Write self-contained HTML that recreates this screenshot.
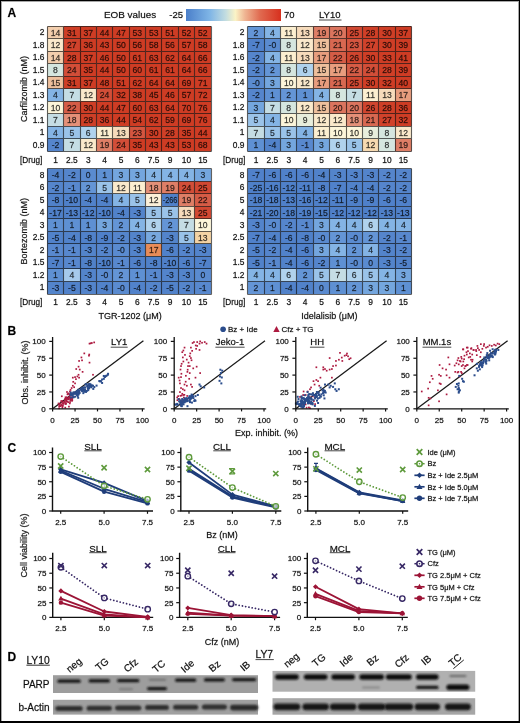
<!DOCTYPE html><html><head><meta charset="utf-8"><style>html,body{margin:0;padding:0;background:#fff;}body{width:520px;height:723px;position:relative;overflow:hidden;}</style></head><body><svg width="520" height="723" viewBox="0 0 520 723" style="position:absolute;left:0;top:0;font-family:'Liberation Sans', sans-serif;will-change:transform">
<style>text{stroke:#000;stroke-opacity:0.45;stroke-width:0.42}</style>
<rect x="0" y="0" width="520" height="723" fill="#fff"/>
<text x="7.50" y="17.00" font-size="12" text-anchor="start" fill="#000" font-weight="bold" >A</text>
<text x="104.00" y="18.20" font-size="9.9" text-anchor="start" fill="#111" font-weight="normal" >EOB values</text>
<text x="183.00" y="18.00" font-size="9.5" text-anchor="end" fill="#111" font-weight="normal" >-25</text>
<defs><linearGradient id="cb" x1="0" x2="1" y1="0" y2="0"><stop offset="0" stop-color="#4a7fca"/><stop offset="0.25" stop-color="#7fb5e6"/><stop offset="0.42" stop-color="#c3dde0"/><stop offset="0.52" stop-color="#fbf3c6"/><stop offset="0.62" stop-color="#efb593"/><stop offset="0.78" stop-color="#e06a50"/><stop offset="1" stop-color="#d7301e"/></linearGradient></defs>
<rect x="186" y="9" width="95" height="12" fill="url(#cb)"/>
<text x="284.00" y="18.00" font-size="9.5" text-anchor="start" fill="#111" font-weight="normal" >70</text>
<text x="319.00" y="18.00" font-size="9.5" text-anchor="start" fill="#111" font-weight="normal" >LY10</text>
<line x1="319" y1="20" x2="341.5" y2="20" stroke="#1a1a1a" stroke-width="0.8"/>
<rect x="47.30" y="26.20" width="16.37" height="12.52" fill="#f3cead"/>
<rect x="63.67" y="26.20" width="16.37" height="12.52" fill="#cf3e26"/>
<rect x="80.04" y="26.20" width="16.37" height="12.52" fill="#ce3c24"/>
<rect x="96.41" y="26.20" width="16.37" height="12.52" fill="#ce3c24"/>
<rect x="112.78" y="26.20" width="16.37" height="12.52" fill="#ce3c24"/>
<rect x="129.15" y="26.20" width="16.37" height="12.52" fill="#ce3c24"/>
<rect x="145.52" y="26.20" width="16.37" height="12.52" fill="#ce3c24"/>
<rect x="161.89" y="26.20" width="16.37" height="12.52" fill="#ce3c24"/>
<rect x="178.26" y="26.20" width="16.37" height="12.52" fill="#ce3c24"/>
<rect x="194.63" y="26.20" width="16.37" height="12.52" fill="#ce3c24"/>
<rect x="47.30" y="38.72" width="16.37" height="12.52" fill="#fae9cb"/>
<rect x="63.67" y="38.72" width="16.37" height="12.52" fill="#d0422b"/>
<rect x="80.04" y="38.72" width="16.37" height="12.52" fill="#ce3c24"/>
<rect x="96.41" y="38.72" width="16.37" height="12.52" fill="#ce3c24"/>
<rect x="112.78" y="38.72" width="16.37" height="12.52" fill="#ce3c24"/>
<rect x="129.15" y="38.72" width="16.37" height="12.52" fill="#ce3c24"/>
<rect x="145.52" y="38.72" width="16.37" height="12.52" fill="#ce3c24"/>
<rect x="161.89" y="38.72" width="16.37" height="12.52" fill="#ce3c24"/>
<rect x="178.26" y="38.72" width="16.37" height="12.52" fill="#ce3c24"/>
<rect x="194.63" y="38.72" width="16.37" height="12.52" fill="#ce3c24"/>
<rect x="47.30" y="51.24" width="16.37" height="12.52" fill="#f3cead"/>
<rect x="63.67" y="51.24" width="16.37" height="12.52" fill="#cf3f27"/>
<rect x="80.04" y="51.24" width="16.37" height="12.52" fill="#ce3c24"/>
<rect x="96.41" y="51.24" width="16.37" height="12.52" fill="#ce3c24"/>
<rect x="112.78" y="51.24" width="16.37" height="12.52" fill="#ce3c24"/>
<rect x="129.15" y="51.24" width="16.37" height="12.52" fill="#ce3c24"/>
<rect x="145.52" y="51.24" width="16.37" height="12.52" fill="#ce3c24"/>
<rect x="161.89" y="51.24" width="16.37" height="12.52" fill="#ce3c24"/>
<rect x="178.26" y="51.24" width="16.37" height="12.52" fill="#ce3c24"/>
<rect x="194.63" y="51.24" width="16.37" height="12.52" fill="#ce3c24"/>
<rect x="47.30" y="63.76" width="16.37" height="12.52" fill="#d5e6df"/>
<rect x="63.67" y="63.76" width="16.37" height="12.52" fill="#d24e38"/>
<rect x="80.04" y="63.76" width="16.37" height="12.52" fill="#ce3c24"/>
<rect x="96.41" y="63.76" width="16.37" height="12.52" fill="#ce3c24"/>
<rect x="112.78" y="63.76" width="16.37" height="12.52" fill="#ce3c24"/>
<rect x="129.15" y="63.76" width="16.37" height="12.52" fill="#ce3c24"/>
<rect x="145.52" y="63.76" width="16.37" height="12.52" fill="#ce3c24"/>
<rect x="161.89" y="63.76" width="16.37" height="12.52" fill="#ce3c24"/>
<rect x="178.26" y="63.76" width="16.37" height="12.52" fill="#ce3c24"/>
<rect x="194.63" y="63.76" width="16.37" height="12.52" fill="#ce3c24"/>
<rect x="47.30" y="76.28" width="16.37" height="12.52" fill="#eebf9c"/>
<rect x="63.67" y="76.28" width="16.37" height="12.52" fill="#cf3e26"/>
<rect x="80.04" y="76.28" width="16.37" height="12.52" fill="#ce3c24"/>
<rect x="96.41" y="76.28" width="16.37" height="12.52" fill="#ce3c24"/>
<rect x="112.78" y="76.28" width="16.37" height="12.52" fill="#ce3c24"/>
<rect x="129.15" y="76.28" width="16.37" height="12.52" fill="#ce3c24"/>
<rect x="145.52" y="76.28" width="16.37" height="12.52" fill="#ce3c24"/>
<rect x="161.89" y="76.28" width="16.37" height="12.52" fill="#ce3c24"/>
<rect x="178.26" y="76.28" width="16.37" height="12.52" fill="#ce3c24"/>
<rect x="194.63" y="76.28" width="16.37" height="12.52" fill="#ce3c24"/>
<rect x="47.30" y="88.80" width="16.37" height="12.52" fill="#84b4e5"/>
<rect x="63.67" y="88.80" width="16.37" height="12.52" fill="#c5dde4"/>
<rect x="80.04" y="88.80" width="16.37" height="12.52" fill="#fae9cb"/>
<rect x="96.41" y="88.80" width="16.37" height="12.52" fill="#d24e38"/>
<rect x="112.78" y="88.80" width="16.37" height="12.52" fill="#ce3d25"/>
<rect x="129.15" y="88.80" width="16.37" height="12.52" fill="#ce3c24"/>
<rect x="145.52" y="88.80" width="16.37" height="12.52" fill="#ce3c24"/>
<rect x="161.89" y="88.80" width="16.37" height="12.52" fill="#ce3c24"/>
<rect x="178.26" y="88.80" width="16.37" height="12.52" fill="#ce3c24"/>
<rect x="194.63" y="88.80" width="16.37" height="12.52" fill="#ce3c24"/>
<rect x="47.30" y="101.32" width="16.37" height="12.52" fill="#fcf5d9"/>
<rect x="63.67" y="101.32" width="16.37" height="12.52" fill="#d55c46"/>
<rect x="80.04" y="101.32" width="16.37" height="12.52" fill="#cf3e26"/>
<rect x="96.41" y="101.32" width="16.37" height="12.52" fill="#ce3c24"/>
<rect x="112.78" y="101.32" width="16.37" height="12.52" fill="#ce3c24"/>
<rect x="129.15" y="101.32" width="16.37" height="12.52" fill="#ce3c24"/>
<rect x="145.52" y="101.32" width="16.37" height="12.52" fill="#ce3c24"/>
<rect x="161.89" y="101.32" width="16.37" height="12.52" fill="#ce3c24"/>
<rect x="178.26" y="101.32" width="16.37" height="12.52" fill="#ce3c24"/>
<rect x="194.63" y="101.32" width="16.37" height="12.52" fill="#ce3c24"/>
<rect x="47.30" y="113.84" width="16.37" height="12.52" fill="#c5dde4"/>
<rect x="63.67" y="113.84" width="16.37" height="12.52" fill="#e49078"/>
<rect x="80.04" y="113.84" width="16.37" height="12.52" fill="#cf3f27"/>
<rect x="96.41" y="113.84" width="16.37" height="12.52" fill="#ce3c24"/>
<rect x="112.78" y="113.84" width="16.37" height="12.52" fill="#ce3c24"/>
<rect x="129.15" y="113.84" width="16.37" height="12.52" fill="#ce3c24"/>
<rect x="145.52" y="113.84" width="16.37" height="12.52" fill="#ce3c24"/>
<rect x="161.89" y="113.84" width="16.37" height="12.52" fill="#ce3c24"/>
<rect x="178.26" y="113.84" width="16.37" height="12.52" fill="#ce3c24"/>
<rect x="194.63" y="113.84" width="16.37" height="12.52" fill="#ce3c24"/>
<rect x="47.30" y="126.36" width="16.37" height="12.52" fill="#84b4e5"/>
<rect x="63.67" y="126.36" width="16.37" height="12.52" fill="#9ac3e9"/>
<rect x="80.04" y="126.36" width="16.37" height="12.52" fill="#b0d2ed"/>
<rect x="96.41" y="126.36" width="16.37" height="12.52" fill="#fcefd0"/>
<rect x="112.78" y="126.36" width="16.37" height="12.52" fill="#f6dbbb"/>
<rect x="129.15" y="126.36" width="16.37" height="12.52" fill="#d4553f"/>
<rect x="145.52" y="126.36" width="16.37" height="12.52" fill="#cf3e26"/>
<rect x="161.89" y="126.36" width="16.37" height="12.52" fill="#cf3f27"/>
<rect x="178.26" y="126.36" width="16.37" height="12.52" fill="#ce3c24"/>
<rect x="194.63" y="126.36" width="16.37" height="12.52" fill="#ce3c24"/>
<rect x="47.30" y="138.88" width="16.37" height="12.52" fill="#5585cc"/>
<rect x="63.67" y="138.88" width="16.37" height="12.52" fill="#c5dde4"/>
<rect x="80.04" y="138.88" width="16.37" height="12.52" fill="#fae9cb"/>
<rect x="96.41" y="138.88" width="16.37" height="12.52" fill="#de7e66"/>
<rect x="112.78" y="138.88" width="16.37" height="12.52" fill="#d24e38"/>
<rect x="129.15" y="138.88" width="16.37" height="12.52" fill="#ce3c24"/>
<rect x="145.52" y="138.88" width="16.37" height="12.52" fill="#ce3c24"/>
<rect x="161.89" y="138.88" width="16.37" height="12.52" fill="#ce3c24"/>
<rect x="178.26" y="138.88" width="16.37" height="12.52" fill="#ce3c24"/>
<rect x="194.63" y="138.88" width="16.37" height="12.52" fill="#ce3c24"/>
<path d="M47.50,26.50V151.50M63.50,26.50V151.50M80.50,26.50V151.50M96.50,26.50V151.50M112.50,26.50V151.50M129.50,26.50V151.50M145.50,26.50V151.50M161.50,26.50V151.50M178.50,26.50V151.50M194.50,26.50V151.50M211.50,26.50V151.50M47.50,26.50H211.50M47.50,38.50H211.50M47.50,51.50H211.50M47.50,63.50H211.50M47.50,76.50H211.50M47.50,88.50H211.50M47.50,101.50H211.50M47.50,113.50H211.50M47.50,126.50H211.50M47.50,138.50H211.50M47.50,151.50H211.50" fill="none" stroke="#000" stroke-opacity="0.62" stroke-width="1.1"/>
<text x="55.48" y="35.56" font-size="8.6" text-anchor="middle" fill="#312923" style="stroke:#312923;stroke-opacity:0.55;stroke-width:0.32">14</text>
<text x="71.86" y="35.56" font-size="8.6" text-anchor="middle" fill="#290c08" style="stroke:#290c08;stroke-opacity:0.55;stroke-width:0.32">31</text>
<text x="88.22" y="35.56" font-size="8.6" text-anchor="middle" fill="#290c07" style="stroke:#290c07;stroke-opacity:0.55;stroke-width:0.32">37</text>
<text x="104.59" y="35.56" font-size="8.6" text-anchor="middle" fill="#290c07" style="stroke:#290c07;stroke-opacity:0.55;stroke-width:0.32">44</text>
<text x="120.97" y="35.56" font-size="8.6" text-anchor="middle" fill="#290c07" style="stroke:#290c07;stroke-opacity:0.55;stroke-width:0.32">47</text>
<text x="137.34" y="35.56" font-size="8.6" text-anchor="middle" fill="#290c07" style="stroke:#290c07;stroke-opacity:0.55;stroke-width:0.32">53</text>
<text x="153.70" y="35.56" font-size="8.6" text-anchor="middle" fill="#290c07" style="stroke:#290c07;stroke-opacity:0.55;stroke-width:0.32">53</text>
<text x="170.07" y="35.56" font-size="8.6" text-anchor="middle" fill="#290c07" style="stroke:#290c07;stroke-opacity:0.55;stroke-width:0.32">51</text>
<text x="186.44" y="35.56" font-size="8.6" text-anchor="middle" fill="#290c07" style="stroke:#290c07;stroke-opacity:0.55;stroke-width:0.32">52</text>
<text x="202.81" y="35.56" font-size="8.6" text-anchor="middle" fill="#290c07" style="stroke:#290c07;stroke-opacity:0.55;stroke-width:0.32">52</text>
<text x="55.48" y="48.08" font-size="8.6" text-anchor="middle" fill="#322f29" style="stroke:#322f29;stroke-opacity:0.55;stroke-width:0.32">12</text>
<text x="71.86" y="48.08" font-size="8.6" text-anchor="middle" fill="#2a0d09" style="stroke:#2a0d09;stroke-opacity:0.55;stroke-width:0.32">27</text>
<text x="88.22" y="48.08" font-size="8.6" text-anchor="middle" fill="#290c07" style="stroke:#290c07;stroke-opacity:0.55;stroke-width:0.32">36</text>
<text x="104.59" y="48.08" font-size="8.6" text-anchor="middle" fill="#290c07" style="stroke:#290c07;stroke-opacity:0.55;stroke-width:0.32">43</text>
<text x="120.97" y="48.08" font-size="8.6" text-anchor="middle" fill="#290c07" style="stroke:#290c07;stroke-opacity:0.55;stroke-width:0.32">50</text>
<text x="137.34" y="48.08" font-size="8.6" text-anchor="middle" fill="#290c07" style="stroke:#290c07;stroke-opacity:0.55;stroke-width:0.32">56</text>
<text x="153.70" y="48.08" font-size="8.6" text-anchor="middle" fill="#290c07" style="stroke:#290c07;stroke-opacity:0.55;stroke-width:0.32">58</text>
<text x="170.07" y="48.08" font-size="8.6" text-anchor="middle" fill="#290c07" style="stroke:#290c07;stroke-opacity:0.55;stroke-width:0.32">56</text>
<text x="186.44" y="48.08" font-size="8.6" text-anchor="middle" fill="#290c07" style="stroke:#290c07;stroke-opacity:0.55;stroke-width:0.32">57</text>
<text x="202.81" y="48.08" font-size="8.6" text-anchor="middle" fill="#290c07" style="stroke:#290c07;stroke-opacity:0.55;stroke-width:0.32">58</text>
<text x="55.48" y="60.60" font-size="8.6" text-anchor="middle" fill="#312923" style="stroke:#312923;stroke-opacity:0.55;stroke-width:0.32">14</text>
<text x="71.86" y="60.60" font-size="8.6" text-anchor="middle" fill="#290d08" style="stroke:#290d08;stroke-opacity:0.55;stroke-width:0.32">28</text>
<text x="88.22" y="60.60" font-size="8.6" text-anchor="middle" fill="#290c07" style="stroke:#290c07;stroke-opacity:0.55;stroke-width:0.32">37</text>
<text x="104.59" y="60.60" font-size="8.6" text-anchor="middle" fill="#290c07" style="stroke:#290c07;stroke-opacity:0.55;stroke-width:0.32">46</text>
<text x="120.97" y="60.60" font-size="8.6" text-anchor="middle" fill="#290c07" style="stroke:#290c07;stroke-opacity:0.55;stroke-width:0.32">50</text>
<text x="137.34" y="60.60" font-size="8.6" text-anchor="middle" fill="#290c07" style="stroke:#290c07;stroke-opacity:0.55;stroke-width:0.32">61</text>
<text x="153.70" y="60.60" font-size="8.6" text-anchor="middle" fill="#290c07" style="stroke:#290c07;stroke-opacity:0.55;stroke-width:0.32">63</text>
<text x="170.07" y="60.60" font-size="8.6" text-anchor="middle" fill="#290c07" style="stroke:#290c07;stroke-opacity:0.55;stroke-width:0.32">62</text>
<text x="186.44" y="60.60" font-size="8.6" text-anchor="middle" fill="#290c07" style="stroke:#290c07;stroke-opacity:0.55;stroke-width:0.32">64</text>
<text x="202.81" y="60.60" font-size="8.6" text-anchor="middle" fill="#290c07" style="stroke:#290c07;stroke-opacity:0.55;stroke-width:0.32">66</text>
<text x="55.48" y="73.12" font-size="8.6" text-anchor="middle" fill="#2b2e2d" style="stroke:#2b2e2d;stroke-opacity:0.55;stroke-width:0.32">8</text>
<text x="71.86" y="73.12" font-size="8.6" text-anchor="middle" fill="#2a100b" style="stroke:#2a100b;stroke-opacity:0.55;stroke-width:0.32">24</text>
<text x="88.22" y="73.12" font-size="8.6" text-anchor="middle" fill="#290c07" style="stroke:#290c07;stroke-opacity:0.55;stroke-width:0.32">35</text>
<text x="104.59" y="73.12" font-size="8.6" text-anchor="middle" fill="#290c07" style="stroke:#290c07;stroke-opacity:0.55;stroke-width:0.32">44</text>
<text x="120.97" y="73.12" font-size="8.6" text-anchor="middle" fill="#290c07" style="stroke:#290c07;stroke-opacity:0.55;stroke-width:0.32">50</text>
<text x="137.34" y="73.12" font-size="8.6" text-anchor="middle" fill="#290c07" style="stroke:#290c07;stroke-opacity:0.55;stroke-width:0.32">60</text>
<text x="153.70" y="73.12" font-size="8.6" text-anchor="middle" fill="#290c07" style="stroke:#290c07;stroke-opacity:0.55;stroke-width:0.32">61</text>
<text x="170.07" y="73.12" font-size="8.6" text-anchor="middle" fill="#290c07" style="stroke:#290c07;stroke-opacity:0.55;stroke-width:0.32">61</text>
<text x="186.44" y="73.12" font-size="8.6" text-anchor="middle" fill="#290c07" style="stroke:#290c07;stroke-opacity:0.55;stroke-width:0.32">64</text>
<text x="202.81" y="73.12" font-size="8.6" text-anchor="middle" fill="#290c07" style="stroke:#290c07;stroke-opacity:0.55;stroke-width:0.32">66</text>
<text x="55.48" y="85.64" font-size="8.6" text-anchor="middle" fill="#30261f" style="stroke:#30261f;stroke-opacity:0.55;stroke-width:0.32">15</text>
<text x="71.86" y="85.64" font-size="8.6" text-anchor="middle" fill="#290c08" style="stroke:#290c08;stroke-opacity:0.55;stroke-width:0.32">31</text>
<text x="88.22" y="85.64" font-size="8.6" text-anchor="middle" fill="#290c07" style="stroke:#290c07;stroke-opacity:0.55;stroke-width:0.32">37</text>
<text x="104.59" y="85.64" font-size="8.6" text-anchor="middle" fill="#290c07" style="stroke:#290c07;stroke-opacity:0.55;stroke-width:0.32">48</text>
<text x="120.97" y="85.64" font-size="8.6" text-anchor="middle" fill="#290c07" style="stroke:#290c07;stroke-opacity:0.55;stroke-width:0.32">51</text>
<text x="137.34" y="85.64" font-size="8.6" text-anchor="middle" fill="#290c07" style="stroke:#290c07;stroke-opacity:0.55;stroke-width:0.32">62</text>
<text x="153.70" y="85.64" font-size="8.6" text-anchor="middle" fill="#290c07" style="stroke:#290c07;stroke-opacity:0.55;stroke-width:0.32">64</text>
<text x="170.07" y="85.64" font-size="8.6" text-anchor="middle" fill="#290c07" style="stroke:#290c07;stroke-opacity:0.55;stroke-width:0.32">64</text>
<text x="186.44" y="85.64" font-size="8.6" text-anchor="middle" fill="#290c07" style="stroke:#290c07;stroke-opacity:0.55;stroke-width:0.32">69</text>
<text x="202.81" y="85.64" font-size="8.6" text-anchor="middle" fill="#290c07" style="stroke:#290c07;stroke-opacity:0.55;stroke-width:0.32">71</text>
<text x="55.48" y="98.16" font-size="8.6" text-anchor="middle" fill="#1a242e" style="stroke:#1a242e;stroke-opacity:0.55;stroke-width:0.32">4</text>
<text x="71.86" y="98.16" font-size="8.6" text-anchor="middle" fill="#272c2e" style="stroke:#272c2e;stroke-opacity:0.55;stroke-width:0.32">7</text>
<text x="88.22" y="98.16" font-size="8.6" text-anchor="middle" fill="#322f29" style="stroke:#322f29;stroke-opacity:0.55;stroke-width:0.32">12</text>
<text x="104.59" y="98.16" font-size="8.6" text-anchor="middle" fill="#2a100b" style="stroke:#2a100b;stroke-opacity:0.55;stroke-width:0.32">24</text>
<text x="120.97" y="98.16" font-size="8.6" text-anchor="middle" fill="#290c07" style="stroke:#290c07;stroke-opacity:0.55;stroke-width:0.32">32</text>
<text x="137.34" y="98.16" font-size="8.6" text-anchor="middle" fill="#290c07" style="stroke:#290c07;stroke-opacity:0.55;stroke-width:0.32">38</text>
<text x="153.70" y="98.16" font-size="8.6" text-anchor="middle" fill="#290c07" style="stroke:#290c07;stroke-opacity:0.55;stroke-width:0.32">45</text>
<text x="170.07" y="98.16" font-size="8.6" text-anchor="middle" fill="#290c07" style="stroke:#290c07;stroke-opacity:0.55;stroke-width:0.32">46</text>
<text x="186.44" y="98.16" font-size="8.6" text-anchor="middle" fill="#290c07" style="stroke:#290c07;stroke-opacity:0.55;stroke-width:0.32">57</text>
<text x="202.81" y="98.16" font-size="8.6" text-anchor="middle" fill="#290c07" style="stroke:#290c07;stroke-opacity:0.55;stroke-width:0.32">72</text>
<text x="55.48" y="110.68" font-size="8.6" text-anchor="middle" fill="#32312b" style="stroke:#32312b;stroke-opacity:0.55;stroke-width:0.32">10</text>
<text x="71.86" y="110.68" font-size="8.6" text-anchor="middle" fill="#2b120e" style="stroke:#2b120e;stroke-opacity:0.55;stroke-width:0.32">22</text>
<text x="88.22" y="110.68" font-size="8.6" text-anchor="middle" fill="#290c08" style="stroke:#290c08;stroke-opacity:0.55;stroke-width:0.32">30</text>
<text x="104.59" y="110.68" font-size="8.6" text-anchor="middle" fill="#290c07" style="stroke:#290c07;stroke-opacity:0.55;stroke-width:0.32">44</text>
<text x="120.97" y="110.68" font-size="8.6" text-anchor="middle" fill="#290c07" style="stroke:#290c07;stroke-opacity:0.55;stroke-width:0.32">47</text>
<text x="137.34" y="110.68" font-size="8.6" text-anchor="middle" fill="#290c07" style="stroke:#290c07;stroke-opacity:0.55;stroke-width:0.32">60</text>
<text x="153.70" y="110.68" font-size="8.6" text-anchor="middle" fill="#290c07" style="stroke:#290c07;stroke-opacity:0.55;stroke-width:0.32">63</text>
<text x="170.07" y="110.68" font-size="8.6" text-anchor="middle" fill="#290c07" style="stroke:#290c07;stroke-opacity:0.55;stroke-width:0.32">64</text>
<text x="186.44" y="110.68" font-size="8.6" text-anchor="middle" fill="#290c07" style="stroke:#290c07;stroke-opacity:0.55;stroke-width:0.32">70</text>
<text x="202.81" y="110.68" font-size="8.6" text-anchor="middle" fill="#290c07" style="stroke:#290c07;stroke-opacity:0.55;stroke-width:0.32">76</text>
<text x="55.48" y="123.20" font-size="8.6" text-anchor="middle" fill="#272c2e" style="stroke:#272c2e;stroke-opacity:0.55;stroke-width:0.32">7</text>
<text x="71.86" y="123.20" font-size="8.6" text-anchor="middle" fill="#2e1d18" style="stroke:#2e1d18;stroke-opacity:0.55;stroke-width:0.32">18</text>
<text x="88.22" y="123.20" font-size="8.6" text-anchor="middle" fill="#290d08" style="stroke:#290d08;stroke-opacity:0.55;stroke-width:0.32">28</text>
<text x="104.59" y="123.20" font-size="8.6" text-anchor="middle" fill="#290c07" style="stroke:#290c07;stroke-opacity:0.55;stroke-width:0.32">36</text>
<text x="120.97" y="123.20" font-size="8.6" text-anchor="middle" fill="#290c07" style="stroke:#290c07;stroke-opacity:0.55;stroke-width:0.32">44</text>
<text x="137.34" y="123.20" font-size="8.6" text-anchor="middle" fill="#290c07" style="stroke:#290c07;stroke-opacity:0.55;stroke-width:0.32">54</text>
<text x="153.70" y="123.20" font-size="8.6" text-anchor="middle" fill="#290c07" style="stroke:#290c07;stroke-opacity:0.55;stroke-width:0.32">62</text>
<text x="170.07" y="123.20" font-size="8.6" text-anchor="middle" fill="#290c07" style="stroke:#290c07;stroke-opacity:0.55;stroke-width:0.32">59</text>
<text x="186.44" y="123.20" font-size="8.6" text-anchor="middle" fill="#290c07" style="stroke:#290c07;stroke-opacity:0.55;stroke-width:0.32">69</text>
<text x="202.81" y="123.20" font-size="8.6" text-anchor="middle" fill="#290c07" style="stroke:#290c07;stroke-opacity:0.55;stroke-width:0.32">76</text>
<text x="55.48" y="135.72" font-size="8.6" text-anchor="middle" fill="#1a242e" style="stroke:#1a242e;stroke-opacity:0.55;stroke-width:0.32">4</text>
<text x="71.86" y="135.72" font-size="8.6" text-anchor="middle" fill="#1f272f" style="stroke:#1f272f;stroke-opacity:0.55;stroke-width:0.32">5</text>
<text x="88.22" y="135.72" font-size="8.6" text-anchor="middle" fill="#232a2f" style="stroke:#232a2f;stroke-opacity:0.55;stroke-width:0.32">6</text>
<text x="104.59" y="135.72" font-size="8.6" text-anchor="middle" fill="#32302a" style="stroke:#32302a;stroke-opacity:0.55;stroke-width:0.32">11</text>
<text x="120.97" y="135.72" font-size="8.6" text-anchor="middle" fill="#312c25" style="stroke:#312c25;stroke-opacity:0.55;stroke-width:0.32">13</text>
<text x="137.34" y="135.72" font-size="8.6" text-anchor="middle" fill="#2a110d" style="stroke:#2a110d;stroke-opacity:0.55;stroke-width:0.32">23</text>
<text x="153.70" y="135.72" font-size="8.6" text-anchor="middle" fill="#290c08" style="stroke:#290c08;stroke-opacity:0.55;stroke-width:0.32">30</text>
<text x="170.07" y="135.72" font-size="8.6" text-anchor="middle" fill="#290d08" style="stroke:#290d08;stroke-opacity:0.55;stroke-width:0.32">28</text>
<text x="186.44" y="135.72" font-size="8.6" text-anchor="middle" fill="#290c07" style="stroke:#290c07;stroke-opacity:0.55;stroke-width:0.32">35</text>
<text x="202.81" y="135.72" font-size="8.6" text-anchor="middle" fill="#290c07" style="stroke:#290c07;stroke-opacity:0.55;stroke-width:0.32">44</text>
<text x="55.48" y="148.24" font-size="8.6" text-anchor="middle" fill="#111b29" style="stroke:#111b29;stroke-opacity:0.55;stroke-width:0.32">-2</text>
<text x="71.86" y="148.24" font-size="8.6" text-anchor="middle" fill="#272c2e" style="stroke:#272c2e;stroke-opacity:0.55;stroke-width:0.32">7</text>
<text x="88.22" y="148.24" font-size="8.6" text-anchor="middle" fill="#322f29" style="stroke:#322f29;stroke-opacity:0.55;stroke-width:0.32">12</text>
<text x="104.59" y="148.24" font-size="8.6" text-anchor="middle" fill="#2c1914" style="stroke:#2c1914;stroke-opacity:0.55;stroke-width:0.32">19</text>
<text x="120.97" y="148.24" font-size="8.6" text-anchor="middle" fill="#2a100b" style="stroke:#2a100b;stroke-opacity:0.55;stroke-width:0.32">24</text>
<text x="137.34" y="148.24" font-size="8.6" text-anchor="middle" fill="#290c07" style="stroke:#290c07;stroke-opacity:0.55;stroke-width:0.32">35</text>
<text x="153.70" y="148.24" font-size="8.6" text-anchor="middle" fill="#290c07" style="stroke:#290c07;stroke-opacity:0.55;stroke-width:0.32">43</text>
<text x="170.07" y="148.24" font-size="8.6" text-anchor="middle" fill="#290c07" style="stroke:#290c07;stroke-opacity:0.55;stroke-width:0.32">43</text>
<text x="186.44" y="148.24" font-size="8.6" text-anchor="middle" fill="#290c07" style="stroke:#290c07;stroke-opacity:0.55;stroke-width:0.32">53</text>
<text x="202.81" y="148.24" font-size="8.6" text-anchor="middle" fill="#290c07" style="stroke:#290c07;stroke-opacity:0.55;stroke-width:0.32">68</text>
<rect x="247.80" y="26.20" width="16.37" height="12.52" fill="#6495d6"/>
<rect x="264.17" y="26.20" width="16.37" height="12.52" fill="#84b4e5"/>
<rect x="280.54" y="26.20" width="16.37" height="12.52" fill="#fcefd0"/>
<rect x="296.91" y="26.20" width="16.37" height="12.52" fill="#f6dbbb"/>
<rect x="313.28" y="26.20" width="16.37" height="12.52" fill="#de7e66"/>
<rect x="329.65" y="26.20" width="16.37" height="12.52" fill="#db745e"/>
<rect x="346.02" y="26.20" width="16.37" height="12.52" fill="#d14832"/>
<rect x="362.39" y="26.20" width="16.37" height="12.52" fill="#cf3f27"/>
<rect x="378.76" y="26.20" width="16.37" height="12.52" fill="#cf3e26"/>
<rect x="395.13" y="26.20" width="16.37" height="12.52" fill="#ce3c24"/>
<rect x="247.80" y="38.72" width="16.37" height="12.52" fill="#5081ca"/>
<rect x="264.17" y="38.72" width="16.37" height="12.52" fill="#5a8bd0"/>
<rect x="280.54" y="38.72" width="16.37" height="12.52" fill="#d5e6df"/>
<rect x="296.91" y="38.72" width="16.37" height="12.52" fill="#fae9cb"/>
<rect x="313.28" y="38.72" width="16.37" height="12.52" fill="#eebf9c"/>
<rect x="329.65" y="38.72" width="16.37" height="12.52" fill="#d86851"/>
<rect x="346.02" y="38.72" width="16.37" height="12.52" fill="#d4553f"/>
<rect x="362.39" y="38.72" width="16.37" height="12.52" fill="#d0422b"/>
<rect x="378.76" y="38.72" width="16.37" height="12.52" fill="#cf3e26"/>
<rect x="395.13" y="38.72" width="16.37" height="12.52" fill="#ce3c24"/>
<rect x="247.80" y="51.24" width="16.37" height="12.52" fill="#5585cc"/>
<rect x="264.17" y="51.24" width="16.37" height="12.52" fill="#84b4e5"/>
<rect x="280.54" y="51.24" width="16.37" height="12.52" fill="#fcefd0"/>
<rect x="296.91" y="51.24" width="16.37" height="12.52" fill="#f6dbbb"/>
<rect x="313.28" y="51.24" width="16.37" height="12.52" fill="#e89d7e"/>
<rect x="329.65" y="51.24" width="16.37" height="12.52" fill="#d55c46"/>
<rect x="346.02" y="51.24" width="16.37" height="12.52" fill="#d0452e"/>
<rect x="362.39" y="51.24" width="16.37" height="12.52" fill="#cf3e26"/>
<rect x="378.76" y="51.24" width="16.37" height="12.52" fill="#ce3d25"/>
<rect x="395.13" y="51.24" width="16.37" height="12.52" fill="#ce3c24"/>
<rect x="247.80" y="63.76" width="16.37" height="12.52" fill="#5585cc"/>
<rect x="264.17" y="63.76" width="16.37" height="12.52" fill="#6495d6"/>
<rect x="280.54" y="63.76" width="16.37" height="12.52" fill="#d5e6df"/>
<rect x="296.91" y="63.76" width="16.37" height="12.52" fill="#b0d2ed"/>
<rect x="313.28" y="63.76" width="16.37" height="12.52" fill="#eebf9c"/>
<rect x="329.65" y="63.76" width="16.37" height="12.52" fill="#e89d7e"/>
<rect x="346.02" y="63.76" width="16.37" height="12.52" fill="#d55c46"/>
<rect x="362.39" y="63.76" width="16.37" height="12.52" fill="#d24e38"/>
<rect x="378.76" y="63.76" width="16.37" height="12.52" fill="#cf3f27"/>
<rect x="395.13" y="63.76" width="16.37" height="12.52" fill="#ce3c24"/>
<rect x="247.80" y="76.28" width="16.37" height="12.52" fill="#5a8bd0"/>
<rect x="264.17" y="76.28" width="16.37" height="12.52" fill="#74a6de"/>
<rect x="280.54" y="76.28" width="16.37" height="12.52" fill="#fcf5d9"/>
<rect x="296.91" y="76.28" width="16.37" height="12.52" fill="#fae9cb"/>
<rect x="313.28" y="76.28" width="16.37" height="12.52" fill="#e89d7e"/>
<rect x="329.65" y="76.28" width="16.37" height="12.52" fill="#d86851"/>
<rect x="346.02" y="76.28" width="16.37" height="12.52" fill="#d14832"/>
<rect x="362.39" y="76.28" width="16.37" height="12.52" fill="#cf3e26"/>
<rect x="378.76" y="76.28" width="16.37" height="12.52" fill="#ce3d25"/>
<rect x="395.13" y="76.28" width="16.37" height="12.52" fill="#ce3c24"/>
<rect x="247.80" y="88.80" width="16.37" height="12.52" fill="#5585cc"/>
<rect x="264.17" y="88.80" width="16.37" height="12.52" fill="#5e90d3"/>
<rect x="280.54" y="88.80" width="16.37" height="12.52" fill="#6495d6"/>
<rect x="296.91" y="88.80" width="16.37" height="12.52" fill="#5e90d3"/>
<rect x="313.28" y="88.80" width="16.37" height="12.52" fill="#84b4e5"/>
<rect x="329.65" y="88.80" width="16.37" height="12.52" fill="#d5e6df"/>
<rect x="346.02" y="88.80" width="16.37" height="12.52" fill="#c5dde4"/>
<rect x="362.39" y="88.80" width="16.37" height="12.52" fill="#fcefd0"/>
<rect x="378.76" y="88.80" width="16.37" height="12.52" fill="#f6dbbb"/>
<rect x="395.13" y="88.80" width="16.37" height="12.52" fill="#e89d7e"/>
<rect x="247.80" y="101.32" width="16.37" height="12.52" fill="#74a6de"/>
<rect x="264.17" y="101.32" width="16.37" height="12.52" fill="#c5dde4"/>
<rect x="280.54" y="101.32" width="16.37" height="12.52" fill="#d5e6df"/>
<rect x="296.91" y="101.32" width="16.37" height="12.52" fill="#fae9cb"/>
<rect x="313.28" y="101.32" width="16.37" height="12.52" fill="#eebf9c"/>
<rect x="329.65" y="101.32" width="16.37" height="12.52" fill="#db745e"/>
<rect x="346.02" y="101.32" width="16.37" height="12.52" fill="#db745e"/>
<rect x="362.39" y="101.32" width="16.37" height="12.52" fill="#d0452e"/>
<rect x="378.76" y="101.32" width="16.37" height="12.52" fill="#cf3f27"/>
<rect x="395.13" y="101.32" width="16.37" height="12.52" fill="#ce3c24"/>
<rect x="247.80" y="113.84" width="16.37" height="12.52" fill="#9ac3e9"/>
<rect x="264.17" y="113.84" width="16.37" height="12.52" fill="#84b4e5"/>
<rect x="280.54" y="113.84" width="16.37" height="12.52" fill="#fcf5d9"/>
<rect x="296.91" y="113.84" width="16.37" height="12.52" fill="#e8eedc"/>
<rect x="313.28" y="113.84" width="16.37" height="12.52" fill="#fae9cb"/>
<rect x="329.65" y="113.84" width="16.37" height="12.52" fill="#fae9cb"/>
<rect x="346.02" y="113.84" width="16.37" height="12.52" fill="#e49078"/>
<rect x="362.39" y="113.84" width="16.37" height="12.52" fill="#d86851"/>
<rect x="378.76" y="113.84" width="16.37" height="12.52" fill="#d0422b"/>
<rect x="395.13" y="113.84" width="16.37" height="12.52" fill="#ce3d25"/>
<rect x="247.80" y="126.36" width="16.37" height="12.52" fill="#c5dde4"/>
<rect x="264.17" y="126.36" width="16.37" height="12.52" fill="#9ac3e9"/>
<rect x="280.54" y="126.36" width="16.37" height="12.52" fill="#9ac3e9"/>
<rect x="296.91" y="126.36" width="16.37" height="12.52" fill="#84b4e5"/>
<rect x="313.28" y="126.36" width="16.37" height="12.52" fill="#fcefd0"/>
<rect x="329.65" y="126.36" width="16.37" height="12.52" fill="#fcf5d9"/>
<rect x="346.02" y="126.36" width="16.37" height="12.52" fill="#fcf5d9"/>
<rect x="362.39" y="126.36" width="16.37" height="12.52" fill="#e8eedc"/>
<rect x="378.76" y="126.36" width="16.37" height="12.52" fill="#d5e6df"/>
<rect x="395.13" y="126.36" width="16.37" height="12.52" fill="#fae9cb"/>
<rect x="247.80" y="138.88" width="16.37" height="12.52" fill="#5e90d3"/>
<rect x="264.17" y="138.88" width="16.37" height="12.52" fill="#5182ca"/>
<rect x="280.54" y="138.88" width="16.37" height="12.52" fill="#74a6de"/>
<rect x="296.91" y="138.88" width="16.37" height="12.52" fill="#5888ce"/>
<rect x="313.28" y="138.88" width="16.37" height="12.52" fill="#74a6de"/>
<rect x="329.65" y="138.88" width="16.37" height="12.52" fill="#b0d2ed"/>
<rect x="346.02" y="138.88" width="16.37" height="12.52" fill="#9ac3e9"/>
<rect x="362.39" y="138.88" width="16.37" height="12.52" fill="#f6d9b0"/>
<rect x="378.76" y="138.88" width="16.37" height="12.52" fill="#d5e6df"/>
<rect x="395.13" y="138.88" width="16.37" height="12.52" fill="#de7e66"/>
<path d="M247.50,26.50V151.50M264.50,26.50V151.50M280.50,26.50V151.50M296.50,26.50V151.50M313.50,26.50V151.50M329.50,26.50V151.50M346.50,26.50V151.50M362.50,26.50V151.50M378.50,26.50V151.50M395.50,26.50V151.50M411.50,26.50V151.50M247.50,26.50H411.50M247.50,38.50H411.50M247.50,51.50H411.50M247.50,63.50H411.50M247.50,76.50H411.50M247.50,88.50H411.50M247.50,101.50H411.50M247.50,113.50H411.50M247.50,126.50H411.50M247.50,138.50H411.50M247.50,151.50H411.50" fill="none" stroke="#000" stroke-opacity="0.62" stroke-width="1.1"/>
<text x="255.99" y="35.56" font-size="8.6" text-anchor="middle" fill="#141e2b" style="stroke:#141e2b;stroke-opacity:0.55;stroke-width:0.32">2</text>
<text x="272.36" y="35.56" font-size="8.6" text-anchor="middle" fill="#1a242e" style="stroke:#1a242e;stroke-opacity:0.55;stroke-width:0.32">4</text>
<text x="288.73" y="35.56" font-size="8.6" text-anchor="middle" fill="#32302a" style="stroke:#32302a;stroke-opacity:0.55;stroke-width:0.32">11</text>
<text x="305.10" y="35.56" font-size="8.6" text-anchor="middle" fill="#312c25" style="stroke:#312c25;stroke-opacity:0.55;stroke-width:0.32">13</text>
<text x="321.47" y="35.56" font-size="8.6" text-anchor="middle" fill="#2c1914" style="stroke:#2c1914;stroke-opacity:0.55;stroke-width:0.32">19</text>
<text x="337.84" y="35.56" font-size="8.6" text-anchor="middle" fill="#2c1713" style="stroke:#2c1713;stroke-opacity:0.55;stroke-width:0.32">20</text>
<text x="354.20" y="35.56" font-size="8.6" text-anchor="middle" fill="#2a0e0a" style="stroke:#2a0e0a;stroke-opacity:0.55;stroke-width:0.32">25</text>
<text x="370.57" y="35.56" font-size="8.6" text-anchor="middle" fill="#290d08" style="stroke:#290d08;stroke-opacity:0.55;stroke-width:0.32">28</text>
<text x="386.94" y="35.56" font-size="8.6" text-anchor="middle" fill="#290c08" style="stroke:#290c08;stroke-opacity:0.55;stroke-width:0.32">30</text>
<text x="403.31" y="35.56" font-size="8.6" text-anchor="middle" fill="#290c07" style="stroke:#290c07;stroke-opacity:0.55;stroke-width:0.32">37</text>
<text x="255.99" y="48.08" font-size="8.6" text-anchor="middle" fill="#101a28" style="stroke:#101a28;stroke-opacity:0.55;stroke-width:0.32">-7</text>
<text x="272.36" y="48.08" font-size="8.6" text-anchor="middle" fill="#121c2a" style="stroke:#121c2a;stroke-opacity:0.55;stroke-width:0.32">-0</text>
<text x="288.73" y="48.08" font-size="8.6" text-anchor="middle" fill="#2b2e2d" style="stroke:#2b2e2d;stroke-opacity:0.55;stroke-width:0.32">8</text>
<text x="305.10" y="48.08" font-size="8.6" text-anchor="middle" fill="#322f29" style="stroke:#322f29;stroke-opacity:0.55;stroke-width:0.32">12</text>
<text x="321.47" y="48.08" font-size="8.6" text-anchor="middle" fill="#30261f" style="stroke:#30261f;stroke-opacity:0.55;stroke-width:0.32">15</text>
<text x="337.84" y="48.08" font-size="8.6" text-anchor="middle" fill="#2b1510" style="stroke:#2b1510;stroke-opacity:0.55;stroke-width:0.32">21</text>
<text x="354.20" y="48.08" font-size="8.6" text-anchor="middle" fill="#2a110d" style="stroke:#2a110d;stroke-opacity:0.55;stroke-width:0.32">23</text>
<text x="370.57" y="48.08" font-size="8.6" text-anchor="middle" fill="#2a0d09" style="stroke:#2a0d09;stroke-opacity:0.55;stroke-width:0.32">27</text>
<text x="386.94" y="48.08" font-size="8.6" text-anchor="middle" fill="#290c08" style="stroke:#290c08;stroke-opacity:0.55;stroke-width:0.32">30</text>
<text x="403.31" y="48.08" font-size="8.6" text-anchor="middle" fill="#290c07" style="stroke:#290c07;stroke-opacity:0.55;stroke-width:0.32">39</text>
<text x="255.99" y="60.60" font-size="8.6" text-anchor="middle" fill="#111b29" style="stroke:#111b29;stroke-opacity:0.55;stroke-width:0.32">-2</text>
<text x="272.36" y="60.60" font-size="8.6" text-anchor="middle" fill="#1a242e" style="stroke:#1a242e;stroke-opacity:0.55;stroke-width:0.32">4</text>
<text x="288.73" y="60.60" font-size="8.6" text-anchor="middle" fill="#32302a" style="stroke:#32302a;stroke-opacity:0.55;stroke-width:0.32">11</text>
<text x="305.10" y="60.60" font-size="8.6" text-anchor="middle" fill="#312c25" style="stroke:#312c25;stroke-opacity:0.55;stroke-width:0.32">13</text>
<text x="321.47" y="60.60" font-size="8.6" text-anchor="middle" fill="#2e1f19" style="stroke:#2e1f19;stroke-opacity:0.55;stroke-width:0.32">17</text>
<text x="337.84" y="60.60" font-size="8.6" text-anchor="middle" fill="#2b120e" style="stroke:#2b120e;stroke-opacity:0.55;stroke-width:0.32">22</text>
<text x="354.20" y="60.60" font-size="8.6" text-anchor="middle" fill="#2a0e09" style="stroke:#2a0e09;stroke-opacity:0.55;stroke-width:0.32">26</text>
<text x="370.57" y="60.60" font-size="8.6" text-anchor="middle" fill="#290c08" style="stroke:#290c08;stroke-opacity:0.55;stroke-width:0.32">30</text>
<text x="386.94" y="60.60" font-size="8.6" text-anchor="middle" fill="#290c07" style="stroke:#290c07;stroke-opacity:0.55;stroke-width:0.32">33</text>
<text x="403.31" y="60.60" font-size="8.6" text-anchor="middle" fill="#290c07" style="stroke:#290c07;stroke-opacity:0.55;stroke-width:0.32">41</text>
<text x="255.99" y="73.12" font-size="8.6" text-anchor="middle" fill="#111b29" style="stroke:#111b29;stroke-opacity:0.55;stroke-width:0.32">-2</text>
<text x="272.36" y="73.12" font-size="8.6" text-anchor="middle" fill="#141e2b" style="stroke:#141e2b;stroke-opacity:0.55;stroke-width:0.32">2</text>
<text x="288.73" y="73.12" font-size="8.6" text-anchor="middle" fill="#2b2e2d" style="stroke:#2b2e2d;stroke-opacity:0.55;stroke-width:0.32">8</text>
<text x="305.10" y="73.12" font-size="8.6" text-anchor="middle" fill="#232a2f" style="stroke:#232a2f;stroke-opacity:0.55;stroke-width:0.32">6</text>
<text x="321.47" y="73.12" font-size="8.6" text-anchor="middle" fill="#30261f" style="stroke:#30261f;stroke-opacity:0.55;stroke-width:0.32">15</text>
<text x="337.84" y="73.12" font-size="8.6" text-anchor="middle" fill="#2e1f19" style="stroke:#2e1f19;stroke-opacity:0.55;stroke-width:0.32">17</text>
<text x="354.20" y="73.12" font-size="8.6" text-anchor="middle" fill="#2b120e" style="stroke:#2b120e;stroke-opacity:0.55;stroke-width:0.32">22</text>
<text x="370.57" y="73.12" font-size="8.6" text-anchor="middle" fill="#2a100b" style="stroke:#2a100b;stroke-opacity:0.55;stroke-width:0.32">24</text>
<text x="386.94" y="73.12" font-size="8.6" text-anchor="middle" fill="#290d08" style="stroke:#290d08;stroke-opacity:0.55;stroke-width:0.32">28</text>
<text x="403.31" y="73.12" font-size="8.6" text-anchor="middle" fill="#290c07" style="stroke:#290c07;stroke-opacity:0.55;stroke-width:0.32">39</text>
<text x="255.99" y="85.64" font-size="8.6" text-anchor="middle" fill="#121c2a" style="stroke:#121c2a;stroke-opacity:0.55;stroke-width:0.32">-0</text>
<text x="272.36" y="85.64" font-size="8.6" text-anchor="middle" fill="#17212c" style="stroke:#17212c;stroke-opacity:0.55;stroke-width:0.32">3</text>
<text x="288.73" y="85.64" font-size="8.6" text-anchor="middle" fill="#32312b" style="stroke:#32312b;stroke-opacity:0.55;stroke-width:0.32">10</text>
<text x="305.10" y="85.64" font-size="8.6" text-anchor="middle" fill="#322f29" style="stroke:#322f29;stroke-opacity:0.55;stroke-width:0.32">12</text>
<text x="321.47" y="85.64" font-size="8.6" text-anchor="middle" fill="#2e1f19" style="stroke:#2e1f19;stroke-opacity:0.55;stroke-width:0.32">17</text>
<text x="337.84" y="85.64" font-size="8.6" text-anchor="middle" fill="#2b1510" style="stroke:#2b1510;stroke-opacity:0.55;stroke-width:0.32">21</text>
<text x="354.20" y="85.64" font-size="8.6" text-anchor="middle" fill="#2a0e0a" style="stroke:#2a0e0a;stroke-opacity:0.55;stroke-width:0.32">25</text>
<text x="370.57" y="85.64" font-size="8.6" text-anchor="middle" fill="#290c08" style="stroke:#290c08;stroke-opacity:0.55;stroke-width:0.32">30</text>
<text x="386.94" y="85.64" font-size="8.6" text-anchor="middle" fill="#290c07" style="stroke:#290c07;stroke-opacity:0.55;stroke-width:0.32">32</text>
<text x="403.31" y="85.64" font-size="8.6" text-anchor="middle" fill="#290c07" style="stroke:#290c07;stroke-opacity:0.55;stroke-width:0.32">40</text>
<text x="255.99" y="98.16" font-size="8.6" text-anchor="middle" fill="#111b29" style="stroke:#111b29;stroke-opacity:0.55;stroke-width:0.32">-2</text>
<text x="272.36" y="98.16" font-size="8.6" text-anchor="middle" fill="#131d2a" style="stroke:#131d2a;stroke-opacity:0.55;stroke-width:0.32">1</text>
<text x="288.73" y="98.16" font-size="8.6" text-anchor="middle" fill="#141e2b" style="stroke:#141e2b;stroke-opacity:0.55;stroke-width:0.32">2</text>
<text x="305.10" y="98.16" font-size="8.6" text-anchor="middle" fill="#131d2a" style="stroke:#131d2a;stroke-opacity:0.55;stroke-width:0.32">1</text>
<text x="321.47" y="98.16" font-size="8.6" text-anchor="middle" fill="#1a242e" style="stroke:#1a242e;stroke-opacity:0.55;stroke-width:0.32">4</text>
<text x="337.84" y="98.16" font-size="8.6" text-anchor="middle" fill="#2b2e2d" style="stroke:#2b2e2d;stroke-opacity:0.55;stroke-width:0.32">8</text>
<text x="354.20" y="98.16" font-size="8.6" text-anchor="middle" fill="#272c2e" style="stroke:#272c2e;stroke-opacity:0.55;stroke-width:0.32">7</text>
<text x="370.57" y="98.16" font-size="8.6" text-anchor="middle" fill="#32302a" style="stroke:#32302a;stroke-opacity:0.55;stroke-width:0.32">11</text>
<text x="386.94" y="98.16" font-size="8.6" text-anchor="middle" fill="#312c25" style="stroke:#312c25;stroke-opacity:0.55;stroke-width:0.32">13</text>
<text x="403.31" y="98.16" font-size="8.6" text-anchor="middle" fill="#2e1f19" style="stroke:#2e1f19;stroke-opacity:0.55;stroke-width:0.32">17</text>
<text x="255.99" y="110.68" font-size="8.6" text-anchor="middle" fill="#17212c" style="stroke:#17212c;stroke-opacity:0.55;stroke-width:0.32">3</text>
<text x="272.36" y="110.68" font-size="8.6" text-anchor="middle" fill="#272c2e" style="stroke:#272c2e;stroke-opacity:0.55;stroke-width:0.32">7</text>
<text x="288.73" y="110.68" font-size="8.6" text-anchor="middle" fill="#2b2e2d" style="stroke:#2b2e2d;stroke-opacity:0.55;stroke-width:0.32">8</text>
<text x="305.10" y="110.68" font-size="8.6" text-anchor="middle" fill="#322f29" style="stroke:#322f29;stroke-opacity:0.55;stroke-width:0.32">12</text>
<text x="321.47" y="110.68" font-size="8.6" text-anchor="middle" fill="#30261f" style="stroke:#30261f;stroke-opacity:0.55;stroke-width:0.32">15</text>
<text x="337.84" y="110.68" font-size="8.6" text-anchor="middle" fill="#2c1713" style="stroke:#2c1713;stroke-opacity:0.55;stroke-width:0.32">20</text>
<text x="354.20" y="110.68" font-size="8.6" text-anchor="middle" fill="#2c1713" style="stroke:#2c1713;stroke-opacity:0.55;stroke-width:0.32">20</text>
<text x="370.57" y="110.68" font-size="8.6" text-anchor="middle" fill="#2a0e09" style="stroke:#2a0e09;stroke-opacity:0.55;stroke-width:0.32">26</text>
<text x="386.94" y="110.68" font-size="8.6" text-anchor="middle" fill="#290d08" style="stroke:#290d08;stroke-opacity:0.55;stroke-width:0.32">28</text>
<text x="403.31" y="110.68" font-size="8.6" text-anchor="middle" fill="#290c07" style="stroke:#290c07;stroke-opacity:0.55;stroke-width:0.32">36</text>
<text x="255.99" y="123.20" font-size="8.6" text-anchor="middle" fill="#1f272f" style="stroke:#1f272f;stroke-opacity:0.55;stroke-width:0.32">5</text>
<text x="272.36" y="123.20" font-size="8.6" text-anchor="middle" fill="#1a242e" style="stroke:#1a242e;stroke-opacity:0.55;stroke-width:0.32">4</text>
<text x="288.73" y="123.20" font-size="8.6" text-anchor="middle" fill="#32312b" style="stroke:#32312b;stroke-opacity:0.55;stroke-width:0.32">10</text>
<text x="305.10" y="123.20" font-size="8.6" text-anchor="middle" fill="#2e302c" style="stroke:#2e302c;stroke-opacity:0.55;stroke-width:0.32">9</text>
<text x="321.47" y="123.20" font-size="8.6" text-anchor="middle" fill="#322f29" style="stroke:#322f29;stroke-opacity:0.55;stroke-width:0.32">12</text>
<text x="337.84" y="123.20" font-size="8.6" text-anchor="middle" fill="#322f29" style="stroke:#322f29;stroke-opacity:0.55;stroke-width:0.32">12</text>
<text x="354.20" y="123.20" font-size="8.6" text-anchor="middle" fill="#2e1d18" style="stroke:#2e1d18;stroke-opacity:0.55;stroke-width:0.32">18</text>
<text x="370.57" y="123.20" font-size="8.6" text-anchor="middle" fill="#2b1510" style="stroke:#2b1510;stroke-opacity:0.55;stroke-width:0.32">21</text>
<text x="386.94" y="123.20" font-size="8.6" text-anchor="middle" fill="#2a0d09" style="stroke:#2a0d09;stroke-opacity:0.55;stroke-width:0.32">27</text>
<text x="403.31" y="123.20" font-size="8.6" text-anchor="middle" fill="#290c07" style="stroke:#290c07;stroke-opacity:0.55;stroke-width:0.32">32</text>
<text x="255.99" y="135.72" font-size="8.6" text-anchor="middle" fill="#272c2e" style="stroke:#272c2e;stroke-opacity:0.55;stroke-width:0.32">7</text>
<text x="272.36" y="135.72" font-size="8.6" text-anchor="middle" fill="#1f272f" style="stroke:#1f272f;stroke-opacity:0.55;stroke-width:0.32">5</text>
<text x="288.73" y="135.72" font-size="8.6" text-anchor="middle" fill="#1f272f" style="stroke:#1f272f;stroke-opacity:0.55;stroke-width:0.32">5</text>
<text x="305.10" y="135.72" font-size="8.6" text-anchor="middle" fill="#1a242e" style="stroke:#1a242e;stroke-opacity:0.55;stroke-width:0.32">4</text>
<text x="321.47" y="135.72" font-size="8.6" text-anchor="middle" fill="#32302a" style="stroke:#32302a;stroke-opacity:0.55;stroke-width:0.32">11</text>
<text x="337.84" y="135.72" font-size="8.6" text-anchor="middle" fill="#32312b" style="stroke:#32312b;stroke-opacity:0.55;stroke-width:0.32">10</text>
<text x="354.20" y="135.72" font-size="8.6" text-anchor="middle" fill="#32312b" style="stroke:#32312b;stroke-opacity:0.55;stroke-width:0.32">10</text>
<text x="370.57" y="135.72" font-size="8.6" text-anchor="middle" fill="#2e302c" style="stroke:#2e302c;stroke-opacity:0.55;stroke-width:0.32">9</text>
<text x="386.94" y="135.72" font-size="8.6" text-anchor="middle" fill="#2b2e2d" style="stroke:#2b2e2d;stroke-opacity:0.55;stroke-width:0.32">8</text>
<text x="403.31" y="135.72" font-size="8.6" text-anchor="middle" fill="#322f29" style="stroke:#322f29;stroke-opacity:0.55;stroke-width:0.32">12</text>
<text x="255.99" y="148.24" font-size="8.6" text-anchor="middle" fill="#131d2a" style="stroke:#131d2a;stroke-opacity:0.55;stroke-width:0.32">1</text>
<text x="272.36" y="148.24" font-size="8.6" text-anchor="middle" fill="#101a28" style="stroke:#101a28;stroke-opacity:0.55;stroke-width:0.32">-4</text>
<text x="288.73" y="148.24" font-size="8.6" text-anchor="middle" fill="#17212c" style="stroke:#17212c;stroke-opacity:0.55;stroke-width:0.32">3</text>
<text x="305.10" y="148.24" font-size="8.6" text-anchor="middle" fill="#121b29" style="stroke:#121b29;stroke-opacity:0.55;stroke-width:0.32">-1</text>
<text x="321.47" y="148.24" font-size="8.6" text-anchor="middle" fill="#17212c" style="stroke:#17212c;stroke-opacity:0.55;stroke-width:0.32">3</text>
<text x="337.84" y="148.24" font-size="8.6" text-anchor="middle" fill="#232a2f" style="stroke:#232a2f;stroke-opacity:0.55;stroke-width:0.32">6</text>
<text x="354.20" y="148.24" font-size="8.6" text-anchor="middle" fill="#1f272f" style="stroke:#1f272f;stroke-opacity:0.55;stroke-width:0.32">5</text>
<text x="370.57" y="148.24" font-size="8.6" text-anchor="middle" fill="#312b23" style="stroke:#312b23;stroke-opacity:0.55;stroke-width:0.32">12</text>
<text x="386.94" y="148.24" font-size="8.6" text-anchor="middle" fill="#2b2e2d" style="stroke:#2b2e2d;stroke-opacity:0.55;stroke-width:0.32">8</text>
<text x="403.31" y="148.24" font-size="8.6" text-anchor="middle" fill="#2c1914" style="stroke:#2c1914;stroke-opacity:0.55;stroke-width:0.32">19</text>
<rect x="47.30" y="168.80" width="16.37" height="12.52" fill="#5182ca"/>
<rect x="63.67" y="168.80" width="16.37" height="12.52" fill="#5585cc"/>
<rect x="80.04" y="168.80" width="16.37" height="12.52" fill="#5a8bd0"/>
<rect x="96.41" y="168.80" width="16.37" height="12.52" fill="#5e90d3"/>
<rect x="112.78" y="168.80" width="16.37" height="12.52" fill="#74a6de"/>
<rect x="129.15" y="168.80" width="16.37" height="12.52" fill="#74a6de"/>
<rect x="145.52" y="168.80" width="16.37" height="12.52" fill="#84b4e5"/>
<rect x="161.89" y="168.80" width="16.37" height="12.52" fill="#84b4e5"/>
<rect x="178.26" y="168.80" width="16.37" height="12.52" fill="#84b4e5"/>
<rect x="194.63" y="168.80" width="16.37" height="12.52" fill="#74a6de"/>
<rect x="47.30" y="181.32" width="16.37" height="12.52" fill="#5585cc"/>
<rect x="63.67" y="181.32" width="16.37" height="12.52" fill="#5888ce"/>
<rect x="80.04" y="181.32" width="16.37" height="12.52" fill="#6495d6"/>
<rect x="96.41" y="181.32" width="16.37" height="12.52" fill="#9ac3e9"/>
<rect x="112.78" y="181.32" width="16.37" height="12.52" fill="#fae9cb"/>
<rect x="129.15" y="181.32" width="16.37" height="12.52" fill="#fcefd0"/>
<rect x="145.52" y="181.32" width="16.37" height="12.52" fill="#e49078"/>
<rect x="161.89" y="181.32" width="16.37" height="12.52" fill="#de7e66"/>
<rect x="178.26" y="181.32" width="16.37" height="12.52" fill="#d24e38"/>
<rect x="194.63" y="181.32" width="16.37" height="12.52" fill="#d14832"/>
<rect x="47.30" y="193.84" width="16.37" height="12.52" fill="#5081c9"/>
<rect x="63.67" y="193.84" width="16.37" height="12.52" fill="#4f80c9"/>
<rect x="80.04" y="193.84" width="16.37" height="12.52" fill="#5182ca"/>
<rect x="96.41" y="193.84" width="16.37" height="12.52" fill="#5182ca"/>
<rect x="112.78" y="193.84" width="16.37" height="12.52" fill="#84b4e5"/>
<rect x="129.15" y="193.84" width="16.37" height="12.52" fill="#9ac3e9"/>
<rect x="145.52" y="193.84" width="16.37" height="12.52" fill="#fcf0d8"/>
<rect x="161.89" y="193.84" width="16.37" height="12.52" fill="#4f80c9"/>
<rect x="178.26" y="193.84" width="16.37" height="12.52" fill="#de7e66"/>
<rect x="194.63" y="193.84" width="16.37" height="12.52" fill="#d55c46"/>
<rect x="47.30" y="206.36" width="16.37" height="12.52" fill="#4f80c9"/>
<rect x="63.67" y="206.36" width="16.37" height="12.52" fill="#4f80c9"/>
<rect x="80.04" y="206.36" width="16.37" height="12.52" fill="#4f80c9"/>
<rect x="96.41" y="206.36" width="16.37" height="12.52" fill="#4f80c9"/>
<rect x="112.78" y="206.36" width="16.37" height="12.52" fill="#5182ca"/>
<rect x="129.15" y="206.36" width="16.37" height="12.52" fill="#5384cb"/>
<rect x="145.52" y="206.36" width="16.37" height="12.52" fill="#9ac3e9"/>
<rect x="161.89" y="206.36" width="16.37" height="12.52" fill="#9ac3e9"/>
<rect x="178.26" y="206.36" width="16.37" height="12.52" fill="#f6dbbb"/>
<rect x="194.63" y="206.36" width="16.37" height="12.52" fill="#d14832"/>
<rect x="47.30" y="218.88" width="16.37" height="12.52" fill="#5e90d3"/>
<rect x="63.67" y="218.88" width="16.37" height="12.52" fill="#5e90d3"/>
<rect x="80.04" y="218.88" width="16.37" height="12.52" fill="#5e90d3"/>
<rect x="96.41" y="218.88" width="16.37" height="12.52" fill="#74a6de"/>
<rect x="112.78" y="218.88" width="16.37" height="12.52" fill="#6495d6"/>
<rect x="129.15" y="218.88" width="16.37" height="12.52" fill="#84b4e5"/>
<rect x="145.52" y="218.88" width="16.37" height="12.52" fill="#b0d2ed"/>
<rect x="161.89" y="218.88" width="16.37" height="12.52" fill="#6495d6"/>
<rect x="178.26" y="218.88" width="16.37" height="12.52" fill="#c5dde4"/>
<rect x="194.63" y="218.88" width="16.37" height="12.52" fill="#fcf5d9"/>
<rect x="47.30" y="231.40" width="16.37" height="12.52" fill="#5182ca"/>
<rect x="63.67" y="231.40" width="16.37" height="12.52" fill="#5182ca"/>
<rect x="80.04" y="231.40" width="16.37" height="12.52" fill="#5081c9"/>
<rect x="96.41" y="231.40" width="16.37" height="12.52" fill="#4f80c9"/>
<rect x="112.78" y="231.40" width="16.37" height="12.52" fill="#5585cc"/>
<rect x="129.15" y="231.40" width="16.37" height="12.52" fill="#5384cb"/>
<rect x="145.52" y="231.40" width="16.37" height="12.52" fill="#78a8de"/>
<rect x="161.89" y="231.40" width="16.37" height="12.52" fill="#5384cb"/>
<rect x="178.26" y="231.40" width="16.37" height="12.52" fill="#9ac3e9"/>
<rect x="194.63" y="231.40" width="16.37" height="12.52" fill="#f4d3a4"/>
<rect x="47.30" y="243.92" width="16.37" height="12.52" fill="#5888ce"/>
<rect x="63.67" y="243.92" width="16.37" height="12.52" fill="#5888ce"/>
<rect x="80.04" y="243.92" width="16.37" height="12.52" fill="#5384cb"/>
<rect x="96.41" y="243.92" width="16.37" height="12.52" fill="#5585cc"/>
<rect x="112.78" y="243.92" width="16.37" height="12.52" fill="#5a8bd0"/>
<rect x="129.15" y="243.92" width="16.37" height="12.52" fill="#5384cb"/>
<rect x="145.52" y="243.92" width="16.37" height="12.52" fill="#e98c58"/>
<rect x="161.89" y="243.92" width="16.37" height="12.52" fill="#5081ca"/>
<rect x="178.26" y="243.92" width="16.37" height="12.52" fill="#5585cc"/>
<rect x="194.63" y="243.92" width="16.37" height="12.52" fill="#5384cb"/>
<rect x="47.30" y="256.44" width="16.37" height="12.52" fill="#5081ca"/>
<rect x="63.67" y="256.44" width="16.37" height="12.52" fill="#5888ce"/>
<rect x="80.04" y="256.44" width="16.37" height="12.52" fill="#5081c9"/>
<rect x="96.41" y="256.44" width="16.37" height="12.52" fill="#4f80c9"/>
<rect x="112.78" y="256.44" width="16.37" height="12.52" fill="#5888ce"/>
<rect x="129.15" y="256.44" width="16.37" height="12.52" fill="#5081ca"/>
<rect x="145.52" y="256.44" width="16.37" height="12.52" fill="#5081c9"/>
<rect x="161.89" y="256.44" width="16.37" height="12.52" fill="#4f80c9"/>
<rect x="178.26" y="256.44" width="16.37" height="12.52" fill="#5081ca"/>
<rect x="194.63" y="256.44" width="16.37" height="12.52" fill="#5081ca"/>
<rect x="47.30" y="268.96" width="16.37" height="12.52" fill="#5e90d3"/>
<rect x="63.67" y="268.96" width="16.37" height="12.52" fill="#a6caec"/>
<rect x="80.04" y="268.96" width="16.37" height="12.52" fill="#5384cb"/>
<rect x="96.41" y="268.96" width="16.37" height="12.52" fill="#5a8bd0"/>
<rect x="112.78" y="268.96" width="16.37" height="12.52" fill="#6495d6"/>
<rect x="129.15" y="268.96" width="16.37" height="12.52" fill="#5e90d3"/>
<rect x="145.52" y="268.96" width="16.37" height="12.52" fill="#5888ce"/>
<rect x="161.89" y="268.96" width="16.37" height="12.52" fill="#5384cb"/>
<rect x="178.26" y="268.96" width="16.37" height="12.52" fill="#5384cb"/>
<rect x="194.63" y="268.96" width="16.37" height="12.52" fill="#5a8bd0"/>
<rect x="47.30" y="281.48" width="16.37" height="12.52" fill="#5384cb"/>
<rect x="63.67" y="281.48" width="16.37" height="12.52" fill="#5182ca"/>
<rect x="80.04" y="281.48" width="16.37" height="12.52" fill="#5384cb"/>
<rect x="96.41" y="281.48" width="16.37" height="12.52" fill="#5182ca"/>
<rect x="112.78" y="281.48" width="16.37" height="12.52" fill="#5a8bd0"/>
<rect x="129.15" y="281.48" width="16.37" height="12.52" fill="#5182ca"/>
<rect x="145.52" y="281.48" width="16.37" height="12.52" fill="#5585cc"/>
<rect x="161.89" y="281.48" width="16.37" height="12.52" fill="#5182ca"/>
<rect x="178.26" y="281.48" width="16.37" height="12.52" fill="#5585cc"/>
<rect x="194.63" y="281.48" width="16.37" height="12.52" fill="#5888ce"/>
<path d="M47.50,168.50V294.50M63.50,168.50V294.50M80.50,168.50V294.50M96.50,168.50V294.50M112.50,168.50V294.50M129.50,168.50V294.50M145.50,168.50V294.50M161.50,168.50V294.50M178.50,168.50V294.50M194.50,168.50V294.50M211.50,168.50V294.50M47.50,168.50H211.50M47.50,181.50H211.50M47.50,193.50H211.50M47.50,206.50H211.50M47.50,218.50H211.50M47.50,231.50H211.50M47.50,243.50H211.50M47.50,256.50H211.50M47.50,268.50H211.50M47.50,281.50H211.50M47.50,294.50H211.50" fill="none" stroke="#000" stroke-opacity="0.62" stroke-width="1.1"/>
<text x="55.48" y="178.16" font-size="8.6" text-anchor="middle" fill="#101a28" style="stroke:#101a28;stroke-opacity:0.55;stroke-width:0.32">-4</text>
<text x="71.86" y="178.16" font-size="8.6" text-anchor="middle" fill="#111b29" style="stroke:#111b29;stroke-opacity:0.55;stroke-width:0.32">-2</text>
<text x="88.22" y="178.16" font-size="8.6" text-anchor="middle" fill="#121c2a" style="stroke:#121c2a;stroke-opacity:0.55;stroke-width:0.32">0</text>
<text x="104.59" y="178.16" font-size="8.6" text-anchor="middle" fill="#131d2a" style="stroke:#131d2a;stroke-opacity:0.55;stroke-width:0.32">1</text>
<text x="120.97" y="178.16" font-size="8.6" text-anchor="middle" fill="#17212c" style="stroke:#17212c;stroke-opacity:0.55;stroke-width:0.32">3</text>
<text x="137.34" y="178.16" font-size="8.6" text-anchor="middle" fill="#17212c" style="stroke:#17212c;stroke-opacity:0.55;stroke-width:0.32">3</text>
<text x="153.70" y="178.16" font-size="8.6" text-anchor="middle" fill="#1a242e" style="stroke:#1a242e;stroke-opacity:0.55;stroke-width:0.32">4</text>
<text x="170.07" y="178.16" font-size="8.6" text-anchor="middle" fill="#1a242e" style="stroke:#1a242e;stroke-opacity:0.55;stroke-width:0.32">4</text>
<text x="186.44" y="178.16" font-size="8.6" text-anchor="middle" fill="#1a242e" style="stroke:#1a242e;stroke-opacity:0.55;stroke-width:0.32">4</text>
<text x="202.81" y="178.16" font-size="8.6" text-anchor="middle" fill="#17212c" style="stroke:#17212c;stroke-opacity:0.55;stroke-width:0.32">3</text>
<text x="55.48" y="190.68" font-size="8.6" text-anchor="middle" fill="#111b29" style="stroke:#111b29;stroke-opacity:0.55;stroke-width:0.32">-2</text>
<text x="71.86" y="190.68" font-size="8.6" text-anchor="middle" fill="#121b29" style="stroke:#121b29;stroke-opacity:0.55;stroke-width:0.32">-1</text>
<text x="88.22" y="190.68" font-size="8.6" text-anchor="middle" fill="#141e2b" style="stroke:#141e2b;stroke-opacity:0.55;stroke-width:0.32">2</text>
<text x="104.59" y="190.68" font-size="8.6" text-anchor="middle" fill="#1f272f" style="stroke:#1f272f;stroke-opacity:0.55;stroke-width:0.32">5</text>
<text x="120.97" y="190.68" font-size="8.6" text-anchor="middle" fill="#322f29" style="stroke:#322f29;stroke-opacity:0.55;stroke-width:0.32">12</text>
<text x="137.34" y="190.68" font-size="8.6" text-anchor="middle" fill="#32302a" style="stroke:#32302a;stroke-opacity:0.55;stroke-width:0.32">11</text>
<text x="153.70" y="190.68" font-size="8.6" text-anchor="middle" fill="#2e1d18" style="stroke:#2e1d18;stroke-opacity:0.55;stroke-width:0.32">18</text>
<text x="170.07" y="190.68" font-size="8.6" text-anchor="middle" fill="#2c1914" style="stroke:#2c1914;stroke-opacity:0.55;stroke-width:0.32">19</text>
<text x="186.44" y="190.68" font-size="8.6" text-anchor="middle" fill="#2a100b" style="stroke:#2a100b;stroke-opacity:0.55;stroke-width:0.32">24</text>
<text x="202.81" y="190.68" font-size="8.6" text-anchor="middle" fill="#2a0e0a" style="stroke:#2a0e0a;stroke-opacity:0.55;stroke-width:0.32">25</text>
<text x="55.48" y="203.20" font-size="8.6" text-anchor="middle" fill="#101a28" style="stroke:#101a28;stroke-opacity:0.55;stroke-width:0.32">-8</text>
<text x="71.86" y="203.20" font-size="8.6" text-anchor="middle" fill="#101a28" style="stroke:#101a28;stroke-opacity:0.55;stroke-width:0.32">-10</text>
<text x="88.22" y="203.20" font-size="8.6" text-anchor="middle" fill="#101a28" style="stroke:#101a28;stroke-opacity:0.55;stroke-width:0.32">-4</text>
<text x="104.59" y="203.20" font-size="8.6" text-anchor="middle" fill="#101a28" style="stroke:#101a28;stroke-opacity:0.55;stroke-width:0.32">-4</text>
<text x="120.97" y="203.20" font-size="8.6" text-anchor="middle" fill="#1a242e" style="stroke:#1a242e;stroke-opacity:0.55;stroke-width:0.32">4</text>
<text x="137.34" y="203.20" font-size="8.6" text-anchor="middle" fill="#1f272f" style="stroke:#1f272f;stroke-opacity:0.55;stroke-width:0.32">5</text>
<text x="153.70" y="203.20" font-size="8.6" text-anchor="middle" fill="#32302b" style="stroke:#32302b;stroke-opacity:0.55;stroke-width:0.32">12</text>
<text x="170.07" y="203.20" font-size="8.6" text-anchor="middle" fill="#101a28" style="stroke:#101a28;stroke-opacity:0.55;stroke-width:0.32" textLength="14.6" lengthAdjust="spacingAndGlyphs">-266</text>
<text x="186.44" y="203.20" font-size="8.6" text-anchor="middle" fill="#2c1914" style="stroke:#2c1914;stroke-opacity:0.55;stroke-width:0.32">19</text>
<text x="202.81" y="203.20" font-size="8.6" text-anchor="middle" fill="#2b120e" style="stroke:#2b120e;stroke-opacity:0.55;stroke-width:0.32">22</text>
<text x="55.48" y="215.72" font-size="8.6" text-anchor="middle" fill="#101a28" style="stroke:#101a28;stroke-opacity:0.55;stroke-width:0.32">-17</text>
<text x="71.86" y="215.72" font-size="8.6" text-anchor="middle" fill="#101a28" style="stroke:#101a28;stroke-opacity:0.55;stroke-width:0.32">-13</text>
<text x="88.22" y="215.72" font-size="8.6" text-anchor="middle" fill="#101a28" style="stroke:#101a28;stroke-opacity:0.55;stroke-width:0.32">-12</text>
<text x="104.59" y="215.72" font-size="8.6" text-anchor="middle" fill="#101a28" style="stroke:#101a28;stroke-opacity:0.55;stroke-width:0.32">-10</text>
<text x="120.97" y="215.72" font-size="8.6" text-anchor="middle" fill="#101a28" style="stroke:#101a28;stroke-opacity:0.55;stroke-width:0.32">-4</text>
<text x="137.34" y="215.72" font-size="8.6" text-anchor="middle" fill="#111a29" style="stroke:#111a29;stroke-opacity:0.55;stroke-width:0.32">-3</text>
<text x="153.70" y="215.72" font-size="8.6" text-anchor="middle" fill="#1f272f" style="stroke:#1f272f;stroke-opacity:0.55;stroke-width:0.32">5</text>
<text x="170.07" y="215.72" font-size="8.6" text-anchor="middle" fill="#1f272f" style="stroke:#1f272f;stroke-opacity:0.55;stroke-width:0.32">5</text>
<text x="186.44" y="215.72" font-size="8.6" text-anchor="middle" fill="#312c25" style="stroke:#312c25;stroke-opacity:0.55;stroke-width:0.32">13</text>
<text x="202.81" y="215.72" font-size="8.6" text-anchor="middle" fill="#2a0e0a" style="stroke:#2a0e0a;stroke-opacity:0.55;stroke-width:0.32">25</text>
<text x="55.48" y="228.24" font-size="8.6" text-anchor="middle" fill="#131d2a" style="stroke:#131d2a;stroke-opacity:0.55;stroke-width:0.32">1</text>
<text x="71.86" y="228.24" font-size="8.6" text-anchor="middle" fill="#131d2a" style="stroke:#131d2a;stroke-opacity:0.55;stroke-width:0.32">1</text>
<text x="88.22" y="228.24" font-size="8.6" text-anchor="middle" fill="#131d2a" style="stroke:#131d2a;stroke-opacity:0.55;stroke-width:0.32">1</text>
<text x="104.59" y="228.24" font-size="8.6" text-anchor="middle" fill="#17212c" style="stroke:#17212c;stroke-opacity:0.55;stroke-width:0.32">3</text>
<text x="120.97" y="228.24" font-size="8.6" text-anchor="middle" fill="#141e2b" style="stroke:#141e2b;stroke-opacity:0.55;stroke-width:0.32">2</text>
<text x="137.34" y="228.24" font-size="8.6" text-anchor="middle" fill="#1a242e" style="stroke:#1a242e;stroke-opacity:0.55;stroke-width:0.32">4</text>
<text x="153.70" y="228.24" font-size="8.6" text-anchor="middle" fill="#232a2f" style="stroke:#232a2f;stroke-opacity:0.55;stroke-width:0.32">6</text>
<text x="170.07" y="228.24" font-size="8.6" text-anchor="middle" fill="#141e2b" style="stroke:#141e2b;stroke-opacity:0.55;stroke-width:0.32">2</text>
<text x="186.44" y="228.24" font-size="8.6" text-anchor="middle" fill="#272c2e" style="stroke:#272c2e;stroke-opacity:0.55;stroke-width:0.32">7</text>
<text x="202.81" y="228.24" font-size="8.6" text-anchor="middle" fill="#32312b" style="stroke:#32312b;stroke-opacity:0.55;stroke-width:0.32">10</text>
<text x="55.48" y="240.76" font-size="8.6" text-anchor="middle" fill="#101a28" style="stroke:#101a28;stroke-opacity:0.55;stroke-width:0.32">-5</text>
<text x="71.86" y="240.76" font-size="8.6" text-anchor="middle" fill="#101a28" style="stroke:#101a28;stroke-opacity:0.55;stroke-width:0.32">-4</text>
<text x="88.22" y="240.76" font-size="8.6" text-anchor="middle" fill="#101a28" style="stroke:#101a28;stroke-opacity:0.55;stroke-width:0.32">-8</text>
<text x="104.59" y="240.76" font-size="8.6" text-anchor="middle" fill="#101a28" style="stroke:#101a28;stroke-opacity:0.55;stroke-width:0.32">-9</text>
<text x="120.97" y="240.76" font-size="8.6" text-anchor="middle" fill="#111b29" style="stroke:#111b29;stroke-opacity:0.55;stroke-width:0.32">-2</text>
<text x="137.34" y="240.76" font-size="8.6" text-anchor="middle" fill="#111a29" style="stroke:#111a29;stroke-opacity:0.55;stroke-width:0.32">-3</text>
<text x="153.70" y="240.76" font-size="8.6" text-anchor="middle" fill="#18222c" style="stroke:#18222c;stroke-opacity:0.55;stroke-width:0.32">2</text>
<text x="170.07" y="240.76" font-size="8.6" text-anchor="middle" fill="#111a29" style="stroke:#111a29;stroke-opacity:0.55;stroke-width:0.32">-3</text>
<text x="186.44" y="240.76" font-size="8.6" text-anchor="middle" fill="#1f272f" style="stroke:#1f272f;stroke-opacity:0.55;stroke-width:0.32">5</text>
<text x="202.81" y="240.76" font-size="8.6" text-anchor="middle" fill="#312a21" style="stroke:#312a21;stroke-opacity:0.55;stroke-width:0.32">13</text>
<text x="55.48" y="253.28" font-size="8.6" text-anchor="middle" fill="#121b29" style="stroke:#121b29;stroke-opacity:0.55;stroke-width:0.32">-1</text>
<text x="71.86" y="253.28" font-size="8.6" text-anchor="middle" fill="#121b29" style="stroke:#121b29;stroke-opacity:0.55;stroke-width:0.32">-1</text>
<text x="88.22" y="253.28" font-size="8.6" text-anchor="middle" fill="#111a29" style="stroke:#111a29;stroke-opacity:0.55;stroke-width:0.32">-3</text>
<text x="104.59" y="253.28" font-size="8.6" text-anchor="middle" fill="#111b29" style="stroke:#111b29;stroke-opacity:0.55;stroke-width:0.32">-2</text>
<text x="120.97" y="253.28" font-size="8.6" text-anchor="middle" fill="#121c2a" style="stroke:#121c2a;stroke-opacity:0.55;stroke-width:0.32">-0</text>
<text x="137.34" y="253.28" font-size="8.6" text-anchor="middle" fill="#111a29" style="stroke:#111a29;stroke-opacity:0.55;stroke-width:0.32">-3</text>
<text x="153.70" y="253.28" font-size="8.6" text-anchor="middle" fill="#2f1c12" style="stroke:#2f1c12;stroke-opacity:0.55;stroke-width:0.32">17</text>
<text x="170.07" y="253.28" font-size="8.6" text-anchor="middle" fill="#101a28" style="stroke:#101a28;stroke-opacity:0.55;stroke-width:0.32">-6</text>
<text x="186.44" y="253.28" font-size="8.6" text-anchor="middle" fill="#111b29" style="stroke:#111b29;stroke-opacity:0.55;stroke-width:0.32">-2</text>
<text x="202.81" y="253.28" font-size="8.6" text-anchor="middle" fill="#111a29" style="stroke:#111a29;stroke-opacity:0.55;stroke-width:0.32">-3</text>
<text x="55.48" y="265.80" font-size="8.6" text-anchor="middle" fill="#101a28" style="stroke:#101a28;stroke-opacity:0.55;stroke-width:0.32">-7</text>
<text x="71.86" y="265.80" font-size="8.6" text-anchor="middle" fill="#121b29" style="stroke:#121b29;stroke-opacity:0.55;stroke-width:0.32">-1</text>
<text x="88.22" y="265.80" font-size="8.6" text-anchor="middle" fill="#101a28" style="stroke:#101a28;stroke-opacity:0.55;stroke-width:0.32">-8</text>
<text x="104.59" y="265.80" font-size="8.6" text-anchor="middle" fill="#101a28" style="stroke:#101a28;stroke-opacity:0.55;stroke-width:0.32">-10</text>
<text x="120.97" y="265.80" font-size="8.6" text-anchor="middle" fill="#121b29" style="stroke:#121b29;stroke-opacity:0.55;stroke-width:0.32">-1</text>
<text x="137.34" y="265.80" font-size="8.6" text-anchor="middle" fill="#101a28" style="stroke:#101a28;stroke-opacity:0.55;stroke-width:0.32">-6</text>
<text x="153.70" y="265.80" font-size="8.6" text-anchor="middle" fill="#101a28" style="stroke:#101a28;stroke-opacity:0.55;stroke-width:0.32">-8</text>
<text x="170.07" y="265.80" font-size="8.6" text-anchor="middle" fill="#101a28" style="stroke:#101a28;stroke-opacity:0.55;stroke-width:0.32">-10</text>
<text x="186.44" y="265.80" font-size="8.6" text-anchor="middle" fill="#101a28" style="stroke:#101a28;stroke-opacity:0.55;stroke-width:0.32">-6</text>
<text x="202.81" y="265.80" font-size="8.6" text-anchor="middle" fill="#101a28" style="stroke:#101a28;stroke-opacity:0.55;stroke-width:0.32">-7</text>
<text x="55.48" y="278.32" font-size="8.6" text-anchor="middle" fill="#131d2a" style="stroke:#131d2a;stroke-opacity:0.55;stroke-width:0.32">1</text>
<text x="71.86" y="278.32" font-size="8.6" text-anchor="middle" fill="#21282f" style="stroke:#21282f;stroke-opacity:0.55;stroke-width:0.32">4</text>
<text x="88.22" y="278.32" font-size="8.6" text-anchor="middle" fill="#111a29" style="stroke:#111a29;stroke-opacity:0.55;stroke-width:0.32">-3</text>
<text x="104.59" y="278.32" font-size="8.6" text-anchor="middle" fill="#121c2a" style="stroke:#121c2a;stroke-opacity:0.55;stroke-width:0.32">-0</text>
<text x="120.97" y="278.32" font-size="8.6" text-anchor="middle" fill="#141e2b" style="stroke:#141e2b;stroke-opacity:0.55;stroke-width:0.32">2</text>
<text x="137.34" y="278.32" font-size="8.6" text-anchor="middle" fill="#131d2a" style="stroke:#131d2a;stroke-opacity:0.55;stroke-width:0.32">1</text>
<text x="153.70" y="278.32" font-size="8.6" text-anchor="middle" fill="#121b29" style="stroke:#121b29;stroke-opacity:0.55;stroke-width:0.32">-1</text>
<text x="170.07" y="278.32" font-size="8.6" text-anchor="middle" fill="#111a29" style="stroke:#111a29;stroke-opacity:0.55;stroke-width:0.32">-3</text>
<text x="186.44" y="278.32" font-size="8.6" text-anchor="middle" fill="#111a29" style="stroke:#111a29;stroke-opacity:0.55;stroke-width:0.32">-3</text>
<text x="202.81" y="278.32" font-size="8.6" text-anchor="middle" fill="#121c2a" style="stroke:#121c2a;stroke-opacity:0.55;stroke-width:0.32">0</text>
<text x="55.48" y="290.84" font-size="8.6" text-anchor="middle" fill="#111a29" style="stroke:#111a29;stroke-opacity:0.55;stroke-width:0.32">-3</text>
<text x="71.86" y="290.84" font-size="8.6" text-anchor="middle" fill="#101a28" style="stroke:#101a28;stroke-opacity:0.55;stroke-width:0.32">-5</text>
<text x="88.22" y="290.84" font-size="8.6" text-anchor="middle" fill="#111a29" style="stroke:#111a29;stroke-opacity:0.55;stroke-width:0.32">-3</text>
<text x="104.59" y="290.84" font-size="8.6" text-anchor="middle" fill="#101a28" style="stroke:#101a28;stroke-opacity:0.55;stroke-width:0.32">-4</text>
<text x="120.97" y="290.84" font-size="8.6" text-anchor="middle" fill="#121c2a" style="stroke:#121c2a;stroke-opacity:0.55;stroke-width:0.32">-0</text>
<text x="137.34" y="290.84" font-size="8.6" text-anchor="middle" fill="#101a28" style="stroke:#101a28;stroke-opacity:0.55;stroke-width:0.32">-4</text>
<text x="153.70" y="290.84" font-size="8.6" text-anchor="middle" fill="#111b29" style="stroke:#111b29;stroke-opacity:0.55;stroke-width:0.32">-2</text>
<text x="170.07" y="290.84" font-size="8.6" text-anchor="middle" fill="#101a28" style="stroke:#101a28;stroke-opacity:0.55;stroke-width:0.32">-5</text>
<text x="186.44" y="290.84" font-size="8.6" text-anchor="middle" fill="#111b29" style="stroke:#111b29;stroke-opacity:0.55;stroke-width:0.32">-2</text>
<text x="202.81" y="290.84" font-size="8.6" text-anchor="middle" fill="#121b29" style="stroke:#121b29;stroke-opacity:0.55;stroke-width:0.32">-1</text>
<rect x="247.80" y="168.80" width="16.37" height="12.52" fill="#5081ca"/>
<rect x="264.17" y="168.80" width="16.37" height="12.52" fill="#5081ca"/>
<rect x="280.54" y="168.80" width="16.37" height="12.52" fill="#5081ca"/>
<rect x="296.91" y="168.80" width="16.37" height="12.52" fill="#5081ca"/>
<rect x="313.28" y="168.80" width="16.37" height="12.52" fill="#5182ca"/>
<rect x="329.65" y="168.80" width="16.37" height="12.52" fill="#5384cb"/>
<rect x="346.02" y="168.80" width="16.37" height="12.52" fill="#5384cb"/>
<rect x="362.39" y="168.80" width="16.37" height="12.52" fill="#5384cb"/>
<rect x="378.76" y="168.80" width="16.37" height="12.52" fill="#5585cc"/>
<rect x="395.13" y="168.80" width="16.37" height="12.52" fill="#5585cc"/>
<rect x="247.80" y="181.32" width="16.37" height="12.52" fill="#4f80c9"/>
<rect x="264.17" y="181.32" width="16.37" height="12.52" fill="#4f80c9"/>
<rect x="280.54" y="181.32" width="16.37" height="12.52" fill="#4f80c9"/>
<rect x="296.91" y="181.32" width="16.37" height="12.52" fill="#4f80c9"/>
<rect x="313.28" y="181.32" width="16.37" height="12.52" fill="#5081c9"/>
<rect x="329.65" y="181.32" width="16.37" height="12.52" fill="#5081ca"/>
<rect x="346.02" y="181.32" width="16.37" height="12.52" fill="#5182ca"/>
<rect x="362.39" y="181.32" width="16.37" height="12.52" fill="#5182ca"/>
<rect x="378.76" y="181.32" width="16.37" height="12.52" fill="#5585cc"/>
<rect x="395.13" y="181.32" width="16.37" height="12.52" fill="#5585cc"/>
<rect x="247.80" y="193.84" width="16.37" height="12.52" fill="#4f80c9"/>
<rect x="264.17" y="193.84" width="16.37" height="12.52" fill="#4f80c9"/>
<rect x="280.54" y="193.84" width="16.37" height="12.52" fill="#4f80c9"/>
<rect x="296.91" y="193.84" width="16.37" height="12.52" fill="#4f80c9"/>
<rect x="313.28" y="193.84" width="16.37" height="12.52" fill="#4f80c9"/>
<rect x="329.65" y="193.84" width="16.37" height="12.52" fill="#4f80c9"/>
<rect x="346.02" y="193.84" width="16.37" height="12.52" fill="#4f80c9"/>
<rect x="362.39" y="193.84" width="16.37" height="12.52" fill="#4f80c9"/>
<rect x="378.76" y="193.84" width="16.37" height="12.52" fill="#5081ca"/>
<rect x="395.13" y="193.84" width="16.37" height="12.52" fill="#5081ca"/>
<rect x="247.80" y="206.36" width="16.37" height="12.52" fill="#4f80c9"/>
<rect x="264.17" y="206.36" width="16.37" height="12.52" fill="#4f80c9"/>
<rect x="280.54" y="206.36" width="16.37" height="12.52" fill="#4f80c9"/>
<rect x="296.91" y="206.36" width="16.37" height="12.52" fill="#4f80c9"/>
<rect x="313.28" y="206.36" width="16.37" height="12.52" fill="#4f80c9"/>
<rect x="329.65" y="206.36" width="16.37" height="12.52" fill="#4f80c9"/>
<rect x="346.02" y="206.36" width="16.37" height="12.52" fill="#4f80c9"/>
<rect x="362.39" y="206.36" width="16.37" height="12.52" fill="#4f80c9"/>
<rect x="378.76" y="206.36" width="16.37" height="12.52" fill="#4f80c9"/>
<rect x="395.13" y="206.36" width="16.37" height="12.52" fill="#4f80c9"/>
<rect x="247.80" y="218.88" width="16.37" height="12.52" fill="#5384cb"/>
<rect x="264.17" y="218.88" width="16.37" height="12.52" fill="#5a8bd0"/>
<rect x="280.54" y="218.88" width="16.37" height="12.52" fill="#5585cc"/>
<rect x="296.91" y="218.88" width="16.37" height="12.52" fill="#5888ce"/>
<rect x="313.28" y="218.88" width="16.37" height="12.52" fill="#74a6de"/>
<rect x="329.65" y="218.88" width="16.37" height="12.52" fill="#84b4e5"/>
<rect x="346.02" y="218.88" width="16.37" height="12.52" fill="#84b4e5"/>
<rect x="362.39" y="218.88" width="16.37" height="12.52" fill="#b0d2ed"/>
<rect x="378.76" y="218.88" width="16.37" height="12.52" fill="#84b4e5"/>
<rect x="395.13" y="218.88" width="16.37" height="12.52" fill="#84b4e5"/>
<rect x="247.80" y="231.40" width="16.37" height="12.52" fill="#5081ca"/>
<rect x="264.17" y="231.40" width="16.37" height="12.52" fill="#5182ca"/>
<rect x="280.54" y="231.40" width="16.37" height="12.52" fill="#5081ca"/>
<rect x="296.91" y="231.40" width="16.37" height="12.52" fill="#5081c9"/>
<rect x="313.28" y="231.40" width="16.37" height="12.52" fill="#5a8bd0"/>
<rect x="329.65" y="231.40" width="16.37" height="12.52" fill="#6495d6"/>
<rect x="346.02" y="231.40" width="16.37" height="12.52" fill="#5a8bd0"/>
<rect x="362.39" y="231.40" width="16.37" height="12.52" fill="#6495d6"/>
<rect x="378.76" y="231.40" width="16.37" height="12.52" fill="#5585cc"/>
<rect x="395.13" y="231.40" width="16.37" height="12.52" fill="#5888ce"/>
<rect x="247.80" y="243.92" width="16.37" height="12.52" fill="#5182ca"/>
<rect x="264.17" y="243.92" width="16.37" height="12.52" fill="#5585cc"/>
<rect x="280.54" y="243.92" width="16.37" height="12.52" fill="#5182ca"/>
<rect x="296.91" y="243.92" width="16.37" height="12.52" fill="#5081ca"/>
<rect x="313.28" y="243.92" width="16.37" height="12.52" fill="#74a6de"/>
<rect x="329.65" y="243.92" width="16.37" height="12.52" fill="#84b4e5"/>
<rect x="346.02" y="243.92" width="16.37" height="12.52" fill="#6495d6"/>
<rect x="362.39" y="243.92" width="16.37" height="12.52" fill="#84b4e5"/>
<rect x="378.76" y="243.92" width="16.37" height="12.52" fill="#5384cb"/>
<rect x="395.13" y="243.92" width="16.37" height="12.52" fill="#5585cc"/>
<rect x="247.80" y="256.44" width="16.37" height="12.52" fill="#5182ca"/>
<rect x="264.17" y="256.44" width="16.37" height="12.52" fill="#5888ce"/>
<rect x="280.54" y="256.44" width="16.37" height="12.52" fill="#5182ca"/>
<rect x="296.91" y="256.44" width="16.37" height="12.52" fill="#5081ca"/>
<rect x="313.28" y="256.44" width="16.37" height="12.52" fill="#5585cc"/>
<rect x="329.65" y="256.44" width="16.37" height="12.52" fill="#5e90d3"/>
<rect x="346.02" y="256.44" width="16.37" height="12.52" fill="#5a8bd0"/>
<rect x="362.39" y="256.44" width="16.37" height="12.52" fill="#5a8bd0"/>
<rect x="378.76" y="256.44" width="16.37" height="12.52" fill="#5384cb"/>
<rect x="395.13" y="256.44" width="16.37" height="12.52" fill="#5182ca"/>
<rect x="247.80" y="268.96" width="16.37" height="12.52" fill="#84b4e5"/>
<rect x="264.17" y="268.96" width="16.37" height="12.52" fill="#84b4e5"/>
<rect x="280.54" y="268.96" width="16.37" height="12.52" fill="#b0d2ed"/>
<rect x="296.91" y="268.96" width="16.37" height="12.52" fill="#6495d6"/>
<rect x="313.28" y="268.96" width="16.37" height="12.52" fill="#9ac3e9"/>
<rect x="329.65" y="268.96" width="16.37" height="12.52" fill="#c5dde4"/>
<rect x="346.02" y="268.96" width="16.37" height="12.52" fill="#b0d2ed"/>
<rect x="362.39" y="268.96" width="16.37" height="12.52" fill="#9ac3e9"/>
<rect x="378.76" y="268.96" width="16.37" height="12.52" fill="#84b4e5"/>
<rect x="395.13" y="268.96" width="16.37" height="12.52" fill="#74a6de"/>
<rect x="247.80" y="281.48" width="16.37" height="12.52" fill="#6495d6"/>
<rect x="264.17" y="281.48" width="16.37" height="12.52" fill="#5e90d3"/>
<rect x="280.54" y="281.48" width="16.37" height="12.52" fill="#5182ca"/>
<rect x="296.91" y="281.48" width="16.37" height="12.52" fill="#5182ca"/>
<rect x="313.28" y="281.48" width="16.37" height="12.52" fill="#5a8bd0"/>
<rect x="329.65" y="281.48" width="16.37" height="12.52" fill="#5e90d3"/>
<rect x="346.02" y="281.48" width="16.37" height="12.52" fill="#6495d6"/>
<rect x="362.39" y="281.48" width="16.37" height="12.52" fill="#74a6de"/>
<rect x="378.76" y="281.48" width="16.37" height="12.52" fill="#74a6de"/>
<rect x="395.13" y="281.48" width="16.37" height="12.52" fill="#5e90d3"/>
<path d="M247.50,168.50V294.50M264.50,168.50V294.50M280.50,168.50V294.50M296.50,168.50V294.50M313.50,168.50V294.50M329.50,168.50V294.50M346.50,168.50V294.50M362.50,168.50V294.50M378.50,168.50V294.50M395.50,168.50V294.50M411.50,168.50V294.50M247.50,168.50H411.50M247.50,181.50H411.50M247.50,193.50H411.50M247.50,206.50H411.50M247.50,218.50H411.50M247.50,231.50H411.50M247.50,243.50H411.50M247.50,256.50H411.50M247.50,268.50H411.50M247.50,281.50H411.50M247.50,294.50H411.50" fill="none" stroke="#000" stroke-opacity="0.62" stroke-width="1.1"/>
<text x="255.99" y="178.16" font-size="8.6" text-anchor="middle" fill="#101a28" style="stroke:#101a28;stroke-opacity:0.55;stroke-width:0.32">-7</text>
<text x="272.36" y="178.16" font-size="8.6" text-anchor="middle" fill="#101a28" style="stroke:#101a28;stroke-opacity:0.55;stroke-width:0.32">-6</text>
<text x="288.73" y="178.16" font-size="8.6" text-anchor="middle" fill="#101a28" style="stroke:#101a28;stroke-opacity:0.55;stroke-width:0.32">-6</text>
<text x="305.10" y="178.16" font-size="8.6" text-anchor="middle" fill="#101a28" style="stroke:#101a28;stroke-opacity:0.55;stroke-width:0.32">-6</text>
<text x="321.47" y="178.16" font-size="8.6" text-anchor="middle" fill="#101a28" style="stroke:#101a28;stroke-opacity:0.55;stroke-width:0.32">-4</text>
<text x="337.84" y="178.16" font-size="8.6" text-anchor="middle" fill="#111a29" style="stroke:#111a29;stroke-opacity:0.55;stroke-width:0.32">-3</text>
<text x="354.20" y="178.16" font-size="8.6" text-anchor="middle" fill="#111a29" style="stroke:#111a29;stroke-opacity:0.55;stroke-width:0.32">-3</text>
<text x="370.57" y="178.16" font-size="8.6" text-anchor="middle" fill="#111a29" style="stroke:#111a29;stroke-opacity:0.55;stroke-width:0.32">-3</text>
<text x="386.94" y="178.16" font-size="8.6" text-anchor="middle" fill="#111b29" style="stroke:#111b29;stroke-opacity:0.55;stroke-width:0.32">-2</text>
<text x="403.31" y="178.16" font-size="8.6" text-anchor="middle" fill="#111b29" style="stroke:#111b29;stroke-opacity:0.55;stroke-width:0.32">-2</text>
<text x="255.99" y="190.68" font-size="8.6" text-anchor="middle" fill="#101a28" style="stroke:#101a28;stroke-opacity:0.55;stroke-width:0.32">-25</text>
<text x="272.36" y="190.68" font-size="8.6" text-anchor="middle" fill="#101a28" style="stroke:#101a28;stroke-opacity:0.55;stroke-width:0.32">-16</text>
<text x="288.73" y="190.68" font-size="8.6" text-anchor="middle" fill="#101a28" style="stroke:#101a28;stroke-opacity:0.55;stroke-width:0.32">-12</text>
<text x="305.10" y="190.68" font-size="8.6" text-anchor="middle" fill="#101a28" style="stroke:#101a28;stroke-opacity:0.55;stroke-width:0.32">-11</text>
<text x="321.47" y="190.68" font-size="8.6" text-anchor="middle" fill="#101a28" style="stroke:#101a28;stroke-opacity:0.55;stroke-width:0.32">-8</text>
<text x="337.84" y="190.68" font-size="8.6" text-anchor="middle" fill="#101a28" style="stroke:#101a28;stroke-opacity:0.55;stroke-width:0.32">-7</text>
<text x="354.20" y="190.68" font-size="8.6" text-anchor="middle" fill="#101a28" style="stroke:#101a28;stroke-opacity:0.55;stroke-width:0.32">-4</text>
<text x="370.57" y="190.68" font-size="8.6" text-anchor="middle" fill="#101a28" style="stroke:#101a28;stroke-opacity:0.55;stroke-width:0.32">-4</text>
<text x="386.94" y="190.68" font-size="8.6" text-anchor="middle" fill="#111b29" style="stroke:#111b29;stroke-opacity:0.55;stroke-width:0.32">-2</text>
<text x="403.31" y="190.68" font-size="8.6" text-anchor="middle" fill="#111b29" style="stroke:#111b29;stroke-opacity:0.55;stroke-width:0.32">-2</text>
<text x="255.99" y="203.20" font-size="8.6" text-anchor="middle" fill="#101a28" style="stroke:#101a28;stroke-opacity:0.55;stroke-width:0.32">-18</text>
<text x="272.36" y="203.20" font-size="8.6" text-anchor="middle" fill="#101a28" style="stroke:#101a28;stroke-opacity:0.55;stroke-width:0.32">-18</text>
<text x="288.73" y="203.20" font-size="8.6" text-anchor="middle" fill="#101a28" style="stroke:#101a28;stroke-opacity:0.55;stroke-width:0.32">-13</text>
<text x="305.10" y="203.20" font-size="8.6" text-anchor="middle" fill="#101a28" style="stroke:#101a28;stroke-opacity:0.55;stroke-width:0.32">-16</text>
<text x="321.47" y="203.20" font-size="8.6" text-anchor="middle" fill="#101a28" style="stroke:#101a28;stroke-opacity:0.55;stroke-width:0.32">-12</text>
<text x="337.84" y="203.20" font-size="8.6" text-anchor="middle" fill="#101a28" style="stroke:#101a28;stroke-opacity:0.55;stroke-width:0.32">-11</text>
<text x="354.20" y="203.20" font-size="8.6" text-anchor="middle" fill="#101a28" style="stroke:#101a28;stroke-opacity:0.55;stroke-width:0.32">-9</text>
<text x="370.57" y="203.20" font-size="8.6" text-anchor="middle" fill="#101a28" style="stroke:#101a28;stroke-opacity:0.55;stroke-width:0.32">-9</text>
<text x="386.94" y="203.20" font-size="8.6" text-anchor="middle" fill="#101a28" style="stroke:#101a28;stroke-opacity:0.55;stroke-width:0.32">-6</text>
<text x="403.31" y="203.20" font-size="8.6" text-anchor="middle" fill="#101a28" style="stroke:#101a28;stroke-opacity:0.55;stroke-width:0.32">-6</text>
<text x="255.99" y="215.72" font-size="8.6" text-anchor="middle" fill="#101a28" style="stroke:#101a28;stroke-opacity:0.55;stroke-width:0.32">-21</text>
<text x="272.36" y="215.72" font-size="8.6" text-anchor="middle" fill="#101a28" style="stroke:#101a28;stroke-opacity:0.55;stroke-width:0.32">-20</text>
<text x="288.73" y="215.72" font-size="8.6" text-anchor="middle" fill="#101a28" style="stroke:#101a28;stroke-opacity:0.55;stroke-width:0.32">-18</text>
<text x="305.10" y="215.72" font-size="8.6" text-anchor="middle" fill="#101a28" style="stroke:#101a28;stroke-opacity:0.55;stroke-width:0.32">-19</text>
<text x="321.47" y="215.72" font-size="8.6" text-anchor="middle" fill="#101a28" style="stroke:#101a28;stroke-opacity:0.55;stroke-width:0.32">-15</text>
<text x="337.84" y="215.72" font-size="8.6" text-anchor="middle" fill="#101a28" style="stroke:#101a28;stroke-opacity:0.55;stroke-width:0.32">-12</text>
<text x="354.20" y="215.72" font-size="8.6" text-anchor="middle" fill="#101a28" style="stroke:#101a28;stroke-opacity:0.55;stroke-width:0.32">-12</text>
<text x="370.57" y="215.72" font-size="8.6" text-anchor="middle" fill="#101a28" style="stroke:#101a28;stroke-opacity:0.55;stroke-width:0.32">-12</text>
<text x="386.94" y="215.72" font-size="8.6" text-anchor="middle" fill="#101a28" style="stroke:#101a28;stroke-opacity:0.55;stroke-width:0.32">-13</text>
<text x="403.31" y="215.72" font-size="8.6" text-anchor="middle" fill="#101a28" style="stroke:#101a28;stroke-opacity:0.55;stroke-width:0.32">-13</text>
<text x="255.99" y="228.24" font-size="8.6" text-anchor="middle" fill="#111a29" style="stroke:#111a29;stroke-opacity:0.55;stroke-width:0.32">-3</text>
<text x="272.36" y="228.24" font-size="8.6" text-anchor="middle" fill="#121c2a" style="stroke:#121c2a;stroke-opacity:0.55;stroke-width:0.32">-0</text>
<text x="288.73" y="228.24" font-size="8.6" text-anchor="middle" fill="#111b29" style="stroke:#111b29;stroke-opacity:0.55;stroke-width:0.32">-2</text>
<text x="305.10" y="228.24" font-size="8.6" text-anchor="middle" fill="#121b29" style="stroke:#121b29;stroke-opacity:0.55;stroke-width:0.32">-1</text>
<text x="321.47" y="228.24" font-size="8.6" text-anchor="middle" fill="#17212c" style="stroke:#17212c;stroke-opacity:0.55;stroke-width:0.32">3</text>
<text x="337.84" y="228.24" font-size="8.6" text-anchor="middle" fill="#1a242e" style="stroke:#1a242e;stroke-opacity:0.55;stroke-width:0.32">4</text>
<text x="354.20" y="228.24" font-size="8.6" text-anchor="middle" fill="#1a242e" style="stroke:#1a242e;stroke-opacity:0.55;stroke-width:0.32">4</text>
<text x="370.57" y="228.24" font-size="8.6" text-anchor="middle" fill="#232a2f" style="stroke:#232a2f;stroke-opacity:0.55;stroke-width:0.32">6</text>
<text x="386.94" y="228.24" font-size="8.6" text-anchor="middle" fill="#1a242e" style="stroke:#1a242e;stroke-opacity:0.55;stroke-width:0.32">4</text>
<text x="403.31" y="228.24" font-size="8.6" text-anchor="middle" fill="#1a242e" style="stroke:#1a242e;stroke-opacity:0.55;stroke-width:0.32">4</text>
<text x="255.99" y="240.76" font-size="8.6" text-anchor="middle" fill="#101a28" style="stroke:#101a28;stroke-opacity:0.55;stroke-width:0.32">-7</text>
<text x="272.36" y="240.76" font-size="8.6" text-anchor="middle" fill="#101a28" style="stroke:#101a28;stroke-opacity:0.55;stroke-width:0.32">-4</text>
<text x="288.73" y="240.76" font-size="8.6" text-anchor="middle" fill="#101a28" style="stroke:#101a28;stroke-opacity:0.55;stroke-width:0.32">-6</text>
<text x="305.10" y="240.76" font-size="8.6" text-anchor="middle" fill="#101a28" style="stroke:#101a28;stroke-opacity:0.55;stroke-width:0.32">-8</text>
<text x="321.47" y="240.76" font-size="8.6" text-anchor="middle" fill="#121c2a" style="stroke:#121c2a;stroke-opacity:0.55;stroke-width:0.32">-0</text>
<text x="337.84" y="240.76" font-size="8.6" text-anchor="middle" fill="#141e2b" style="stroke:#141e2b;stroke-opacity:0.55;stroke-width:0.32">2</text>
<text x="354.20" y="240.76" font-size="8.6" text-anchor="middle" fill="#121c2a" style="stroke:#121c2a;stroke-opacity:0.55;stroke-width:0.32">-0</text>
<text x="370.57" y="240.76" font-size="8.6" text-anchor="middle" fill="#141e2b" style="stroke:#141e2b;stroke-opacity:0.55;stroke-width:0.32">2</text>
<text x="386.94" y="240.76" font-size="8.6" text-anchor="middle" fill="#111b29" style="stroke:#111b29;stroke-opacity:0.55;stroke-width:0.32">-2</text>
<text x="403.31" y="240.76" font-size="8.6" text-anchor="middle" fill="#121b29" style="stroke:#121b29;stroke-opacity:0.55;stroke-width:0.32">-1</text>
<text x="255.99" y="253.28" font-size="8.6" text-anchor="middle" fill="#101a28" style="stroke:#101a28;stroke-opacity:0.55;stroke-width:0.32">-5</text>
<text x="272.36" y="253.28" font-size="8.6" text-anchor="middle" fill="#111b29" style="stroke:#111b29;stroke-opacity:0.55;stroke-width:0.32">-2</text>
<text x="288.73" y="253.28" font-size="8.6" text-anchor="middle" fill="#101a28" style="stroke:#101a28;stroke-opacity:0.55;stroke-width:0.32">-4</text>
<text x="305.10" y="253.28" font-size="8.6" text-anchor="middle" fill="#101a28" style="stroke:#101a28;stroke-opacity:0.55;stroke-width:0.32">-6</text>
<text x="321.47" y="253.28" font-size="8.6" text-anchor="middle" fill="#17212c" style="stroke:#17212c;stroke-opacity:0.55;stroke-width:0.32">3</text>
<text x="337.84" y="253.28" font-size="8.6" text-anchor="middle" fill="#1a242e" style="stroke:#1a242e;stroke-opacity:0.55;stroke-width:0.32">4</text>
<text x="354.20" y="253.28" font-size="8.6" text-anchor="middle" fill="#141e2b" style="stroke:#141e2b;stroke-opacity:0.55;stroke-width:0.32">2</text>
<text x="370.57" y="253.28" font-size="8.6" text-anchor="middle" fill="#1a242e" style="stroke:#1a242e;stroke-opacity:0.55;stroke-width:0.32">4</text>
<text x="386.94" y="253.28" font-size="8.6" text-anchor="middle" fill="#111a29" style="stroke:#111a29;stroke-opacity:0.55;stroke-width:0.32">-3</text>
<text x="403.31" y="253.28" font-size="8.6" text-anchor="middle" fill="#111b29" style="stroke:#111b29;stroke-opacity:0.55;stroke-width:0.32">-2</text>
<text x="255.99" y="265.80" font-size="8.6" text-anchor="middle" fill="#101a28" style="stroke:#101a28;stroke-opacity:0.55;stroke-width:0.32">-5</text>
<text x="272.36" y="265.80" font-size="8.6" text-anchor="middle" fill="#121b29" style="stroke:#121b29;stroke-opacity:0.55;stroke-width:0.32">-1</text>
<text x="288.73" y="265.80" font-size="8.6" text-anchor="middle" fill="#101a28" style="stroke:#101a28;stroke-opacity:0.55;stroke-width:0.32">-4</text>
<text x="305.10" y="265.80" font-size="8.6" text-anchor="middle" fill="#101a28" style="stroke:#101a28;stroke-opacity:0.55;stroke-width:0.32">-6</text>
<text x="321.47" y="265.80" font-size="8.6" text-anchor="middle" fill="#111b29" style="stroke:#111b29;stroke-opacity:0.55;stroke-width:0.32">-2</text>
<text x="337.84" y="265.80" font-size="8.6" text-anchor="middle" fill="#131d2a" style="stroke:#131d2a;stroke-opacity:0.55;stroke-width:0.32">1</text>
<text x="354.20" y="265.80" font-size="8.6" text-anchor="middle" fill="#121c2a" style="stroke:#121c2a;stroke-opacity:0.55;stroke-width:0.32">-0</text>
<text x="370.57" y="265.80" font-size="8.6" text-anchor="middle" fill="#121c2a" style="stroke:#121c2a;stroke-opacity:0.55;stroke-width:0.32">0</text>
<text x="386.94" y="265.80" font-size="8.6" text-anchor="middle" fill="#111a29" style="stroke:#111a29;stroke-opacity:0.55;stroke-width:0.32">-3</text>
<text x="403.31" y="265.80" font-size="8.6" text-anchor="middle" fill="#101a28" style="stroke:#101a28;stroke-opacity:0.55;stroke-width:0.32">-5</text>
<text x="255.99" y="278.32" font-size="8.6" text-anchor="middle" fill="#1a242e" style="stroke:#1a242e;stroke-opacity:0.55;stroke-width:0.32">4</text>
<text x="272.36" y="278.32" font-size="8.6" text-anchor="middle" fill="#1a242e" style="stroke:#1a242e;stroke-opacity:0.55;stroke-width:0.32">4</text>
<text x="288.73" y="278.32" font-size="8.6" text-anchor="middle" fill="#232a2f" style="stroke:#232a2f;stroke-opacity:0.55;stroke-width:0.32">6</text>
<text x="305.10" y="278.32" font-size="8.6" text-anchor="middle" fill="#141e2b" style="stroke:#141e2b;stroke-opacity:0.55;stroke-width:0.32">2</text>
<text x="321.47" y="278.32" font-size="8.6" text-anchor="middle" fill="#1f272f" style="stroke:#1f272f;stroke-opacity:0.55;stroke-width:0.32">5</text>
<text x="337.84" y="278.32" font-size="8.6" text-anchor="middle" fill="#272c2e" style="stroke:#272c2e;stroke-opacity:0.55;stroke-width:0.32">7</text>
<text x="354.20" y="278.32" font-size="8.6" text-anchor="middle" fill="#232a2f" style="stroke:#232a2f;stroke-opacity:0.55;stroke-width:0.32">6</text>
<text x="370.57" y="278.32" font-size="8.6" text-anchor="middle" fill="#1f272f" style="stroke:#1f272f;stroke-opacity:0.55;stroke-width:0.32">5</text>
<text x="386.94" y="278.32" font-size="8.6" text-anchor="middle" fill="#1a242e" style="stroke:#1a242e;stroke-opacity:0.55;stroke-width:0.32">4</text>
<text x="403.31" y="278.32" font-size="8.6" text-anchor="middle" fill="#17212c" style="stroke:#17212c;stroke-opacity:0.55;stroke-width:0.32">3</text>
<text x="255.99" y="290.84" font-size="8.6" text-anchor="middle" fill="#141e2b" style="stroke:#141e2b;stroke-opacity:0.55;stroke-width:0.32">2</text>
<text x="272.36" y="290.84" font-size="8.6" text-anchor="middle" fill="#131d2a" style="stroke:#131d2a;stroke-opacity:0.55;stroke-width:0.32">1</text>
<text x="288.73" y="290.84" font-size="8.6" text-anchor="middle" fill="#101a28" style="stroke:#101a28;stroke-opacity:0.55;stroke-width:0.32">-4</text>
<text x="305.10" y="290.84" font-size="8.6" text-anchor="middle" fill="#101a28" style="stroke:#101a28;stroke-opacity:0.55;stroke-width:0.32">-4</text>
<text x="321.47" y="290.84" font-size="8.6" text-anchor="middle" fill="#121c2a" style="stroke:#121c2a;stroke-opacity:0.55;stroke-width:0.32">0</text>
<text x="337.84" y="290.84" font-size="8.6" text-anchor="middle" fill="#131d2a" style="stroke:#131d2a;stroke-opacity:0.55;stroke-width:0.32">1</text>
<text x="354.20" y="290.84" font-size="8.6" text-anchor="middle" fill="#141e2b" style="stroke:#141e2b;stroke-opacity:0.55;stroke-width:0.32">2</text>
<text x="370.57" y="290.84" font-size="8.6" text-anchor="middle" fill="#17212c" style="stroke:#17212c;stroke-opacity:0.55;stroke-width:0.32">3</text>
<text x="386.94" y="290.84" font-size="8.6" text-anchor="middle" fill="#17212c" style="stroke:#17212c;stroke-opacity:0.55;stroke-width:0.32">3</text>
<text x="403.31" y="290.84" font-size="8.6" text-anchor="middle" fill="#131d2a" style="stroke:#131d2a;stroke-opacity:0.55;stroke-width:0.32">1</text>
<text x="44.50" y="35.06" font-size="8.4" text-anchor="end" fill="#111" font-weight="normal" >2</text>
<text x="244.50" y="35.06" font-size="8.4" text-anchor="end" fill="#111" font-weight="normal" >2</text>
<text x="44.50" y="47.58" font-size="8.4" text-anchor="end" fill="#111" font-weight="normal" >1.8</text>
<text x="244.50" y="47.58" font-size="8.4" text-anchor="end" fill="#111" font-weight="normal" >1.8</text>
<text x="44.50" y="60.10" font-size="8.4" text-anchor="end" fill="#111" font-weight="normal" >1.6</text>
<text x="244.50" y="60.10" font-size="8.4" text-anchor="end" fill="#111" font-weight="normal" >1.6</text>
<text x="44.50" y="72.62" font-size="8.4" text-anchor="end" fill="#111" font-weight="normal" >1.5</text>
<text x="244.50" y="72.62" font-size="8.4" text-anchor="end" fill="#111" font-weight="normal" >1.5</text>
<text x="44.50" y="85.14" font-size="8.4" text-anchor="end" fill="#111" font-weight="normal" >1.4</text>
<text x="244.50" y="85.14" font-size="8.4" text-anchor="end" fill="#111" font-weight="normal" >1.4</text>
<text x="44.50" y="97.66" font-size="8.4" text-anchor="end" fill="#111" font-weight="normal" >1.3</text>
<text x="244.50" y="97.66" font-size="8.4" text-anchor="end" fill="#111" font-weight="normal" >1.3</text>
<text x="44.50" y="110.18" font-size="8.4" text-anchor="end" fill="#111" font-weight="normal" >1.2</text>
<text x="244.50" y="110.18" font-size="8.4" text-anchor="end" fill="#111" font-weight="normal" >1.2</text>
<text x="44.50" y="122.70" font-size="8.4" text-anchor="end" fill="#111" font-weight="normal" >1.1</text>
<text x="244.50" y="122.70" font-size="8.4" text-anchor="end" fill="#111" font-weight="normal" >1.1</text>
<text x="44.50" y="135.22" font-size="8.4" text-anchor="end" fill="#111" font-weight="normal" >1</text>
<text x="244.50" y="135.22" font-size="8.4" text-anchor="end" fill="#111" font-weight="normal" >1</text>
<text x="44.50" y="147.74" font-size="8.4" text-anchor="end" fill="#111" font-weight="normal" >0.9</text>
<text x="244.50" y="147.74" font-size="8.4" text-anchor="end" fill="#111" font-weight="normal" >0.9</text>
<text x="44.50" y="177.66" font-size="8.4" text-anchor="end" fill="#111" font-weight="normal" >8</text>
<text x="244.50" y="177.66" font-size="8.4" text-anchor="end" fill="#111" font-weight="normal" >8</text>
<text x="44.50" y="190.18" font-size="8.4" text-anchor="end" fill="#111" font-weight="normal" >6</text>
<text x="244.50" y="190.18" font-size="8.4" text-anchor="end" fill="#111" font-weight="normal" >6</text>
<text x="44.50" y="202.70" font-size="8.4" text-anchor="end" fill="#111" font-weight="normal" >5</text>
<text x="244.50" y="202.70" font-size="8.4" text-anchor="end" fill="#111" font-weight="normal" >5</text>
<text x="44.50" y="215.22" font-size="8.4" text-anchor="end" fill="#111" font-weight="normal" >4</text>
<text x="244.50" y="215.22" font-size="8.4" text-anchor="end" fill="#111" font-weight="normal" >4</text>
<text x="44.50" y="227.74" font-size="8.4" text-anchor="end" fill="#111" font-weight="normal" >3</text>
<text x="244.50" y="227.74" font-size="8.4" text-anchor="end" fill="#111" font-weight="normal" >3</text>
<text x="44.50" y="240.26" font-size="8.4" text-anchor="end" fill="#111" font-weight="normal" >2.5</text>
<text x="244.50" y="240.26" font-size="8.4" text-anchor="end" fill="#111" font-weight="normal" >2.5</text>
<text x="44.50" y="252.78" font-size="8.4" text-anchor="end" fill="#111" font-weight="normal" >2</text>
<text x="244.50" y="252.78" font-size="8.4" text-anchor="end" fill="#111" font-weight="normal" >2</text>
<text x="44.50" y="265.30" font-size="8.4" text-anchor="end" fill="#111" font-weight="normal" >1.5</text>
<text x="244.50" y="265.30" font-size="8.4" text-anchor="end" fill="#111" font-weight="normal" >1.5</text>
<text x="44.50" y="277.82" font-size="8.4" text-anchor="end" fill="#111" font-weight="normal" >1.2</text>
<text x="244.50" y="277.82" font-size="8.4" text-anchor="end" fill="#111" font-weight="normal" >1.2</text>
<text x="44.50" y="290.34" font-size="8.4" text-anchor="end" fill="#111" font-weight="normal" >1</text>
<text x="244.50" y="290.34" font-size="8.4" text-anchor="end" fill="#111" font-weight="normal" >1</text>
<text x="20.00" y="162.70" font-size="8.2" text-anchor="start" fill="#111" font-weight="normal" >[Drug]</text>
<text x="223.00" y="162.70" font-size="8.2" text-anchor="start" fill="#111" font-weight="normal" >[Drug]</text>
<text x="55.48" y="162.70" font-size="8.4" text-anchor="middle" fill="#111" font-weight="normal" >1</text>
<text x="255.99" y="162.70" font-size="8.4" text-anchor="middle" fill="#111" font-weight="normal" >1</text>
<text x="71.86" y="162.70" font-size="8.4" text-anchor="middle" fill="#111" font-weight="normal" >2.5</text>
<text x="272.36" y="162.70" font-size="8.4" text-anchor="middle" fill="#111" font-weight="normal" >2.5</text>
<text x="88.22" y="162.70" font-size="8.4" text-anchor="middle" fill="#111" font-weight="normal" >3</text>
<text x="288.73" y="162.70" font-size="8.4" text-anchor="middle" fill="#111" font-weight="normal" >3</text>
<text x="104.59" y="162.70" font-size="8.4" text-anchor="middle" fill="#111" font-weight="normal" >4</text>
<text x="305.10" y="162.70" font-size="8.4" text-anchor="middle" fill="#111" font-weight="normal" >4</text>
<text x="120.97" y="162.70" font-size="8.4" text-anchor="middle" fill="#111" font-weight="normal" >5</text>
<text x="321.47" y="162.70" font-size="8.4" text-anchor="middle" fill="#111" font-weight="normal" >5</text>
<text x="137.34" y="162.70" font-size="8.4" text-anchor="middle" fill="#111" font-weight="normal" >6</text>
<text x="337.84" y="162.70" font-size="8.4" text-anchor="middle" fill="#111" font-weight="normal" >6</text>
<text x="153.70" y="162.70" font-size="8.4" text-anchor="middle" fill="#111" font-weight="normal" >7.5</text>
<text x="354.20" y="162.70" font-size="8.4" text-anchor="middle" fill="#111" font-weight="normal" >7.5</text>
<text x="170.07" y="162.70" font-size="8.4" text-anchor="middle" fill="#111" font-weight="normal" >9</text>
<text x="370.57" y="162.70" font-size="8.4" text-anchor="middle" fill="#111" font-weight="normal" >9</text>
<text x="186.44" y="162.70" font-size="8.4" text-anchor="middle" fill="#111" font-weight="normal" >10</text>
<text x="386.94" y="162.70" font-size="8.4" text-anchor="middle" fill="#111" font-weight="normal" >10</text>
<text x="202.81" y="162.70" font-size="8.4" text-anchor="middle" fill="#111" font-weight="normal" >15</text>
<text x="403.31" y="162.70" font-size="8.4" text-anchor="middle" fill="#111" font-weight="normal" >15</text>
<text x="20.00" y="305.30" font-size="8.2" text-anchor="start" fill="#111" font-weight="normal" >[Drug]</text>
<text x="223.00" y="305.30" font-size="8.2" text-anchor="start" fill="#111" font-weight="normal" >[Drug]</text>
<text x="55.48" y="305.30" font-size="8.4" text-anchor="middle" fill="#111" font-weight="normal" >1</text>
<text x="255.99" y="305.30" font-size="8.4" text-anchor="middle" fill="#111" font-weight="normal" >1</text>
<text x="71.86" y="305.30" font-size="8.4" text-anchor="middle" fill="#111" font-weight="normal" >2.5</text>
<text x="272.36" y="305.30" font-size="8.4" text-anchor="middle" fill="#111" font-weight="normal" >2.5</text>
<text x="88.22" y="305.30" font-size="8.4" text-anchor="middle" fill="#111" font-weight="normal" >3</text>
<text x="288.73" y="305.30" font-size="8.4" text-anchor="middle" fill="#111" font-weight="normal" >3</text>
<text x="104.59" y="305.30" font-size="8.4" text-anchor="middle" fill="#111" font-weight="normal" >4</text>
<text x="305.10" y="305.30" font-size="8.4" text-anchor="middle" fill="#111" font-weight="normal" >4</text>
<text x="120.97" y="305.30" font-size="8.4" text-anchor="middle" fill="#111" font-weight="normal" >5</text>
<text x="321.47" y="305.30" font-size="8.4" text-anchor="middle" fill="#111" font-weight="normal" >5</text>
<text x="137.34" y="305.30" font-size="8.4" text-anchor="middle" fill="#111" font-weight="normal" >6</text>
<text x="337.84" y="305.30" font-size="8.4" text-anchor="middle" fill="#111" font-weight="normal" >6</text>
<text x="153.70" y="305.30" font-size="8.4" text-anchor="middle" fill="#111" font-weight="normal" >7.5</text>
<text x="354.20" y="305.30" font-size="8.4" text-anchor="middle" fill="#111" font-weight="normal" >7.5</text>
<text x="170.07" y="305.30" font-size="8.4" text-anchor="middle" fill="#111" font-weight="normal" >9</text>
<text x="370.57" y="305.30" font-size="8.4" text-anchor="middle" fill="#111" font-weight="normal" >9</text>
<text x="186.44" y="305.30" font-size="8.4" text-anchor="middle" fill="#111" font-weight="normal" >10</text>
<text x="386.94" y="305.30" font-size="8.4" text-anchor="middle" fill="#111" font-weight="normal" >10</text>
<text x="202.81" y="305.30" font-size="8.4" text-anchor="middle" fill="#111" font-weight="normal" >15</text>
<text x="403.31" y="305.30" font-size="8.4" text-anchor="middle" fill="#111" font-weight="normal" >15</text>
<text x="0" y="0" font-size="9" text-anchor="middle" fill="#1a1a1a" transform="translate(27.3,89) rotate(-90)">Carfilzomib (nM)</text>
<text x="0" y="0" font-size="9" text-anchor="middle" fill="#1a1a1a" transform="translate(27.3,231.3) rotate(-90)">Bortezomib (nM)</text>
<text x="130.20" y="318.50" font-size="9" text-anchor="middle" fill="#111" font-weight="normal" >TGR-1202 (μM)</text>
<text x="329.30" y="319.20" font-size="9" text-anchor="middle" fill="#111" font-weight="normal" >Idelalisib (μM)</text>
<text x="7.50" y="335.00" font-size="12" text-anchor="start" fill="#000" font-weight="bold" >B</text>
<line x1="52.60" y1="408.80" x2="143.40" y2="340.80" stroke="#1a1a1a" stroke-width="1.3"/>
<rect x="88.66" y="342.77" width="1.7" height="1.7" fill="#ad1a40"/>
<rect x="90.99" y="342.17" width="1.7" height="1.7" fill="#ad1a40"/>
<rect x="93.33" y="341.56" width="1.7" height="1.7" fill="#ad1a40"/>
<rect x="89.83" y="342.44" width="1.7" height="1.7" fill="#ad1a40"/>
<rect x="83.45" y="352.55" width="1.7" height="1.7" fill="#ad1a40"/>
<rect x="88.12" y="354.84" width="1.7" height="1.7" fill="#ad1a40"/>
<rect x="88.39" y="353.69" width="1.7" height="1.7" fill="#ad1a40"/>
<rect x="88.66" y="361.78" width="1.7" height="1.7" fill="#ad1a40"/>
<rect x="80.58" y="356.59" width="1.7" height="1.7" fill="#ad1a40"/>
<rect x="78.24" y="360.10" width="1.7" height="1.7" fill="#ad1a40"/>
<rect x="81.20" y="359.49" width="1.7" height="1.7" fill="#ad1a40"/>
<rect x="77.70" y="365.82" width="1.7" height="1.7" fill="#ad1a40"/>
<rect x="78.87" y="368.72" width="1.7" height="1.7" fill="#ad1a40"/>
<rect x="75.37" y="368.18" width="1.7" height="1.7" fill="#ad1a40"/>
<rect x="81.74" y="371.01" width="1.7" height="1.7" fill="#ad1a40"/>
<rect x="77.70" y="373.91" width="1.7" height="1.7" fill="#ad1a40"/>
<rect x="76.53" y="375.60" width="1.7" height="1.7" fill="#ad1a40"/>
<rect x="74.20" y="376.27" width="1.7" height="1.7" fill="#ad1a40"/>
<rect x="71.96" y="376.81" width="1.7" height="1.7" fill="#ad1a40"/>
<rect x="78.24" y="376.81" width="1.7" height="1.7" fill="#ad1a40"/>
<rect x="92.16" y="373.91" width="1.7" height="1.7" fill="#ad1a40"/>
<rect x="74.20" y="382.54" width="1.7" height="1.7" fill="#ad1a40"/>
<rect x="71.96" y="384.90" width="1.7" height="1.7" fill="#ad1a40"/>
<rect x="70.79" y="387.19" width="1.7" height="1.7" fill="#ad1a40"/>
<rect x="69.08" y="390.63" width="1.7" height="1.7" fill="#ad1a40"/>
<rect x="67.29" y="392.92" width="1.7" height="1.7" fill="#ad1a40"/>
<rect x="72.40" y="380.99" width="1.7" height="1.7" fill="#ad1a40"/>
<rect x="75.10" y="378.29" width="1.7" height="1.7" fill="#ad1a40"/>
<rect x="69.71" y="389.08" width="1.7" height="1.7" fill="#ad1a40"/>
<rect x="73.30" y="386.38" width="1.7" height="1.7" fill="#ad1a40"/>
<rect x="64.41" y="406.80" width="1.7" height="1.7" fill="#ad1a40"/>
<rect x="65.30" y="399.44" width="1.7" height="1.7" fill="#ad1a40"/>
<rect x="58.44" y="405.60" width="1.7" height="1.7" fill="#ad1a40"/>
<rect x="59.81" y="405.29" width="1.7" height="1.7" fill="#ad1a40"/>
<rect x="65.43" y="400.52" width="1.7" height="1.7" fill="#ad1a40"/>
<rect x="64.96" y="402.14" width="1.7" height="1.7" fill="#ad1a40"/>
<rect x="58.29" y="407.48" width="1.7" height="1.7" fill="#ad1a40"/>
<rect x="60.96" y="395.42" width="1.7" height="1.7" fill="#ad1a40"/>
<rect x="61.55" y="406.91" width="1.7" height="1.7" fill="#ad1a40"/>
<rect x="62.87" y="402.91" width="1.7" height="1.7" fill="#ad1a40"/>
<rect x="69.93" y="393.75" width="1.7" height="1.7" fill="#ad1a40"/>
<rect x="64.67" y="396.47" width="1.7" height="1.7" fill="#ad1a40"/>
<rect x="61.98" y="404.62" width="1.7" height="1.7" fill="#ad1a40"/>
<rect x="65.34" y="397.23" width="1.7" height="1.7" fill="#ad1a40"/>
<rect x="64.26" y="398.64" width="1.7" height="1.7" fill="#ad1a40"/>
<rect x="67.84" y="398.50" width="1.7" height="1.7" fill="#ad1a40"/>
<rect x="61.32" y="400.10" width="1.7" height="1.7" fill="#ad1a40"/>
<rect x="66.15" y="391.15" width="1.7" height="1.7" fill="#ad1a40"/>
<rect x="57.68" y="402.62" width="1.7" height="1.7" fill="#ad1a40"/>
<rect x="60.81" y="404.14" width="1.7" height="1.7" fill="#ad1a40"/>
<rect x="67.31" y="401.34" width="1.7" height="1.7" fill="#ad1a40"/>
<rect x="67.86" y="392.55" width="1.7" height="1.7" fill="#ad1a40"/>
<rect x="63.98" y="400.37" width="1.7" height="1.7" fill="#ad1a40"/>
<rect x="71.37" y="397.21" width="1.7" height="1.7" fill="#ad1a40"/>
<rect x="70.36" y="396.95" width="1.7" height="1.7" fill="#ad1a40"/>
<rect x="71.14" y="398.70" width="1.7" height="1.7" fill="#ad1a40"/>
<rect x="60.28" y="400.36" width="1.7" height="1.7" fill="#ad1a40"/>
<rect x="58.70" y="405.33" width="1.7" height="1.7" fill="#ad1a40"/>
<rect x="64.82" y="403.13" width="1.7" height="1.7" fill="#ad1a40"/>
<rect x="61.26" y="402.10" width="1.7" height="1.7" fill="#ad1a40"/>
<rect x="71.45" y="394.69" width="1.7" height="1.7" fill="#ad1a40"/>
<rect x="68.96" y="402.55" width="1.7" height="1.7" fill="#ad1a40"/>
<rect x="68.71" y="393.62" width="1.7" height="1.7" fill="#ad1a40"/>
<rect x="68.08" y="405.76" width="1.7" height="1.7" fill="#ad1a40"/>
<rect x="62.22" y="402.67" width="1.7" height="1.7" fill="#ad1a40"/>
<rect x="59.25" y="402.96" width="1.7" height="1.7" fill="#ad1a40"/>
<rect x="65.10" y="402.85" width="1.7" height="1.7" fill="#ad1a40"/>
<rect x="58.53" y="404.06" width="1.7" height="1.7" fill="#ad1a40"/>
<rect x="64.05" y="398.33" width="1.7" height="1.7" fill="#ad1a40"/>
<rect x="71.84" y="396.50" width="1.7" height="1.7" fill="#ad1a40"/>
<rect x="71.18" y="399.98" width="1.7" height="1.7" fill="#ad1a40"/>
<rect x="63.18" y="400.78" width="1.7" height="1.7" fill="#ad1a40"/>
<rect x="67.47" y="398.32" width="1.7" height="1.7" fill="#ad1a40"/>
<rect x="63.20" y="401.70" width="1.7" height="1.7" fill="#ad1a40"/>
<rect x="61.74" y="405.32" width="1.7" height="1.7" fill="#ad1a40"/>
<rect x="60.58" y="404.36" width="1.7" height="1.7" fill="#ad1a40"/>
<rect x="69.20" y="401.16" width="1.7" height="1.7" fill="#ad1a40"/>
<rect x="68.03" y="396.86" width="1.7" height="1.7" fill="#ad1a40"/>
<rect x="65.79" y="396.41" width="1.7" height="1.7" fill="#ad1a40"/>
<rect x="70.14" y="394.86" width="1.7" height="1.7" fill="#ad1a40"/>
<rect x="69.53" y="398.64" width="1.7" height="1.7" fill="#ad1a40"/>
<rect x="66.07" y="398.40" width="1.7" height="1.7" fill="#ad1a40"/>
<rect x="68.66" y="397.04" width="1.7" height="1.7" fill="#ad1a40"/>
<rect x="66.63" y="393.47" width="1.7" height="1.7" fill="#ad1a40"/>
<rect x="67.27" y="398.02" width="1.7" height="1.7" fill="#ad1a40"/>
<rect x="69.64" y="399.52" width="1.7" height="1.7" fill="#ad1a40"/>
<rect x="68.72" y="395.83" width="1.7" height="1.7" fill="#ad1a40"/>
<rect x="69.73" y="397.96" width="1.7" height="1.7" fill="#ad1a40"/>
<rect x="71.45" y="399.24" width="1.7" height="1.7" fill="#ad1a40"/>
<rect x="66.44" y="400.49" width="1.7" height="1.7" fill="#ad1a40"/>
<rect x="66.11" y="397.30" width="1.7" height="1.7" fill="#ad1a40"/>
<rect x="82.22" y="386.87" width="2" height="2" fill="#2b4d8c"/>
<rect x="77.38" y="388.76" width="2" height="2" fill="#2b4d8c"/>
<rect x="93.33" y="386.06" width="2" height="2" fill="#2b4d8c"/>
<rect x="87.09" y="386.90" width="2" height="2" fill="#2b4d8c"/>
<rect x="80.37" y="389.08" width="2" height="2" fill="#2b4d8c"/>
<rect x="69.83" y="394.10" width="2" height="2" fill="#2b4d8c"/>
<rect x="86.93" y="387.74" width="2" height="2" fill="#2b4d8c"/>
<rect x="95.55" y="384.60" width="2" height="2" fill="#2b4d8c"/>
<rect x="77.73" y="390.10" width="2" height="2" fill="#2b4d8c"/>
<rect x="74.72" y="391.11" width="2" height="2" fill="#2b4d8c"/>
<rect x="90.40" y="386.30" width="2" height="2" fill="#2b4d8c"/>
<rect x="83.93" y="388.39" width="2" height="2" fill="#2b4d8c"/>
<rect x="87.24" y="389.17" width="2" height="2" fill="#2b4d8c"/>
<rect x="84.28" y="386.43" width="2" height="2" fill="#2b4d8c"/>
<rect x="84.49" y="383.57" width="2" height="2" fill="#2b4d8c"/>
<rect x="88.62" y="382.88" width="2" height="2" fill="#2b4d8c"/>
<rect x="89.74" y="385.16" width="2" height="2" fill="#2b4d8c"/>
<rect x="75.24" y="391.27" width="2" height="2" fill="#2b4d8c"/>
<rect x="89.59" y="383.48" width="2" height="2" fill="#2b4d8c"/>
<rect x="89.49" y="385.03" width="2" height="2" fill="#2b4d8c"/>
<rect x="81.65" y="388.81" width="2" height="2" fill="#2b4d8c"/>
<rect x="88.80" y="385.49" width="2" height="2" fill="#2b4d8c"/>
<rect x="85.35" y="383.02" width="2" height="2" fill="#2b4d8c"/>
<rect x="87.80" y="384.45" width="2" height="2" fill="#2b4d8c"/>
<rect x="76.06" y="389.97" width="2" height="2" fill="#2b4d8c"/>
<rect x="74.07" y="392.10" width="2" height="2" fill="#2b4d8c"/>
<rect x="87.60" y="383.20" width="2" height="2" fill="#2b4d8c"/>
<rect x="84.14" y="389.55" width="2" height="2" fill="#2b4d8c"/>
<rect x="86.46" y="384.55" width="2" height="2" fill="#2b4d8c"/>
<rect x="83.34" y="389.11" width="2" height="2" fill="#2b4d8c"/>
<rect x="77.69" y="393.37" width="2" height="2" fill="#2b4d8c"/>
<rect x="69.57" y="393.15" width="2" height="2" fill="#2b4d8c"/>
<rect x="80.26" y="387.18" width="2" height="2" fill="#2b4d8c"/>
<rect x="81.77" y="389.68" width="2" height="2" fill="#2b4d8c"/>
<rect x="81.65" y="387.57" width="2" height="2" fill="#2b4d8c"/>
<rect x="83.21" y="386.40" width="2" height="2" fill="#2b4d8c"/>
<rect x="88.09" y="387.36" width="2" height="2" fill="#2b4d8c"/>
<rect x="79.97" y="388.30" width="2" height="2" fill="#2b4d8c"/>
<rect x="81.74" y="386.67" width="2" height="2" fill="#2b4d8c"/>
<rect x="83.24" y="390.77" width="2" height="2" fill="#2b4d8c"/>
<rect x="90.14" y="385.48" width="2" height="2" fill="#2b4d8c"/>
<rect x="85.81" y="389.96" width="2" height="2" fill="#2b4d8c"/>
<rect x="74.34" y="392.80" width="2" height="2" fill="#2b4d8c"/>
<rect x="71.18" y="394.16" width="2" height="2" fill="#2b4d8c"/>
<rect x="85.04" y="390.92" width="2" height="2" fill="#2b4d8c"/>
<rect x="72.16" y="396.12" width="2" height="2" fill="#2b4d8c"/>
<rect x="77.17" y="396.78" width="2" height="2" fill="#2b4d8c"/>
<rect x="76.54" y="393.48" width="2" height="2" fill="#2b4d8c"/>
<rect x="84.47" y="389.95" width="2" height="2" fill="#2b4d8c"/>
<rect x="70.48" y="392.90" width="2" height="2" fill="#2b4d8c"/>
<rect x="77.55" y="390.22" width="2" height="2" fill="#2b4d8c"/>
<rect x="88.07" y="386.66" width="2" height="2" fill="#2b4d8c"/>
<rect x="81.13" y="390.16" width="2" height="2" fill="#2b4d8c"/>
<rect x="82.16" y="388.14" width="2" height="2" fill="#2b4d8c"/>
<rect x="92.28" y="387.91" width="2" height="2" fill="#2b4d8c"/>
<rect x="71.75" y="393.94" width="2" height="2" fill="#2b4d8c"/>
<rect x="86.19" y="385.37" width="2" height="2" fill="#2b4d8c"/>
<rect x="82.33" y="392.13" width="2" height="2" fill="#2b4d8c"/>
<rect x="78.23" y="389.60" width="2" height="2" fill="#2b4d8c"/>
<rect x="81.55" y="389.41" width="2" height="2" fill="#2b4d8c"/>
<rect x="69.87" y="396.55" width="2" height="2" fill="#2b4d8c"/>
<rect x="74.19" y="395.66" width="2" height="2" fill="#2b4d8c"/>
<rect x="90.81" y="384.34" width="2" height="2" fill="#2b4d8c"/>
<rect x="72.67" y="396.21" width="2" height="2" fill="#2b4d8c"/>
<rect x="71.83" y="392.76" width="2" height="2" fill="#2b4d8c"/>
<rect x="77.30" y="390.98" width="2" height="2" fill="#2b4d8c"/>
<rect x="75.77" y="392.17" width="2" height="2" fill="#2b4d8c"/>
<rect x="71.25" y="393.72" width="2" height="2" fill="#2b4d8c"/>
<rect x="76.25" y="393.30" width="2" height="2" fill="#2b4d8c"/>
<rect x="81.28" y="388.26" width="2" height="2" fill="#2b4d8c"/>
<rect x="76.64" y="392.12" width="2" height="2" fill="#2b4d8c"/>
<rect x="78.58" y="391.98" width="2" height="2" fill="#2b4d8c"/>
<rect x="73.57" y="392.71" width="2" height="2" fill="#2b4d8c"/>
<rect x="69.77" y="391.55" width="2" height="2" fill="#2b4d8c"/>
<rect x="78.21" y="389.98" width="2" height="2" fill="#2b4d8c"/>
<rect x="72.56" y="391.32" width="2" height="2" fill="#2b4d8c"/>
<rect x="76.09" y="394.04" width="2" height="2" fill="#2b4d8c"/>
<rect x="71.53" y="392.43" width="2" height="2" fill="#2b4d8c"/>
<rect x="76.99" y="392.50" width="2" height="2" fill="#2b4d8c"/>
<rect x="76.69" y="395.05" width="2" height="2" fill="#2b4d8c"/>
<rect x="87.97" y="384.75" width="2" height="2" fill="#2b4d8c"/>
<rect x="92.01" y="384.75" width="2" height="2" fill="#2b4d8c"/>
<rect x="103.80" y="375.60" width="2" height="2" fill="#2b4d8c"/>
<rect x="99.94" y="380.15" width="2" height="2" fill="#2b4d8c"/>
<rect x="105.49" y="374.74" width="2" height="2" fill="#2b4d8c"/>
<rect x="101.10" y="381.93" width="2" height="2" fill="#2b4d8c"/>
<rect x="104.75" y="375.13" width="2" height="2" fill="#2b4d8c"/>
<rect x="101.08" y="378.52" width="2" height="2" fill="#2b4d8c"/>
<rect x="102.77" y="374.96" width="2" height="2" fill="#2b4d8c"/>
<rect x="106.72" y="373.85" width="2" height="2" fill="#2b4d8c"/>
<rect x="107.06" y="372.80" width="2" height="2" fill="#2b4d8c"/>
<rect x="98.30" y="380.06" width="2" height="2" fill="#2b4d8c"/>
<rect x="103.87" y="375.97" width="2" height="2" fill="#2b4d8c"/>
<rect x="99.19" y="380.37" width="2" height="2" fill="#2b4d8c"/>
<rect x="102.82" y="377.82" width="2" height="2" fill="#2b4d8c"/>
<path d="M52.60,337 V408.80 H144.60" fill="none" stroke="#111" stroke-width="1.3"/>
<line x1="49.20" y1="408.80" x2="52.60" y2="408.80" stroke="#111" stroke-width="1.2"/>
<text x="45.60" y="411.70" font-size="8" text-anchor="end" fill="#111" font-weight="normal" >0</text>
<line x1="52.60" y1="408.80" x2="52.60" y2="411.40" stroke="#111" stroke-width="1.2"/>
<text x="52.60" y="422.60" font-size="8" text-anchor="middle" fill="#111" font-weight="normal" >0</text>
<line x1="49.20" y1="391.95" x2="52.60" y2="391.95" stroke="#111" stroke-width="1.2"/>
<text x="45.60" y="394.85" font-size="8" text-anchor="end" fill="#111" font-weight="normal" >25</text>
<line x1="75.05" y1="408.80" x2="75.05" y2="411.40" stroke="#111" stroke-width="1.2"/>
<text x="75.05" y="422.60" font-size="8" text-anchor="middle" fill="#111" font-weight="normal" >25</text>
<line x1="49.20" y1="375.10" x2="52.60" y2="375.10" stroke="#111" stroke-width="1.2"/>
<text x="45.60" y="378.00" font-size="8" text-anchor="end" fill="#111" font-weight="normal" >50</text>
<line x1="97.50" y1="408.80" x2="97.50" y2="411.40" stroke="#111" stroke-width="1.2"/>
<text x="97.50" y="422.60" font-size="8" text-anchor="middle" fill="#111" font-weight="normal" >50</text>
<line x1="49.20" y1="358.25" x2="52.60" y2="358.25" stroke="#111" stroke-width="1.2"/>
<text x="45.60" y="361.15" font-size="8" text-anchor="end" fill="#111" font-weight="normal" >75</text>
<line x1="119.95" y1="408.80" x2="119.95" y2="411.40" stroke="#111" stroke-width="1.2"/>
<text x="119.95" y="422.60" font-size="8" text-anchor="middle" fill="#111" font-weight="normal" >75</text>
<line x1="49.20" y1="341.40" x2="52.60" y2="341.40" stroke="#111" stroke-width="1.2"/>
<text x="45.60" y="344.30" font-size="8" text-anchor="end" fill="#111" font-weight="normal" >100</text>
<line x1="142.40" y1="408.80" x2="142.40" y2="411.40" stroke="#111" stroke-width="1.2"/>
<text x="142.40" y="422.60" font-size="8" text-anchor="middle" fill="#111" font-weight="normal" >100</text>
<line x1="174.20" y1="408.80" x2="265.00" y2="340.80" stroke="#1a1a1a" stroke-width="1.3"/>
<rect x="191.76" y="342.17" width="1.7" height="1.7" fill="#ad1a40"/>
<rect x="196.34" y="341.22" width="1.7" height="1.7" fill="#ad1a40"/>
<rect x="199.30" y="340.55" width="1.7" height="1.7" fill="#ad1a40"/>
<rect x="198.67" y="342.77" width="1.7" height="1.7" fill="#ad1a40"/>
<rect x="196.34" y="345.07" width="1.7" height="1.7" fill="#ad1a40"/>
<rect x="195.26" y="347.96" width="1.7" height="1.7" fill="#ad1a40"/>
<rect x="198.67" y="349.11" width="1.7" height="1.7" fill="#ad1a40"/>
<rect x="203.88" y="341.22" width="1.7" height="1.7" fill="#ad1a40"/>
<rect x="205.68" y="342.77" width="1.7" height="1.7" fill="#ad1a40"/>
<rect x="190.05" y="346.75" width="1.7" height="1.7" fill="#ad1a40"/>
<rect x="183.68" y="346.75" width="1.7" height="1.7" fill="#ad1a40"/>
<rect x="182.51" y="349.65" width="1.7" height="1.7" fill="#ad1a40"/>
<rect x="181.43" y="351.33" width="1.7" height="1.7" fill="#ad1a40"/>
<rect x="189.42" y="352.55" width="1.7" height="1.7" fill="#ad1a40"/>
<rect x="188.89" y="355.38" width="1.7" height="1.7" fill="#ad1a40"/>
<rect x="190.05" y="357.20" width="1.7" height="1.7" fill="#ad1a40"/>
<rect x="190.68" y="359.42" width="1.7" height="1.7" fill="#ad1a40"/>
<rect x="181.97" y="356.59" width="1.7" height="1.7" fill="#ad1a40"/>
<rect x="182.51" y="360.64" width="1.7" height="1.7" fill="#ad1a40"/>
<rect x="180.80" y="362.93" width="1.7" height="1.7" fill="#ad1a40"/>
<rect x="180.17" y="365.22" width="1.7" height="1.7" fill="#ad1a40"/>
<rect x="179.64" y="368.72" width="1.7" height="1.7" fill="#ad1a40"/>
<rect x="187.72" y="361.78" width="1.7" height="1.7" fill="#ad1a40"/>
<rect x="187.18" y="365.22" width="1.7" height="1.7" fill="#ad1a40"/>
<rect x="188.89" y="365.22" width="1.7" height="1.7" fill="#ad1a40"/>
<rect x="195.80" y="365.82" width="1.7" height="1.7" fill="#ad1a40"/>
<rect x="192.39" y="367.51" width="1.7" height="1.7" fill="#ad1a40"/>
<rect x="186.55" y="371.01" width="1.7" height="1.7" fill="#ad1a40"/>
<rect x="188.89" y="372.23" width="1.7" height="1.7" fill="#ad1a40"/>
<rect x="199.30" y="372.23" width="1.7" height="1.7" fill="#ad1a40"/>
<rect x="177.84" y="376.81" width="1.7" height="1.7" fill="#ad1a40"/>
<rect x="180.17" y="376.27" width="1.7" height="1.7" fill="#ad1a40"/>
<rect x="188.35" y="377.96" width="1.7" height="1.7" fill="#ad1a40"/>
<rect x="194.63" y="376.81" width="1.7" height="1.7" fill="#ad1a40"/>
<rect x="184.84" y="380.86" width="1.7" height="1.7" fill="#ad1a40"/>
<rect x="183.68" y="383.69" width="1.7" height="1.7" fill="#ad1a40"/>
<rect x="186.01" y="384.90" width="1.7" height="1.7" fill="#ad1a40"/>
<rect x="190.05" y="383.69" width="1.7" height="1.7" fill="#ad1a40"/>
<rect x="191.22" y="386.04" width="1.7" height="1.7" fill="#ad1a40"/>
<rect x="179.10" y="382.54" width="1.7" height="1.7" fill="#ad1a40"/>
<rect x="180.17" y="387.19" width="1.7" height="1.7" fill="#ad1a40"/>
<rect x="181.97" y="388.40" width="1.7" height="1.7" fill="#ad1a40"/>
<rect x="183.68" y="389.48" width="1.7" height="1.7" fill="#ad1a40"/>
<rect x="179.10" y="391.23" width="1.7" height="1.7" fill="#ad1a40"/>
<rect x="181.43" y="392.92" width="1.7" height="1.7" fill="#ad1a40"/>
<rect x="177.30" y="395.28" width="1.7" height="1.7" fill="#ad1a40"/>
<rect x="182.51" y="394.13" width="1.7" height="1.7" fill="#ad1a40"/>
<rect x="184.13" y="354.03" width="1.7" height="1.7" fill="#ad1a40"/>
<rect x="185.92" y="358.75" width="1.7" height="1.7" fill="#ad1a40"/>
<rect x="180.53" y="372.90" width="1.7" height="1.7" fill="#ad1a40"/>
<rect x="185.02" y="374.92" width="1.7" height="1.7" fill="#ad1a40"/>
<rect x="178.74" y="379.64" width="1.7" height="1.7" fill="#ad1a40"/>
<rect x="186.82" y="368.86" width="1.7" height="1.7" fill="#ad1a40"/>
<rect x="191.31" y="349.99" width="1.7" height="1.7" fill="#ad1a40"/>
<rect x="194.90" y="344.59" width="1.7" height="1.7" fill="#ad1a40"/>
<rect x="201.19" y="341.90" width="1.7" height="1.7" fill="#ad1a40"/>
<rect x="193.11" y="341.22" width="1.7" height="1.7" fill="#ad1a40"/>
<rect x="180.78" y="394.64" width="1.7" height="1.7" fill="#ad1a40"/>
<rect x="178.59" y="398.19" width="1.7" height="1.7" fill="#ad1a40"/>
<rect x="181.45" y="400.44" width="1.7" height="1.7" fill="#ad1a40"/>
<rect x="180.26" y="401.91" width="1.7" height="1.7" fill="#ad1a40"/>
<rect x="179.59" y="394.96" width="1.7" height="1.7" fill="#ad1a40"/>
<rect x="182.96" y="396.64" width="1.7" height="1.7" fill="#ad1a40"/>
<rect x="180.81" y="400.31" width="1.7" height="1.7" fill="#ad1a40"/>
<rect x="186.36" y="395.10" width="1.7" height="1.7" fill="#ad1a40"/>
<rect x="184.38" y="398.87" width="1.7" height="1.7" fill="#ad1a40"/>
<rect x="180.93" y="401.40" width="1.7" height="1.7" fill="#ad1a40"/>
<rect x="183.53" y="393.97" width="1.7" height="1.7" fill="#ad1a40"/>
<rect x="176.32" y="396.63" width="1.7" height="1.7" fill="#ad1a40"/>
<rect x="183.13" y="401.24" width="1.7" height="1.7" fill="#ad1a40"/>
<rect x="176.51" y="399.36" width="1.7" height="1.7" fill="#ad1a40"/>
<rect x="219.36" y="368.71" width="2" height="2" fill="#2b4d8c"/>
<rect x="221.24" y="369.72" width="2" height="2" fill="#2b4d8c"/>
<rect x="219.90" y="372.08" width="2" height="2" fill="#2b4d8c"/>
<rect x="219.00" y="375.45" width="2" height="2" fill="#2b4d8c"/>
<rect x="220.79" y="376.46" width="2" height="2" fill="#2b4d8c"/>
<rect x="218.55" y="379.83" width="2" height="2" fill="#2b4d8c"/>
<rect x="220.34" y="382.39" width="2" height="2" fill="#2b4d8c"/>
<rect x="198.52" y="383.54" width="2" height="2" fill="#2b4d8c"/>
<rect x="199.69" y="385.29" width="2" height="2" fill="#2b4d8c"/>
<rect x="203.19" y="386.43" width="2" height="2" fill="#2b4d8c"/>
<rect x="194.48" y="395.13" width="2" height="2" fill="#2b4d8c"/>
<rect x="196.82" y="393.98" width="2" height="2" fill="#2b4d8c"/>
<rect x="194.48" y="399.71" width="2" height="2" fill="#2b4d8c"/>
<rect x="186.30" y="400.06" width="2" height="2" fill="#2b4d8c"/>
<rect x="179.59" y="402.11" width="2" height="2" fill="#2b4d8c"/>
<rect x="180.64" y="405.20" width="2" height="2" fill="#2b4d8c"/>
<rect x="183.67" y="401.28" width="2" height="2" fill="#2b4d8c"/>
<rect x="188.45" y="400.05" width="2" height="2" fill="#2b4d8c"/>
<rect x="184.88" y="398.26" width="2" height="2" fill="#2b4d8c"/>
<rect x="190.06" y="397.54" width="2" height="2" fill="#2b4d8c"/>
<rect x="182.72" y="401.17" width="2" height="2" fill="#2b4d8c"/>
<rect x="188.58" y="395.16" width="2" height="2" fill="#2b4d8c"/>
<rect x="188.54" y="396.45" width="2" height="2" fill="#2b4d8c"/>
<rect x="182.53" y="403.36" width="2" height="2" fill="#2b4d8c"/>
<rect x="185.42" y="399.82" width="2" height="2" fill="#2b4d8c"/>
<rect x="179.58" y="399.33" width="2" height="2" fill="#2b4d8c"/>
<rect x="181.45" y="401.63" width="2" height="2" fill="#2b4d8c"/>
<rect x="178.10" y="400.31" width="2" height="2" fill="#2b4d8c"/>
<rect x="186.14" y="400.12" width="2" height="2" fill="#2b4d8c"/>
<rect x="182.10" y="399.43" width="2" height="2" fill="#2b4d8c"/>
<rect x="180.51" y="403.71" width="2" height="2" fill="#2b4d8c"/>
<rect x="191.27" y="396.65" width="2" height="2" fill="#2b4d8c"/>
<rect x="186.48" y="405.16" width="2" height="2" fill="#2b4d8c"/>
<rect x="183.56" y="399.05" width="2" height="2" fill="#2b4d8c"/>
<rect x="191.18" y="394.16" width="2" height="2" fill="#2b4d8c"/>
<rect x="173.90" y="403.46" width="2" height="2" fill="#2b4d8c"/>
<rect x="180.66" y="404.95" width="2" height="2" fill="#2b4d8c"/>
<rect x="189.15" y="398.59" width="2" height="2" fill="#2b4d8c"/>
<rect x="189.26" y="397.06" width="2" height="2" fill="#2b4d8c"/>
<rect x="175.19" y="403.61" width="2" height="2" fill="#2b4d8c"/>
<rect x="183.12" y="400.08" width="2" height="2" fill="#2b4d8c"/>
<rect x="182.02" y="401.51" width="2" height="2" fill="#2b4d8c"/>
<rect x="188.43" y="399.06" width="2" height="2" fill="#2b4d8c"/>
<rect x="189.01" y="401.12" width="2" height="2" fill="#2b4d8c"/>
<rect x="179.97" y="400.15" width="2" height="2" fill="#2b4d8c"/>
<rect x="189.27" y="397.37" width="2" height="2" fill="#2b4d8c"/>
<rect x="183.34" y="399.95" width="2" height="2" fill="#2b4d8c"/>
<rect x="180.03" y="404.43" width="2" height="2" fill="#2b4d8c"/>
<rect x="190.30" y="395.23" width="2" height="2" fill="#2b4d8c"/>
<rect x="185.41" y="398.15" width="2" height="2" fill="#2b4d8c"/>
<rect x="193.76" y="399.12" width="2" height="2" fill="#2b4d8c"/>
<rect x="190.94" y="401.57" width="2" height="2" fill="#2b4d8c"/>
<rect x="184.95" y="400.32" width="2" height="2" fill="#2b4d8c"/>
<rect x="183.84" y="397.30" width="2" height="2" fill="#2b4d8c"/>
<rect x="186.20" y="398.35" width="2" height="2" fill="#2b4d8c"/>
<rect x="192.01" y="395.25" width="2" height="2" fill="#2b4d8c"/>
<rect x="181.19" y="398.04" width="2" height="2" fill="#2b4d8c"/>
<rect x="190.62" y="393.57" width="2" height="2" fill="#2b4d8c"/>
<rect x="179.55" y="402.24" width="2" height="2" fill="#2b4d8c"/>
<rect x="180.78" y="401.34" width="2" height="2" fill="#2b4d8c"/>
<rect x="188.25" y="397.01" width="2" height="2" fill="#2b4d8c"/>
<rect x="192.45" y="397.09" width="2" height="2" fill="#2b4d8c"/>
<rect x="179.93" y="401.90" width="2" height="2" fill="#2b4d8c"/>
<rect x="183.75" y="400.41" width="2" height="2" fill="#2b4d8c"/>
<rect x="176.75" y="403.63" width="2" height="2" fill="#2b4d8c"/>
<rect x="185.73" y="397.11" width="2" height="2" fill="#2b4d8c"/>
<rect x="183.23" y="398.59" width="2" height="2" fill="#2b4d8c"/>
<rect x="177.47" y="398.08" width="2" height="2" fill="#2b4d8c"/>
<rect x="176.10" y="402.88" width="2" height="2" fill="#2b4d8c"/>
<rect x="189.71" y="395.79" width="2" height="2" fill="#2b4d8c"/>
<rect x="178.99" y="400.62" width="2" height="2" fill="#2b4d8c"/>
<rect x="193.30" y="400.03" width="2" height="2" fill="#2b4d8c"/>
<rect x="181.58" y="402.95" width="2" height="2" fill="#2b4d8c"/>
<path d="M174.20,337 V408.80 H266.20" fill="none" stroke="#111" stroke-width="1.3"/>
<line x1="170.80" y1="408.80" x2="174.20" y2="408.80" stroke="#111" stroke-width="1.2"/>
<text x="167.20" y="411.70" font-size="8" text-anchor="end" fill="#111" font-weight="normal" >0</text>
<line x1="174.20" y1="408.80" x2="174.20" y2="411.40" stroke="#111" stroke-width="1.2"/>
<text x="174.20" y="422.60" font-size="8" text-anchor="middle" fill="#111" font-weight="normal" >0</text>
<line x1="170.80" y1="391.95" x2="174.20" y2="391.95" stroke="#111" stroke-width="1.2"/>
<text x="167.20" y="394.85" font-size="8" text-anchor="end" fill="#111" font-weight="normal" >25</text>
<line x1="196.65" y1="408.80" x2="196.65" y2="411.40" stroke="#111" stroke-width="1.2"/>
<text x="196.65" y="422.60" font-size="8" text-anchor="middle" fill="#111" font-weight="normal" >25</text>
<line x1="170.80" y1="375.10" x2="174.20" y2="375.10" stroke="#111" stroke-width="1.2"/>
<text x="167.20" y="378.00" font-size="8" text-anchor="end" fill="#111" font-weight="normal" >50</text>
<line x1="219.10" y1="408.80" x2="219.10" y2="411.40" stroke="#111" stroke-width="1.2"/>
<text x="219.10" y="422.60" font-size="8" text-anchor="middle" fill="#111" font-weight="normal" >50</text>
<line x1="170.80" y1="358.25" x2="174.20" y2="358.25" stroke="#111" stroke-width="1.2"/>
<text x="167.20" y="361.15" font-size="8" text-anchor="end" fill="#111" font-weight="normal" >75</text>
<line x1="241.55" y1="408.80" x2="241.55" y2="411.40" stroke="#111" stroke-width="1.2"/>
<text x="241.55" y="422.60" font-size="8" text-anchor="middle" fill="#111" font-weight="normal" >75</text>
<line x1="170.80" y1="341.40" x2="174.20" y2="341.40" stroke="#111" stroke-width="1.2"/>
<text x="167.20" y="344.30" font-size="8" text-anchor="end" fill="#111" font-weight="normal" >100</text>
<line x1="264.00" y1="408.80" x2="264.00" y2="411.40" stroke="#111" stroke-width="1.2"/>
<text x="264.00" y="422.60" font-size="8" text-anchor="middle" fill="#111" font-weight="normal" >100</text>
<line x1="295.80" y1="408.80" x2="386.60" y2="340.80" stroke="#1a1a1a" stroke-width="1.3"/>
<rect x="339.13" y="352.01" width="1.7" height="1.7" fill="#ad1a40"/>
<rect x="328.80" y="357.20" width="1.7" height="1.7" fill="#ad1a40"/>
<rect x="335.09" y="360.10" width="1.7" height="1.7" fill="#ad1a40"/>
<rect x="338.05" y="358.88" width="1.7" height="1.7" fill="#ad1a40"/>
<rect x="341.47" y="360.10" width="1.7" height="1.7" fill="#ad1a40"/>
<rect x="343.80" y="354.84" width="1.7" height="1.7" fill="#ad1a40"/>
<rect x="345.51" y="354.30" width="1.7" height="1.7" fill="#ad1a40"/>
<rect x="347.21" y="355.45" width="1.7" height="1.7" fill="#ad1a40"/>
<rect x="348.38" y="358.34" width="1.7" height="1.7" fill="#ad1a40"/>
<rect x="340.93" y="356.73" width="1.7" height="1.7" fill="#ad1a40"/>
<rect x="349.73" y="357.40" width="1.7" height="1.7" fill="#ad1a40"/>
<rect x="346.14" y="352.68" width="1.7" height="1.7" fill="#ad1a40"/>
<rect x="315.51" y="366.43" width="1.7" height="1.7" fill="#ad1a40"/>
<rect x="322.43" y="366.43" width="1.7" height="1.7" fill="#ad1a40"/>
<rect x="324.13" y="368.18" width="1.7" height="1.7" fill="#ad1a40"/>
<rect x="325.84" y="369.87" width="1.7" height="1.7" fill="#ad1a40"/>
<rect x="328.80" y="368.72" width="1.7" height="1.7" fill="#ad1a40"/>
<rect x="331.05" y="368.18" width="1.7" height="1.7" fill="#ad1a40"/>
<rect x="332.22" y="365.22" width="1.7" height="1.7" fill="#ad1a40"/>
<rect x="335.09" y="364.68" width="1.7" height="1.7" fill="#ad1a40"/>
<rect x="322.43" y="368.72" width="1.7" height="1.7" fill="#ad1a40"/>
<rect x="331.05" y="376.81" width="1.7" height="1.7" fill="#ad1a40"/>
<rect x="319.56" y="376.81" width="1.7" height="1.7" fill="#ad1a40"/>
<rect x="317.22" y="380.32" width="1.7" height="1.7" fill="#ad1a40"/>
<rect x="315.51" y="379.10" width="1.7" height="1.7" fill="#ad1a40"/>
<rect x="312.64" y="380.32" width="1.7" height="1.7" fill="#ad1a40"/>
<rect x="318.39" y="384.90" width="1.7" height="1.7" fill="#ad1a40"/>
<rect x="313.72" y="383.69" width="1.7" height="1.7" fill="#ad1a40"/>
<rect x="310.22" y="386.58" width="1.7" height="1.7" fill="#ad1a40"/>
<rect x="309.14" y="388.40" width="1.7" height="1.7" fill="#ad1a40"/>
<rect x="306.80" y="390.63" width="1.7" height="1.7" fill="#ad1a40"/>
<rect x="302.76" y="390.63" width="1.7" height="1.7" fill="#ad1a40"/>
<rect x="302.76" y="403.37" width="1.7" height="1.7" fill="#ad1a40"/>
<rect x="305.73" y="406.80" width="1.7" height="1.7" fill="#ad1a40"/>
<rect x="309.14" y="407.34" width="1.7" height="1.7" fill="#ad1a40"/>
<rect x="313.02" y="400.22" width="1.7" height="1.7" fill="#ad1a40"/>
<rect x="308.03" y="406.60" width="1.7" height="1.7" fill="#ad1a40"/>
<rect x="304.87" y="394.11" width="1.7" height="1.7" fill="#ad1a40"/>
<rect x="311.89" y="395.07" width="1.7" height="1.7" fill="#ad1a40"/>
<rect x="314.26" y="403.25" width="1.7" height="1.7" fill="#ad1a40"/>
<rect x="300.30" y="404.52" width="1.7" height="1.7" fill="#ad1a40"/>
<rect x="306.99" y="397.41" width="1.7" height="1.7" fill="#ad1a40"/>
<rect x="313.76" y="396.87" width="1.7" height="1.7" fill="#ad1a40"/>
<rect x="309.01" y="396.29" width="1.7" height="1.7" fill="#ad1a40"/>
<rect x="305.93" y="399.17" width="1.7" height="1.7" fill="#ad1a40"/>
<rect x="299.18" y="396.06" width="1.7" height="1.7" fill="#ad1a40"/>
<rect x="302.30" y="394.20" width="1.7" height="1.7" fill="#ad1a40"/>
<rect x="308.98" y="402.51" width="1.7" height="1.7" fill="#ad1a40"/>
<rect x="300.61" y="403.21" width="1.7" height="1.7" fill="#ad1a40"/>
<rect x="308.83" y="397.19" width="1.7" height="1.7" fill="#ad1a40"/>
<rect x="300.35" y="405.65" width="1.7" height="1.7" fill="#ad1a40"/>
<rect x="307.02" y="398.74" width="1.7" height="1.7" fill="#ad1a40"/>
<rect x="304.81" y="403.59" width="1.7" height="1.7" fill="#ad1a40"/>
<rect x="323.99" y="383.54" width="2" height="2" fill="#2b4d8c"/>
<rect x="327.40" y="383.54" width="2" height="2" fill="#2b4d8c"/>
<rect x="329.73" y="384.75" width="2" height="2" fill="#2b4d8c"/>
<rect x="333.77" y="382.39" width="2" height="2" fill="#2b4d8c"/>
<rect x="334.31" y="388.25" width="2" height="2" fill="#2b4d8c"/>
<rect x="337.81" y="388.25" width="2" height="2" fill="#2b4d8c"/>
<rect x="335.57" y="389.94" width="2" height="2" fill="#2b4d8c"/>
<rect x="328.65" y="386.43" width="2" height="2" fill="#2b4d8c"/>
<rect x="332.07" y="385.89" width="2" height="2" fill="#2b4d8c"/>
<rect x="323.45" y="397.42" width="2" height="2" fill="#2b4d8c"/>
<rect x="317.07" y="402.00" width="2" height="2" fill="#2b4d8c"/>
<rect x="314.55" y="396.06" width="2" height="2" fill="#2b4d8c"/>
<rect x="312.48" y="399.14" width="2" height="2" fill="#2b4d8c"/>
<rect x="317.24" y="391.73" width="2" height="2" fill="#2b4d8c"/>
<rect x="307.11" y="402.34" width="2" height="2" fill="#2b4d8c"/>
<rect x="307.64" y="400.17" width="2" height="2" fill="#2b4d8c"/>
<rect x="311.74" y="394.23" width="2" height="2" fill="#2b4d8c"/>
<rect x="315.69" y="395.98" width="2" height="2" fill="#2b4d8c"/>
<rect x="294.89" y="402.50" width="2" height="2" fill="#2b4d8c"/>
<rect x="315.89" y="390.99" width="2" height="2" fill="#2b4d8c"/>
<rect x="313.48" y="394.19" width="2" height="2" fill="#2b4d8c"/>
<rect x="319.63" y="386.68" width="2" height="2" fill="#2b4d8c"/>
<rect x="302.86" y="397.76" width="2" height="2" fill="#2b4d8c"/>
<rect x="307.15" y="401.55" width="2" height="2" fill="#2b4d8c"/>
<rect x="301.29" y="399.91" width="2" height="2" fill="#2b4d8c"/>
<rect x="315.30" y="395.66" width="2" height="2" fill="#2b4d8c"/>
<rect x="308.26" y="393.06" width="2" height="2" fill="#2b4d8c"/>
<rect x="300.57" y="402.73" width="2" height="2" fill="#2b4d8c"/>
<rect x="311.52" y="402.19" width="2" height="2" fill="#2b4d8c"/>
<rect x="322.72" y="394.32" width="2" height="2" fill="#2b4d8c"/>
<rect x="307.47" y="395.14" width="2" height="2" fill="#2b4d8c"/>
<rect x="320.36" y="393.34" width="2" height="2" fill="#2b4d8c"/>
<rect x="303.92" y="397.98" width="2" height="2" fill="#2b4d8c"/>
<rect x="302.80" y="402.56" width="2" height="2" fill="#2b4d8c"/>
<rect x="306.72" y="400.23" width="2" height="2" fill="#2b4d8c"/>
<rect x="322.46" y="388.67" width="2" height="2" fill="#2b4d8c"/>
<rect x="319.29" y="395.18" width="2" height="2" fill="#2b4d8c"/>
<rect x="321.52" y="389.37" width="2" height="2" fill="#2b4d8c"/>
<rect x="323.04" y="391.34" width="2" height="2" fill="#2b4d8c"/>
<rect x="317.66" y="393.74" width="2" height="2" fill="#2b4d8c"/>
<rect x="303.16" y="402.56" width="2" height="2" fill="#2b4d8c"/>
<rect x="302.51" y="406.34" width="2" height="2" fill="#2b4d8c"/>
<rect x="303.73" y="394.20" width="2" height="2" fill="#2b4d8c"/>
<rect x="311.94" y="392.22" width="2" height="2" fill="#2b4d8c"/>
<rect x="304.18" y="400.21" width="2" height="2" fill="#2b4d8c"/>
<rect x="319.91" y="395.58" width="2" height="2" fill="#2b4d8c"/>
<rect x="323.38" y="390.86" width="2" height="2" fill="#2b4d8c"/>
<rect x="316.01" y="399.63" width="2" height="2" fill="#2b4d8c"/>
<rect x="306.09" y="396.87" width="2" height="2" fill="#2b4d8c"/>
<rect x="310.79" y="398.44" width="2" height="2" fill="#2b4d8c"/>
<rect x="316.90" y="397.58" width="2" height="2" fill="#2b4d8c"/>
<rect x="314.33" y="394.96" width="2" height="2" fill="#2b4d8c"/>
<rect x="300.76" y="397.22" width="2" height="2" fill="#2b4d8c"/>
<rect x="299.53" y="400.20" width="2" height="2" fill="#2b4d8c"/>
<rect x="303.12" y="401.19" width="2" height="2" fill="#2b4d8c"/>
<rect x="306.55" y="391.04" width="2" height="2" fill="#2b4d8c"/>
<rect x="321.96" y="392.15" width="2" height="2" fill="#2b4d8c"/>
<rect x="301.00" y="402.28" width="2" height="2" fill="#2b4d8c"/>
<rect x="312.65" y="394.02" width="2" height="2" fill="#2b4d8c"/>
<rect x="303.50" y="401.35" width="2" height="2" fill="#2b4d8c"/>
<rect x="318.51" y="396.87" width="2" height="2" fill="#2b4d8c"/>
<rect x="300.38" y="404.96" width="2" height="2" fill="#2b4d8c"/>
<rect x="307.38" y="393.93" width="2" height="2" fill="#2b4d8c"/>
<rect x="301.10" y="400.38" width="2" height="2" fill="#2b4d8c"/>
<rect x="302.91" y="404.89" width="2" height="2" fill="#2b4d8c"/>
<rect x="296.69" y="395.78" width="2" height="2" fill="#2b4d8c"/>
<rect x="310.03" y="393.32" width="2" height="2" fill="#2b4d8c"/>
<rect x="314.76" y="395.48" width="2" height="2" fill="#2b4d8c"/>
<rect x="311.02" y="402.17" width="2" height="2" fill="#2b4d8c"/>
<rect x="322.87" y="391.05" width="2" height="2" fill="#2b4d8c"/>
<rect x="302.04" y="397.45" width="2" height="2" fill="#2b4d8c"/>
<rect x="314.15" y="397.42" width="2" height="2" fill="#2b4d8c"/>
<rect x="316.72" y="391.69" width="2" height="2" fill="#2b4d8c"/>
<rect x="318.05" y="393.94" width="2" height="2" fill="#2b4d8c"/>
<rect x="310.15" y="397.40" width="2" height="2" fill="#2b4d8c"/>
<rect x="306.97" y="398.40" width="2" height="2" fill="#2b4d8c"/>
<rect x="298.86" y="403.33" width="2" height="2" fill="#2b4d8c"/>
<rect x="303.97" y="401.94" width="2" height="2" fill="#2b4d8c"/>
<rect x="315.05" y="393.17" width="2" height="2" fill="#2b4d8c"/>
<rect x="302.29" y="404.94" width="2" height="2" fill="#2b4d8c"/>
<rect x="299.94" y="402.76" width="2" height="2" fill="#2b4d8c"/>
<rect x="309.64" y="397.74" width="2" height="2" fill="#2b4d8c"/>
<rect x="299.02" y="404.96" width="2" height="2" fill="#2b4d8c"/>
<rect x="300.58" y="395.44" width="2" height="2" fill="#2b4d8c"/>
<rect x="301.41" y="401.37" width="2" height="2" fill="#2b4d8c"/>
<rect x="313.89" y="404.92" width="2" height="2" fill="#2b4d8c"/>
<rect x="307.15" y="396.11" width="2" height="2" fill="#2b4d8c"/>
<rect x="307.95" y="401.90" width="2" height="2" fill="#2b4d8c"/>
<rect x="308.49" y="401.00" width="2" height="2" fill="#2b4d8c"/>
<rect x="317.67" y="391.67" width="2" height="2" fill="#2b4d8c"/>
<rect x="323.92" y="389.87" width="2" height="2" fill="#2b4d8c"/>
<rect x="303.92" y="399.64" width="2" height="2" fill="#2b4d8c"/>
<rect x="296.23" y="401.62" width="2" height="2" fill="#2b4d8c"/>
<rect x="322.28" y="389.61" width="2" height="2" fill="#2b4d8c"/>
<rect x="324.67" y="391.53" width="2" height="2" fill="#2b4d8c"/>
<rect x="299.92" y="405.36" width="2" height="2" fill="#2b4d8c"/>
<rect x="315.79" y="394.72" width="2" height="2" fill="#2b4d8c"/>
<rect x="300.51" y="404.36" width="2" height="2" fill="#2b4d8c"/>
<rect x="309.96" y="402.75" width="2" height="2" fill="#2b4d8c"/>
<rect x="301.26" y="400.06" width="2" height="2" fill="#2b4d8c"/>
<rect x="308.45" y="396.62" width="2" height="2" fill="#2b4d8c"/>
<rect x="301.30" y="406.41" width="2" height="2" fill="#2b4d8c"/>
<rect x="310.31" y="400.51" width="2" height="2" fill="#2b4d8c"/>
<rect x="306.47" y="399.28" width="2" height="2" fill="#2b4d8c"/>
<rect x="295.99" y="402.91" width="2" height="2" fill="#2b4d8c"/>
<rect x="300.36" y="399.09" width="2" height="2" fill="#2b4d8c"/>
<rect x="297.88" y="403.14" width="2" height="2" fill="#2b4d8c"/>
<rect x="299.34" y="404.20" width="2" height="2" fill="#2b4d8c"/>
<rect x="301.08" y="401.51" width="2" height="2" fill="#2b4d8c"/>
<rect x="298.16" y="403.86" width="2" height="2" fill="#2b4d8c"/>
<rect x="302.69" y="397.18" width="2" height="2" fill="#2b4d8c"/>
<rect x="302.91" y="404.67" width="2" height="2" fill="#2b4d8c"/>
<rect x="304.16" y="398.98" width="2" height="2" fill="#2b4d8c"/>
<rect x="303.83" y="400.85" width="2" height="2" fill="#2b4d8c"/>
<rect x="300.20" y="401.23" width="2" height="2" fill="#2b4d8c"/>
<rect x="296.97" y="400.59" width="2" height="2" fill="#2b4d8c"/>
<rect x="308.16" y="400.76" width="2" height="2" fill="#2b4d8c"/>
<rect x="308.33" y="399.57" width="2" height="2" fill="#2b4d8c"/>
<rect x="302.91" y="404.91" width="2" height="2" fill="#2b4d8c"/>
<rect x="306.99" y="400.67" width="2" height="2" fill="#2b4d8c"/>
<rect x="307.79" y="397.72" width="2" height="2" fill="#2b4d8c"/>
<rect x="309.27" y="401.84" width="2" height="2" fill="#2b4d8c"/>
<rect x="303.15" y="403.36" width="2" height="2" fill="#2b4d8c"/>
<rect x="307.17" y="402.09" width="2" height="2" fill="#2b4d8c"/>
<rect x="311.61" y="403.35" width="2" height="2" fill="#2b4d8c"/>
<rect x="306.01" y="397.64" width="2" height="2" fill="#2b4d8c"/>
<rect x="303.48" y="402.15" width="2" height="2" fill="#2b4d8c"/>
<rect x="297.52" y="398.08" width="2" height="2" fill="#2b4d8c"/>
<rect x="307.17" y="396.91" width="2" height="2" fill="#2b4d8c"/>
<rect x="300.69" y="396.84" width="2" height="2" fill="#2b4d8c"/>
<rect x="305.27" y="399.24" width="2" height="2" fill="#2b4d8c"/>
<path d="M295.80,337 V408.80 H387.80" fill="none" stroke="#111" stroke-width="1.3"/>
<line x1="292.40" y1="408.80" x2="295.80" y2="408.80" stroke="#111" stroke-width="1.2"/>
<text x="288.80" y="411.70" font-size="8" text-anchor="end" fill="#111" font-weight="normal" >0</text>
<line x1="295.80" y1="408.80" x2="295.80" y2="411.40" stroke="#111" stroke-width="1.2"/>
<text x="295.80" y="422.60" font-size="8" text-anchor="middle" fill="#111" font-weight="normal" >0</text>
<line x1="292.40" y1="391.95" x2="295.80" y2="391.95" stroke="#111" stroke-width="1.2"/>
<text x="288.80" y="394.85" font-size="8" text-anchor="end" fill="#111" font-weight="normal" >25</text>
<line x1="318.25" y1="408.80" x2="318.25" y2="411.40" stroke="#111" stroke-width="1.2"/>
<text x="318.25" y="422.60" font-size="8" text-anchor="middle" fill="#111" font-weight="normal" >25</text>
<line x1="292.40" y1="375.10" x2="295.80" y2="375.10" stroke="#111" stroke-width="1.2"/>
<text x="288.80" y="378.00" font-size="8" text-anchor="end" fill="#111" font-weight="normal" >50</text>
<line x1="340.70" y1="408.80" x2="340.70" y2="411.40" stroke="#111" stroke-width="1.2"/>
<text x="340.70" y="422.60" font-size="8" text-anchor="middle" fill="#111" font-weight="normal" >50</text>
<line x1="292.40" y1="358.25" x2="295.80" y2="358.25" stroke="#111" stroke-width="1.2"/>
<text x="288.80" y="361.15" font-size="8" text-anchor="end" fill="#111" font-weight="normal" >75</text>
<line x1="363.15" y1="408.80" x2="363.15" y2="411.40" stroke="#111" stroke-width="1.2"/>
<text x="363.15" y="422.60" font-size="8" text-anchor="middle" fill="#111" font-weight="normal" >75</text>
<line x1="292.40" y1="341.40" x2="295.80" y2="341.40" stroke="#111" stroke-width="1.2"/>
<text x="288.80" y="344.30" font-size="8" text-anchor="end" fill="#111" font-weight="normal" >100</text>
<line x1="385.60" y1="408.80" x2="385.60" y2="411.40" stroke="#111" stroke-width="1.2"/>
<text x="385.60" y="422.60" font-size="8" text-anchor="middle" fill="#111" font-weight="normal" >100</text>
<line x1="416.80" y1="408.80" x2="507.60" y2="340.80" stroke="#1a1a1a" stroke-width="1.3"/>
<rect x="420.89" y="390.63" width="1.7" height="1.7" fill="#ad1a40"/>
<rect x="427.80" y="396.96" width="1.7" height="1.7" fill="#ad1a40"/>
<rect x="429.60" y="397.57" width="1.7" height="1.7" fill="#ad1a40"/>
<rect x="427.26" y="387.73" width="1.7" height="1.7" fill="#ad1a40"/>
<rect x="428.97" y="381.39" width="1.7" height="1.7" fill="#ad1a40"/>
<rect x="431.84" y="377.96" width="1.7" height="1.7" fill="#ad1a40"/>
<rect x="430.68" y="375.06" width="1.7" height="1.7" fill="#ad1a40"/>
<rect x="438.76" y="364.14" width="1.7" height="1.7" fill="#ad1a40"/>
<rect x="441.72" y="367.51" width="1.7" height="1.7" fill="#ad1a40"/>
<rect x="445.22" y="368.72" width="1.7" height="1.7" fill="#ad1a40"/>
<rect x="448.64" y="363.47" width="1.7" height="1.7" fill="#ad1a40"/>
<rect x="447.47" y="356.59" width="1.7" height="1.7" fill="#ad1a40"/>
<rect x="438.22" y="373.91" width="1.7" height="1.7" fill="#ad1a40"/>
<rect x="439.93" y="375.06" width="1.7" height="1.7" fill="#ad1a40"/>
<rect x="438.76" y="382.54" width="1.7" height="1.7" fill="#ad1a40"/>
<rect x="439.93" y="383.15" width="1.7" height="1.7" fill="#ad1a40"/>
<rect x="445.76" y="374.45" width="1.7" height="1.7" fill="#ad1a40"/>
<rect x="448.64" y="376.81" width="1.7" height="1.7" fill="#ad1a40"/>
<rect x="437.05" y="389.48" width="1.7" height="1.7" fill="#ad1a40"/>
<rect x="445.76" y="393.53" width="1.7" height="1.7" fill="#ad1a40"/>
<rect x="438.22" y="400.47" width="1.7" height="1.7" fill="#ad1a40"/>
<rect x="427.80" y="404.51" width="1.7" height="1.7" fill="#ad1a40"/>
<rect x="453.85" y="364.68" width="1.7" height="1.7" fill="#ad1a40"/>
<rect x="455.55" y="362.39" width="1.7" height="1.7" fill="#ad1a40"/>
<rect x="456.72" y="359.49" width="1.7" height="1.7" fill="#ad1a40"/>
<rect x="459.05" y="360.10" width="1.7" height="1.7" fill="#ad1a40"/>
<rect x="457.89" y="363.53" width="1.7" height="1.7" fill="#ad1a40"/>
<rect x="460.85" y="357.74" width="1.7" height="1.7" fill="#ad1a40"/>
<rect x="462.47" y="360.64" width="1.7" height="1.7" fill="#ad1a40"/>
<rect x="463.63" y="354.84" width="1.7" height="1.7" fill="#ad1a40"/>
<rect x="465.97" y="353.69" width="1.7" height="1.7" fill="#ad1a40"/>
<rect x="467.14" y="350.26" width="1.7" height="1.7" fill="#ad1a40"/>
<rect x="462.47" y="348.50" width="1.7" height="1.7" fill="#ad1a40"/>
<rect x="465.97" y="346.75" width="1.7" height="1.7" fill="#ad1a40"/>
<rect x="470.55" y="347.29" width="1.7" height="1.7" fill="#ad1a40"/>
<rect x="472.88" y="349.11" width="1.7" height="1.7" fill="#ad1a40"/>
<rect x="475.22" y="349.11" width="1.7" height="1.7" fill="#ad1a40"/>
<rect x="469.38" y="356.05" width="1.7" height="1.7" fill="#ad1a40"/>
<rect x="471.72" y="358.88" width="1.7" height="1.7" fill="#ad1a40"/>
<rect x="464.80" y="365.22" width="1.7" height="1.7" fill="#ad1a40"/>
<rect x="465.97" y="364.14" width="1.7" height="1.7" fill="#ad1a40"/>
<rect x="460.85" y="365.22" width="1.7" height="1.7" fill="#ad1a40"/>
<rect x="463.63" y="367.51" width="1.7" height="1.7" fill="#ad1a40"/>
<rect x="454.38" y="371.01" width="1.7" height="1.7" fill="#ad1a40"/>
<rect x="456.72" y="371.62" width="1.7" height="1.7" fill="#ad1a40"/>
<rect x="460.22" y="371.01" width="1.7" height="1.7" fill="#ad1a40"/>
<rect x="462.11" y="348.50" width="1.7" height="1.7" fill="#ad1a40"/>
<rect x="466.78" y="346.75" width="1.7" height="1.7" fill="#ad1a40"/>
<rect x="470.19" y="347.96" width="1.7" height="1.7" fill="#ad1a40"/>
<rect x="472.52" y="349.11" width="1.7" height="1.7" fill="#ad1a40"/>
<rect x="476.56" y="345.07" width="1.7" height="1.7" fill="#ad1a40"/>
<rect x="479.98" y="343.31" width="1.7" height="1.7" fill="#ad1a40"/>
<rect x="482.94" y="345.07" width="1.7" height="1.7" fill="#ad1a40"/>
<rect x="485.19" y="346.75" width="1.7" height="1.7" fill="#ad1a40"/>
<rect x="488.69" y="344.46" width="1.7" height="1.7" fill="#ad1a40"/>
<rect x="490.93" y="345.07" width="1.7" height="1.7" fill="#ad1a40"/>
<rect x="493.27" y="343.85" width="1.7" height="1.7" fill="#ad1a40"/>
<rect x="496.77" y="342.77" width="1.7" height="1.7" fill="#ad1a40"/>
<rect x="498.48" y="343.31" width="1.7" height="1.7" fill="#ad1a40"/>
<rect x="465.61" y="351.40" width="1.7" height="1.7" fill="#ad1a40"/>
<rect x="469.02" y="352.55" width="1.7" height="1.7" fill="#ad1a40"/>
<rect x="471.36" y="353.69" width="1.7" height="1.7" fill="#ad1a40"/>
<rect x="475.40" y="350.26" width="1.7" height="1.7" fill="#ad1a40"/>
<rect x="478.27" y="349.11" width="1.7" height="1.7" fill="#ad1a40"/>
<rect x="479.98" y="351.40" width="1.7" height="1.7" fill="#ad1a40"/>
<rect x="475.94" y="354.30" width="1.7" height="1.7" fill="#ad1a40"/>
<rect x="479.44" y="356.05" width="1.7" height="1.7" fill="#ad1a40"/>
<rect x="457.53" y="357.20" width="1.7" height="1.7" fill="#ad1a40"/>
<rect x="459.77" y="360.64" width="1.7" height="1.7" fill="#ad1a40"/>
<rect x="462.11" y="364.14" width="1.7" height="1.7" fill="#ad1a40"/>
<rect x="464.44" y="365.22" width="1.7" height="1.7" fill="#ad1a40"/>
<rect x="466.78" y="364.14" width="1.7" height="1.7" fill="#ad1a40"/>
<rect x="460.40" y="356.05" width="1.7" height="1.7" fill="#ad1a40"/>
<rect x="463.27" y="358.34" width="1.7" height="1.7" fill="#ad1a40"/>
<rect x="467.85" y="356.59" width="1.7" height="1.7" fill="#ad1a40"/>
<rect x="470.19" y="358.88" width="1.7" height="1.7" fill="#ad1a40"/>
<rect x="471.36" y="360.64" width="1.7" height="1.7" fill="#ad1a40"/>
<rect x="457.53" y="371.01" width="1.7" height="1.7" fill="#ad1a40"/>
<rect x="460.94" y="372.23" width="1.7" height="1.7" fill="#ad1a40"/>
<rect x="458.69" y="375.60" width="1.7" height="1.7" fill="#ad1a40"/>
<rect x="481.50" y="347.96" width="1.7" height="1.7" fill="#ad1a40"/>
<rect x="486.89" y="345.94" width="1.7" height="1.7" fill="#ad1a40"/>
<rect x="494.97" y="344.59" width="1.7" height="1.7" fill="#ad1a40"/>
<rect x="483.30" y="343.25" width="1.7" height="1.7" fill="#ad1a40"/>
<rect x="477.01" y="347.29" width="1.7" height="1.7" fill="#ad1a40"/>
<rect x="458.28" y="374.91" width="2" height="2" fill="#2b4d8c"/>
<rect x="461.15" y="377.81" width="2" height="2" fill="#2b4d8c"/>
<rect x="462.86" y="380.71" width="2" height="2" fill="#2b4d8c"/>
<rect x="457.74" y="382.39" width="2" height="2" fill="#2b4d8c"/>
<rect x="455.94" y="383.00" width="2" height="2" fill="#2b4d8c"/>
<rect x="454.77" y="385.89" width="2" height="2" fill="#2b4d8c"/>
<rect x="457.74" y="387.04" width="2" height="2" fill="#2b4d8c"/>
<rect x="458.90" y="389.33" width="2" height="2" fill="#2b4d8c"/>
<rect x="457.74" y="391.62" width="2" height="2" fill="#2b4d8c"/>
<rect x="456.57" y="388.25" width="2" height="2" fill="#2b4d8c"/>
<rect x="457.38" y="384.75" width="2" height="2" fill="#2b4d8c"/>
<rect x="457.92" y="388.25" width="2" height="2" fill="#2b4d8c"/>
<rect x="457.92" y="390.48" width="2" height="2" fill="#2b4d8c"/>
<rect x="461.96" y="380.17" width="2" height="2" fill="#2b4d8c"/>
<rect x="473.54" y="374.30" width="2" height="2" fill="#2b4d8c"/>
<rect x="476.86" y="369.72" width="2" height="2" fill="#2b4d8c"/>
<rect x="475.79" y="367.36" width="2" height="2" fill="#2b4d8c"/>
<rect x="494.61" y="348.57" width="2" height="2" fill="#2b4d8c"/>
<rect x="486.18" y="356.71" width="2" height="2" fill="#2b4d8c"/>
<rect x="482.75" y="359.33" width="2" height="2" fill="#2b4d8c"/>
<rect x="490.63" y="354.75" width="2" height="2" fill="#2b4d8c"/>
<rect x="493.49" y="350.83" width="2" height="2" fill="#2b4d8c"/>
<rect x="486.31" y="352.12" width="2" height="2" fill="#2b4d8c"/>
<rect x="483.75" y="358.03" width="2" height="2" fill="#2b4d8c"/>
<rect x="481.62" y="364.29" width="2" height="2" fill="#2b4d8c"/>
<rect x="484.76" y="360.42" width="2" height="2" fill="#2b4d8c"/>
<rect x="493.89" y="349.43" width="2" height="2" fill="#2b4d8c"/>
<rect x="490.13" y="352.22" width="2" height="2" fill="#2b4d8c"/>
<rect x="494.38" y="352.01" width="2" height="2" fill="#2b4d8c"/>
<rect x="478.00" y="365.44" width="2" height="2" fill="#2b4d8c"/>
<rect x="487.03" y="357.04" width="2" height="2" fill="#2b4d8c"/>
<rect x="478.00" y="365.77" width="2" height="2" fill="#2b4d8c"/>
<rect x="486.32" y="354.35" width="2" height="2" fill="#2b4d8c"/>
<rect x="494.71" y="349.39" width="2" height="2" fill="#2b4d8c"/>
<rect x="489.32" y="354.55" width="2" height="2" fill="#2b4d8c"/>
<rect x="485.02" y="358.77" width="2" height="2" fill="#2b4d8c"/>
<rect x="478.81" y="363.25" width="2" height="2" fill="#2b4d8c"/>
<rect x="479.12" y="363.83" width="2" height="2" fill="#2b4d8c"/>
<rect x="480.77" y="364.16" width="2" height="2" fill="#2b4d8c"/>
<rect x="482.00" y="361.98" width="2" height="2" fill="#2b4d8c"/>
<rect x="493.70" y="352.48" width="2" height="2" fill="#2b4d8c"/>
<rect x="484.68" y="361.20" width="2" height="2" fill="#2b4d8c"/>
<rect x="485.79" y="354.12" width="2" height="2" fill="#2b4d8c"/>
<rect x="488.20" y="359.33" width="2" height="2" fill="#2b4d8c"/>
<rect x="482.04" y="361.96" width="2" height="2" fill="#2b4d8c"/>
<rect x="485.68" y="355.98" width="2" height="2" fill="#2b4d8c"/>
<rect x="478.02" y="365.26" width="2" height="2" fill="#2b4d8c"/>
<rect x="488.27" y="356.71" width="2" height="2" fill="#2b4d8c"/>
<rect x="478.80" y="363.82" width="2" height="2" fill="#2b4d8c"/>
<rect x="489.44" y="355.77" width="2" height="2" fill="#2b4d8c"/>
<rect x="482.50" y="360.07" width="2" height="2" fill="#2b4d8c"/>
<rect x="494.28" y="353.15" width="2" height="2" fill="#2b4d8c"/>
<rect x="478.81" y="368.30" width="2" height="2" fill="#2b4d8c"/>
<rect x="485.53" y="359.78" width="2" height="2" fill="#2b4d8c"/>
<rect x="482.26" y="361.27" width="2" height="2" fill="#2b4d8c"/>
<rect x="475.91" y="362.83" width="2" height="2" fill="#2b4d8c"/>
<rect x="491.73" y="356.11" width="2" height="2" fill="#2b4d8c"/>
<rect x="479.89" y="361.97" width="2" height="2" fill="#2b4d8c"/>
<rect x="490.20" y="352.40" width="2" height="2" fill="#2b4d8c"/>
<rect x="490.32" y="355.03" width="2" height="2" fill="#2b4d8c"/>
<rect x="494.99" y="350.46" width="2" height="2" fill="#2b4d8c"/>
<rect x="481.13" y="366.09" width="2" height="2" fill="#2b4d8c"/>
<rect x="489.04" y="349.74" width="2" height="2" fill="#2b4d8c"/>
<rect x="483.35" y="356.44" width="2" height="2" fill="#2b4d8c"/>
<rect x="487.73" y="357.39" width="2" height="2" fill="#2b4d8c"/>
<rect x="491.62" y="348.22" width="2" height="2" fill="#2b4d8c"/>
<rect x="491.34" y="355.25" width="2" height="2" fill="#2b4d8c"/>
<rect x="489.00" y="353.96" width="2" height="2" fill="#2b4d8c"/>
<rect x="480.29" y="362.79" width="2" height="2" fill="#2b4d8c"/>
<rect x="494.32" y="349.73" width="2" height="2" fill="#2b4d8c"/>
<rect x="480.51" y="364.84" width="2" height="2" fill="#2b4d8c"/>
<rect x="480.11" y="363.43" width="2" height="2" fill="#2b4d8c"/>
<rect x="487.89" y="355.89" width="2" height="2" fill="#2b4d8c"/>
<rect x="493.18" y="352.16" width="2" height="2" fill="#2b4d8c"/>
<rect x="485.22" y="362.60" width="2" height="2" fill="#2b4d8c"/>
<rect x="497.31" y="348.97" width="2" height="2" fill="#2b4d8c"/>
<rect x="494.99" y="350.27" width="2" height="2" fill="#2b4d8c"/>
<rect x="481.14" y="362.11" width="2" height="2" fill="#2b4d8c"/>
<rect x="493.91" y="353.46" width="2" height="2" fill="#2b4d8c"/>
<rect x="491.32" y="352.61" width="2" height="2" fill="#2b4d8c"/>
<rect x="481.46" y="362.56" width="2" height="2" fill="#2b4d8c"/>
<rect x="479.86" y="360.75" width="2" height="2" fill="#2b4d8c"/>
<path d="M416.80,337 V408.80 H508.80" fill="none" stroke="#111" stroke-width="1.3"/>
<line x1="413.40" y1="408.80" x2="416.80" y2="408.80" stroke="#111" stroke-width="1.2"/>
<text x="409.80" y="411.70" font-size="8" text-anchor="end" fill="#111" font-weight="normal" >0</text>
<line x1="416.80" y1="408.80" x2="416.80" y2="411.40" stroke="#111" stroke-width="1.2"/>
<text x="416.80" y="422.60" font-size="8" text-anchor="middle" fill="#111" font-weight="normal" >0</text>
<line x1="413.40" y1="391.95" x2="416.80" y2="391.95" stroke="#111" stroke-width="1.2"/>
<text x="409.80" y="394.85" font-size="8" text-anchor="end" fill="#111" font-weight="normal" >25</text>
<line x1="439.25" y1="408.80" x2="439.25" y2="411.40" stroke="#111" stroke-width="1.2"/>
<text x="439.25" y="422.60" font-size="8" text-anchor="middle" fill="#111" font-weight="normal" >25</text>
<line x1="413.40" y1="375.10" x2="416.80" y2="375.10" stroke="#111" stroke-width="1.2"/>
<text x="409.80" y="378.00" font-size="8" text-anchor="end" fill="#111" font-weight="normal" >50</text>
<line x1="461.70" y1="408.80" x2="461.70" y2="411.40" stroke="#111" stroke-width="1.2"/>
<text x="461.70" y="422.60" font-size="8" text-anchor="middle" fill="#111" font-weight="normal" >50</text>
<line x1="413.40" y1="358.25" x2="416.80" y2="358.25" stroke="#111" stroke-width="1.2"/>
<text x="409.80" y="361.15" font-size="8" text-anchor="end" fill="#111" font-weight="normal" >75</text>
<line x1="484.15" y1="408.80" x2="484.15" y2="411.40" stroke="#111" stroke-width="1.2"/>
<text x="484.15" y="422.60" font-size="8" text-anchor="middle" fill="#111" font-weight="normal" >75</text>
<line x1="413.40" y1="341.40" x2="416.80" y2="341.40" stroke="#111" stroke-width="1.2"/>
<text x="409.80" y="344.30" font-size="8" text-anchor="end" fill="#111" font-weight="normal" >100</text>
<line x1="506.60" y1="408.80" x2="506.60" y2="411.40" stroke="#111" stroke-width="1.2"/>
<text x="506.60" y="422.60" font-size="8" text-anchor="middle" fill="#111" font-weight="normal" >100</text>
<text x="119.20" y="345.40" font-size="9.5" text-anchor="middle" fill="#111" font-weight="normal" >LY1</text>
<text x="230.00" y="345.40" font-size="9.5" text-anchor="middle" fill="#111" font-weight="normal" >Jeko-1</text>
<text x="317.20" y="345.40" font-size="9.5" text-anchor="middle" fill="#111" font-weight="normal" >HH</text>
<text x="436.90" y="345.40" font-size="9.5" text-anchor="middle" fill="#111" font-weight="normal" >MM.1s</text>
<line x1="110.70" y1="347.2" x2="127.70" y2="347.2" stroke="#1a1a1a" stroke-width="0.8"/>
<line x1="215.35" y1="347.2" x2="244.65" y2="347.2" stroke="#1a1a1a" stroke-width="0.8"/>
<line x1="309.95" y1="347.2" x2="324.45" y2="347.2" stroke="#1a1a1a" stroke-width="0.8"/>
<line x1="422.50" y1="347.2" x2="451.30" y2="347.2" stroke="#1a1a1a" stroke-width="0.8"/>
<text x="0" y="0" font-size="9" text-anchor="middle" fill="#1a1a1a" transform="translate(28,372.5) rotate(-90)">Obs. inhibit. (%)</text>
<text x="235.00" y="436.00" font-size="9" text-anchor="start" fill="#111" font-weight="normal" >Exp. inhibit. (%)</text>
<circle cx="223.1" cy="329.2" r="2.8" fill="#2b4d8c"/>
<text x="228.00" y="332.10" font-size="8" text-anchor="start" fill="#111" font-weight="normal" >Bz + Ide</text>
<path d="M276.5,325.9 L279.7,332 L273.3,332 Z" fill="#ad1a40"/>
<text x="281.50" y="332.10" font-size="8" text-anchor="start" fill="#111" font-weight="normal" >Cfz + TG</text>
<text x="7.50" y="451.50" font-size="12" text-anchor="start" fill="#000" font-weight="bold" >C</text>
<path d="M52.50,447.50 V511.00 H153.00" fill="none" stroke="#111" stroke-width="1.4"/>
<line x1="49.10" y1="511.00" x2="52.50" y2="511.00" stroke="#111" stroke-width="1.2"/>
<text x="46.30" y="513.90" font-size="8" text-anchor="end" fill="#111" font-weight="normal" >0</text>
<line x1="49.10" y1="496.38" x2="52.50" y2="496.38" stroke="#111" stroke-width="1.2"/>
<text x="46.30" y="499.27" font-size="8" text-anchor="end" fill="#111" font-weight="normal" >25</text>
<line x1="49.10" y1="481.75" x2="52.50" y2="481.75" stroke="#111" stroke-width="1.2"/>
<text x="46.30" y="484.65" font-size="8" text-anchor="end" fill="#111" font-weight="normal" >50</text>
<line x1="49.10" y1="467.12" x2="52.50" y2="467.12" stroke="#111" stroke-width="1.2"/>
<text x="46.30" y="470.02" font-size="8" text-anchor="end" fill="#111" font-weight="normal" >75</text>
<line x1="49.10" y1="452.50" x2="52.50" y2="452.50" stroke="#111" stroke-width="1.2"/>
<text x="46.30" y="455.40" font-size="8" text-anchor="end" fill="#111" font-weight="normal" >100</text>
<line x1="60.70" y1="511.00" x2="60.70" y2="513.80" stroke="#111" stroke-width="1.2"/>
<text x="60.70" y="525.00" font-size="8" text-anchor="middle" fill="#111" font-weight="normal" >2.5</text>
<line x1="104.10" y1="511.00" x2="104.10" y2="513.80" stroke="#111" stroke-width="1.2"/>
<text x="104.10" y="525.00" font-size="8" text-anchor="middle" fill="#111" font-weight="normal" >5.0</text>
<line x1="147.50" y1="511.00" x2="147.50" y2="513.80" stroke="#111" stroke-width="1.2"/>
<text x="147.50" y="525.00" font-size="8" text-anchor="middle" fill="#111" font-weight="normal" >7.5</text>
<text x="93.00" y="449.60" font-size="9.8" text-anchor="middle" fill="#111" font-weight="normal" >SLL</text>
<line x1="84.35" y1="450.80" x2="101.65" y2="450.80" stroke="#1a1a1a" stroke-width="0.8"/>
<path d="M60.70,469.47 L104.10,482.92 L147.50,501.06" fill="none" stroke="#1f3d7a" stroke-width="1.8" stroke-linejoin="round"/>
<path d="M60.70,466.87 L63.30,469.47 L60.70,472.07 L58.10,469.47 Z" fill="#1f3d7a"/>
<path d="M104.10,480.32 L106.70,482.92 L104.10,485.52 L101.50,482.92 Z" fill="#1f3d7a"/>
<path d="M147.50,498.45 L150.10,501.06 L147.50,503.66 L144.90,501.06 Z" fill="#1f3d7a"/>
<path d="M60.70,470.63 L104.10,488.77 L147.50,502.23" fill="none" stroke="#1f3d7a" stroke-width="1.8" stroke-linejoin="round"/>
<path d="M60.70,467.83 L63.40,472.63 L58.00,472.63 Z" fill="#1f3d7a"/>
<path d="M104.10,485.97 L106.80,490.77 L101.40,490.77 Z" fill="#1f3d7a"/>
<path d="M147.50,499.43 L150.20,504.23 L144.80,504.23 Z" fill="#1f3d7a"/>
<path d="M60.70,471.81 L104.10,491.69 L147.50,503.39" fill="none" stroke="#1f3d7a" stroke-width="1.8" stroke-linejoin="round"/>
<circle cx="60.70" cy="471.81" r="2.2" fill="#1f3d7a"/>
<circle cx="104.10" cy="491.69" r="2.2" fill="#1f3d7a"/>
<circle cx="147.50" cy="503.39" r="2.2" fill="#1f3d7a"/>
<path d="M60.70,456.60 L104.10,485.85 L147.50,499.30" fill="none" stroke="#5e9a3c" stroke-width="1.8" stroke-linecap="round" stroke-dasharray="0.01 3.3"/>
<circle cx="60.70" cy="456.60" r="2.7" fill="#fff" fill-opacity="0.6" stroke="#5e9a3c" stroke-width="1.4"/>
<circle cx="104.10" cy="485.85" r="2.7" fill="#fff" fill-opacity="0.6" stroke="#5e9a3c" stroke-width="1.4"/>
<circle cx="147.50" cy="499.30" r="2.7" fill="#fff" fill-opacity="0.6" stroke="#5e9a3c" stroke-width="1.4"/>
<path d="M58.10,463.35 L63.30,468.56 M63.30,463.35 L58.10,468.56" stroke="#5e9a3c" stroke-width="1.6"/>
<path d="M101.50,465.11 L106.70,470.31 M106.70,465.11 L101.50,470.31" stroke="#5e9a3c" stroke-width="1.6"/>
<path d="M144.90,466.87 L150.10,472.07 M150.10,466.87 L144.90,472.07" stroke="#5e9a3c" stroke-width="1.6"/>
<path d="M180.80,447.50 V511.00 H281.30" fill="none" stroke="#111" stroke-width="1.4"/>
<line x1="177.40" y1="511.00" x2="180.80" y2="511.00" stroke="#111" stroke-width="1.2"/>
<text x="174.60" y="513.90" font-size="8" text-anchor="end" fill="#111" font-weight="normal" >0</text>
<line x1="177.40" y1="496.38" x2="180.80" y2="496.38" stroke="#111" stroke-width="1.2"/>
<text x="174.60" y="499.27" font-size="8" text-anchor="end" fill="#111" font-weight="normal" >25</text>
<line x1="177.40" y1="481.75" x2="180.80" y2="481.75" stroke="#111" stroke-width="1.2"/>
<text x="174.60" y="484.65" font-size="8" text-anchor="end" fill="#111" font-weight="normal" >50</text>
<line x1="177.40" y1="467.12" x2="180.80" y2="467.12" stroke="#111" stroke-width="1.2"/>
<text x="174.60" y="470.02" font-size="8" text-anchor="end" fill="#111" font-weight="normal" >75</text>
<line x1="177.40" y1="452.50" x2="180.80" y2="452.50" stroke="#111" stroke-width="1.2"/>
<text x="174.60" y="455.40" font-size="8" text-anchor="end" fill="#111" font-weight="normal" >100</text>
<line x1="189.00" y1="511.00" x2="189.00" y2="513.80" stroke="#111" stroke-width="1.2"/>
<text x="189.00" y="525.00" font-size="8" text-anchor="middle" fill="#111" font-weight="normal" >2.5</text>
<line x1="232.40" y1="511.00" x2="232.40" y2="513.80" stroke="#111" stroke-width="1.2"/>
<text x="232.40" y="525.00" font-size="8" text-anchor="middle" fill="#111" font-weight="normal" >5.0</text>
<line x1="275.80" y1="511.00" x2="275.80" y2="513.80" stroke="#111" stroke-width="1.2"/>
<text x="275.80" y="525.00" font-size="8" text-anchor="middle" fill="#111" font-weight="normal" >7.5</text>
<text x="222.00" y="449.60" font-size="9.8" text-anchor="middle" fill="#111" font-weight="normal" >CLL</text>
<line x1="213.25" y1="450.80" x2="230.75" y2="450.80" stroke="#1a1a1a" stroke-width="0.8"/>
<path d="M189.00,462.44 L232.40,494.62 L275.80,506.32" fill="none" stroke="#1f3d7a" stroke-width="1.8" stroke-linejoin="round"/>
<path d="M189.00,459.84 L191.60,462.44 L189.00,465.05 L186.40,462.44 Z" fill="#1f3d7a"/>
<path d="M232.40,492.02 L235.00,494.62 L232.40,497.22 L229.80,494.62 Z" fill="#1f3d7a"/>
<path d="M275.80,503.72 L278.40,506.32 L275.80,508.92 L273.20,506.32 Z" fill="#1f3d7a"/>
<path d="M189.00,468.88 L232.40,496.38 L275.80,506.90" fill="none" stroke="#1f3d7a" stroke-width="1.8" stroke-linejoin="round"/>
<path d="M189.00,466.08 L191.70,470.88 L186.30,470.88 Z" fill="#1f3d7a"/>
<path d="M232.40,493.57 L235.10,498.38 L229.70,498.38 Z" fill="#1f3d7a"/>
<path d="M275.80,504.10 L278.50,508.90 L273.10,508.90 Z" fill="#1f3d7a"/>
<path d="M189.00,470.63 L232.40,497.55 L275.80,507.49" fill="none" stroke="#1f3d7a" stroke-width="1.8" stroke-linejoin="round"/>
<circle cx="189.00" cy="470.63" r="2.2" fill="#1f3d7a"/>
<circle cx="232.40" cy="497.55" r="2.2" fill="#1f3d7a"/>
<circle cx="275.80" cy="507.49" r="2.2" fill="#1f3d7a"/>
<path d="M189.00,457.18 L232.40,487.60 L275.80,506.32" fill="none" stroke="#5e9a3c" stroke-width="1.8" stroke-linecap="round" stroke-dasharray="0.01 3.3"/>
<circle cx="189.00" cy="457.18" r="2.7" fill="#fff" fill-opacity="0.6" stroke="#5e9a3c" stroke-width="1.4"/>
<circle cx="232.40" cy="487.60" r="2.7" fill="#fff" fill-opacity="0.6" stroke="#5e9a3c" stroke-width="1.4"/>
<circle cx="275.80" cy="506.32" r="2.7" fill="#fff" fill-opacity="0.6" stroke="#5e9a3c" stroke-width="1.4"/>
<path d="M186.40,465.69 L191.60,470.90 M191.60,465.69 L186.40,470.90" stroke="#5e9a3c" stroke-width="1.6"/>
<path d="M229.80,468.62 L235.00,473.82 M235.00,468.62 L229.80,473.82" stroke="#5e9a3c" stroke-width="1.6"/>
<path d="M273.20,470.96 L278.40,476.16 M278.40,470.96 L273.20,476.16" stroke="#5e9a3c" stroke-width="1.6"/>
<path d="M307.70,447.50 V511.00 H408.20" fill="none" stroke="#111" stroke-width="1.4"/>
<line x1="304.30" y1="511.00" x2="307.70" y2="511.00" stroke="#111" stroke-width="1.2"/>
<text x="301.50" y="513.90" font-size="8" text-anchor="end" fill="#111" font-weight="normal" >0</text>
<line x1="304.30" y1="496.38" x2="307.70" y2="496.38" stroke="#111" stroke-width="1.2"/>
<text x="301.50" y="499.27" font-size="8" text-anchor="end" fill="#111" font-weight="normal" >25</text>
<line x1="304.30" y1="481.75" x2="307.70" y2="481.75" stroke="#111" stroke-width="1.2"/>
<text x="301.50" y="484.65" font-size="8" text-anchor="end" fill="#111" font-weight="normal" >50</text>
<line x1="304.30" y1="467.12" x2="307.70" y2="467.12" stroke="#111" stroke-width="1.2"/>
<text x="301.50" y="470.02" font-size="8" text-anchor="end" fill="#111" font-weight="normal" >75</text>
<line x1="304.30" y1="452.50" x2="307.70" y2="452.50" stroke="#111" stroke-width="1.2"/>
<text x="301.50" y="455.40" font-size="8" text-anchor="end" fill="#111" font-weight="normal" >100</text>
<line x1="315.90" y1="511.00" x2="315.90" y2="513.80" stroke="#111" stroke-width="1.2"/>
<text x="315.90" y="525.00" font-size="8" text-anchor="middle" fill="#111" font-weight="normal" >2.5</text>
<line x1="359.30" y1="511.00" x2="359.30" y2="513.80" stroke="#111" stroke-width="1.2"/>
<text x="359.30" y="525.00" font-size="8" text-anchor="middle" fill="#111" font-weight="normal" >5.0</text>
<line x1="402.70" y1="511.00" x2="402.70" y2="513.80" stroke="#111" stroke-width="1.2"/>
<text x="402.70" y="525.00" font-size="8" text-anchor="middle" fill="#111" font-weight="normal" >7.5</text>
<text x="334.80" y="449.60" font-size="9.8" text-anchor="middle" fill="#111" font-weight="normal" >MCL</text>
<line x1="324.55" y1="450.80" x2="345.05" y2="450.80" stroke="#1a1a1a" stroke-width="0.8"/>
<path d="M315.90,468.30 L359.30,492.28 L402.70,500.47" fill="none" stroke="#1f3d7a" stroke-width="1.8" stroke-linejoin="round"/>
<path d="M315.90,465.69 L318.50,468.30 L315.90,470.90 L313.30,468.30 Z" fill="#1f3d7a"/>
<path d="M359.30,489.68 L361.90,492.28 L359.30,494.88 L356.70,492.28 Z" fill="#1f3d7a"/>
<path d="M402.70,497.87 L405.30,500.47 L402.70,503.07 L400.10,500.47 Z" fill="#1f3d7a"/>
<path d="M315.90,468.88 L359.30,492.87 L402.70,501.06" fill="none" stroke="#1f3d7a" stroke-width="1.8" stroke-linejoin="round"/>
<path d="M315.90,466.08 L318.60,470.88 L313.20,470.88 Z" fill="#1f3d7a"/>
<path d="M359.30,490.06 L362.00,494.87 L356.60,494.87 Z" fill="#1f3d7a"/>
<path d="M402.70,498.25 L405.40,503.06 L400.00,503.06 Z" fill="#1f3d7a"/>
<path d="M315.90,470.05 L359.30,493.45 L402.70,501.06" fill="none" stroke="#1f3d7a" stroke-width="1.8" stroke-linejoin="round"/>
<circle cx="315.90" cy="470.05" r="2.2" fill="#1f3d7a"/>
<circle cx="359.30" cy="493.45" r="2.2" fill="#1f3d7a"/>
<circle cx="402.70" cy="501.06" r="2.2" fill="#1f3d7a"/>
<path d="M315.90,454.25 L359.30,481.75 L402.70,497.55" fill="none" stroke="#5e9a3c" stroke-width="1.8" stroke-linecap="round" stroke-dasharray="0.01 3.3"/>
<circle cx="315.90" cy="454.25" r="2.7" fill="#fff" fill-opacity="0.6" stroke="#5e9a3c" stroke-width="1.4"/>
<circle cx="359.30" cy="481.75" r="2.7" fill="#fff" fill-opacity="0.6" stroke="#5e9a3c" stroke-width="1.4"/>
<circle cx="402.70" cy="497.55" r="2.7" fill="#fff" fill-opacity="0.6" stroke="#5e9a3c" stroke-width="1.4"/>
<path d="M313.30,466.28 L318.50,471.48 M318.50,466.28 L313.30,471.48" stroke="#5e9a3c" stroke-width="1.6"/>
<path d="M356.70,467.45 L361.90,472.65 M361.90,467.45 L356.70,472.65" stroke="#5e9a3c" stroke-width="1.6"/>
<path d="M400.10,466.87 L405.30,472.07 M405.30,466.87 L400.10,472.07" stroke="#5e9a3c" stroke-width="1.6"/>
<path d="M52.70,552.70 V617.40 H153.20" fill="none" stroke="#111" stroke-width="1.4"/>
<line x1="49.30" y1="617.40" x2="52.70" y2="617.40" stroke="#111" stroke-width="1.2"/>
<text x="46.50" y="620.30" font-size="8" text-anchor="end" fill="#111" font-weight="normal" >0</text>
<line x1="49.30" y1="602.67" x2="52.70" y2="602.67" stroke="#111" stroke-width="1.2"/>
<text x="46.50" y="605.57" font-size="8" text-anchor="end" fill="#111" font-weight="normal" >25</text>
<line x1="49.30" y1="587.95" x2="52.70" y2="587.95" stroke="#111" stroke-width="1.2"/>
<text x="46.50" y="590.85" font-size="8" text-anchor="end" fill="#111" font-weight="normal" >50</text>
<line x1="49.30" y1="573.23" x2="52.70" y2="573.23" stroke="#111" stroke-width="1.2"/>
<text x="46.50" y="576.12" font-size="8" text-anchor="end" fill="#111" font-weight="normal" >75</text>
<line x1="49.30" y1="558.50" x2="52.70" y2="558.50" stroke="#111" stroke-width="1.2"/>
<text x="46.50" y="561.40" font-size="8" text-anchor="end" fill="#111" font-weight="normal" >100</text>
<line x1="60.90" y1="617.40" x2="60.90" y2="620.20" stroke="#111" stroke-width="1.2"/>
<text x="60.90" y="631.40" font-size="8" text-anchor="middle" fill="#111" font-weight="normal" >2.5</text>
<line x1="104.30" y1="617.40" x2="104.30" y2="620.20" stroke="#111" stroke-width="1.2"/>
<text x="104.30" y="631.40" font-size="8" text-anchor="middle" fill="#111" font-weight="normal" >5.0</text>
<line x1="147.70" y1="617.40" x2="147.70" y2="620.20" stroke="#111" stroke-width="1.2"/>
<text x="147.70" y="631.40" font-size="8" text-anchor="middle" fill="#111" font-weight="normal" >7.5</text>
<text x="97.90" y="551.50" font-size="9.8" text-anchor="middle" fill="#111" font-weight="normal" >SLL</text>
<line x1="89.25" y1="552.70" x2="106.55" y2="552.70" stroke="#1a1a1a" stroke-width="0.8"/>
<path d="M60.90,590.89 L104.30,611.51 L147.70,616.81" fill="none" stroke="#9c1436" stroke-width="1.8" stroke-linejoin="round"/>
<path d="M60.90,588.29 L63.50,590.89 L60.90,593.50 L58.30,590.89 Z" fill="#9c1436"/>
<path d="M104.30,608.91 L106.90,611.51 L104.30,614.11 L101.70,611.51 Z" fill="#9c1436"/>
<path d="M147.70,614.21 L150.30,616.81 L147.70,619.41 L145.10,616.81 Z" fill="#9c1436"/>
<path d="M60.90,598.55 L104.30,614.45 L147.70,617.40" fill="none" stroke="#9c1436" stroke-width="1.8" stroke-linejoin="round"/>
<path d="M60.90,595.75 L63.60,600.55 L58.20,600.55 Z" fill="#9c1436"/>
<path d="M104.30,611.65 L107.00,616.45 L101.60,616.45 Z" fill="#9c1436"/>
<path d="M147.70,614.60 L150.40,619.40 L145.00,619.40 Z" fill="#9c1436"/>
<path d="M60.90,602.67 L104.30,615.63 L147.70,617.40" fill="none" stroke="#9c1436" stroke-width="1.8" stroke-linejoin="round"/>
<circle cx="60.90" cy="602.67" r="2.2" fill="#9c1436"/>
<circle cx="104.30" cy="615.63" r="2.2" fill="#9c1436"/>
<circle cx="147.70" cy="617.40" r="2.2" fill="#9c1436"/>
<path d="M60.90,567.34 L104.30,597.96 L147.70,609.15" fill="none" stroke="#372865" stroke-width="1.8" stroke-linecap="round" stroke-dasharray="0.01 3.3"/>
<circle cx="60.90" cy="567.34" r="2.7" fill="#fff" fill-opacity="0.6" stroke="#372865" stroke-width="1.4"/>
<circle cx="104.30" cy="597.96" r="2.7" fill="#fff" fill-opacity="0.6" stroke="#372865" stroke-width="1.4"/>
<circle cx="147.70" cy="609.15" r="2.7" fill="#fff" fill-opacity="0.6" stroke="#372865" stroke-width="1.4"/>
<path d="M58.30,562.97 L63.50,568.17 M63.50,562.97 L58.30,568.17" stroke="#372865" stroke-width="1.6"/>
<path d="M101.70,562.97 L106.90,568.17 M106.90,562.97 L101.70,568.17" stroke="#372865" stroke-width="1.6"/>
<path d="M145.10,562.97 L150.30,568.17 M150.30,562.97 L145.10,568.17" stroke="#372865" stroke-width="1.6"/>
<path d="M179.60,552.70 V617.40 H280.10" fill="none" stroke="#111" stroke-width="1.4"/>
<line x1="176.20" y1="617.40" x2="179.60" y2="617.40" stroke="#111" stroke-width="1.2"/>
<text x="173.40" y="620.30" font-size="8" text-anchor="end" fill="#111" font-weight="normal" >0</text>
<line x1="176.20" y1="602.67" x2="179.60" y2="602.67" stroke="#111" stroke-width="1.2"/>
<text x="173.40" y="605.57" font-size="8" text-anchor="end" fill="#111" font-weight="normal" >25</text>
<line x1="176.20" y1="587.95" x2="179.60" y2="587.95" stroke="#111" stroke-width="1.2"/>
<text x="173.40" y="590.85" font-size="8" text-anchor="end" fill="#111" font-weight="normal" >50</text>
<line x1="176.20" y1="573.23" x2="179.60" y2="573.23" stroke="#111" stroke-width="1.2"/>
<text x="173.40" y="576.12" font-size="8" text-anchor="end" fill="#111" font-weight="normal" >75</text>
<line x1="176.20" y1="558.50" x2="179.60" y2="558.50" stroke="#111" stroke-width="1.2"/>
<text x="173.40" y="561.40" font-size="8" text-anchor="end" fill="#111" font-weight="normal" >100</text>
<line x1="187.80" y1="617.40" x2="187.80" y2="620.20" stroke="#111" stroke-width="1.2"/>
<text x="187.80" y="631.40" font-size="8" text-anchor="middle" fill="#111" font-weight="normal" >2.5</text>
<line x1="231.20" y1="617.40" x2="231.20" y2="620.20" stroke="#111" stroke-width="1.2"/>
<text x="231.20" y="631.40" font-size="8" text-anchor="middle" fill="#111" font-weight="normal" >5.0</text>
<line x1="274.60" y1="617.40" x2="274.60" y2="620.20" stroke="#111" stroke-width="1.2"/>
<text x="274.60" y="631.40" font-size="8" text-anchor="middle" fill="#111" font-weight="normal" >7.5</text>
<text x="226.70" y="551.50" font-size="9.8" text-anchor="middle" fill="#111" font-weight="normal" >CLL</text>
<line x1="217.95" y1="552.70" x2="235.45" y2="552.70" stroke="#1a1a1a" stroke-width="0.8"/>
<path d="M187.80,607.98 L231.20,615.04 L274.60,616.22" fill="none" stroke="#9c1436" stroke-width="1.8" stroke-linejoin="round"/>
<path d="M187.80,605.38 L190.40,607.98 L187.80,610.58 L185.20,607.98 Z" fill="#9c1436"/>
<path d="M231.20,612.44 L233.80,615.04 L231.20,617.64 L228.60,615.04 Z" fill="#9c1436"/>
<path d="M274.60,613.62 L277.20,616.22 L274.60,618.82 L272.00,616.22 Z" fill="#9c1436"/>
<path d="M187.80,612.69 L231.20,615.63 L274.60,616.22" fill="none" stroke="#9c1436" stroke-width="1.8" stroke-linejoin="round"/>
<path d="M187.80,609.89 L190.50,614.69 L185.10,614.69 Z" fill="#9c1436"/>
<path d="M231.20,612.83 L233.90,617.63 L228.50,617.63 Z" fill="#9c1436"/>
<path d="M274.60,613.42 L277.30,618.22 L271.90,618.22 Z" fill="#9c1436"/>
<path d="M187.80,613.87 L231.20,615.63 L274.60,616.22" fill="none" stroke="#9c1436" stroke-width="1.8" stroke-linejoin="round"/>
<circle cx="187.80" cy="613.87" r="2.2" fill="#9c1436"/>
<circle cx="231.20" cy="615.63" r="2.2" fill="#9c1436"/>
<circle cx="274.60" cy="616.22" r="2.2" fill="#9c1436"/>
<path d="M187.80,576.17 L231.20,603.85 L274.60,612.10" fill="none" stroke="#372865" stroke-width="1.8" stroke-linecap="round" stroke-dasharray="0.01 3.3"/>
<circle cx="187.80" cy="576.17" r="2.7" fill="#fff" fill-opacity="0.6" stroke="#372865" stroke-width="1.4"/>
<circle cx="231.20" cy="603.85" r="2.7" fill="#fff" fill-opacity="0.6" stroke="#372865" stroke-width="1.4"/>
<circle cx="274.60" cy="612.10" r="2.7" fill="#fff" fill-opacity="0.6" stroke="#372865" stroke-width="1.4"/>
<path d="M185.20,567.68 L190.40,572.88 M190.40,567.68 L185.20,572.88" stroke="#372865" stroke-width="1.6"/>
<path d="M228.60,570.62 L233.80,575.83 M233.80,570.62 L228.60,575.83" stroke="#372865" stroke-width="1.6"/>
<path d="M272.00,573.57 L277.20,578.77 M277.20,573.57 L272.00,578.77" stroke="#372865" stroke-width="1.6"/>
<path d="M307.30,552.70 V617.40 H407.80" fill="none" stroke="#111" stroke-width="1.4"/>
<line x1="303.90" y1="617.40" x2="307.30" y2="617.40" stroke="#111" stroke-width="1.2"/>
<text x="301.10" y="620.30" font-size="8" text-anchor="end" fill="#111" font-weight="normal" >0</text>
<line x1="303.90" y1="602.67" x2="307.30" y2="602.67" stroke="#111" stroke-width="1.2"/>
<text x="301.10" y="605.57" font-size="8" text-anchor="end" fill="#111" font-weight="normal" >25</text>
<line x1="303.90" y1="587.95" x2="307.30" y2="587.95" stroke="#111" stroke-width="1.2"/>
<text x="301.10" y="590.85" font-size="8" text-anchor="end" fill="#111" font-weight="normal" >50</text>
<line x1="303.90" y1="573.23" x2="307.30" y2="573.23" stroke="#111" stroke-width="1.2"/>
<text x="301.10" y="576.12" font-size="8" text-anchor="end" fill="#111" font-weight="normal" >75</text>
<line x1="303.90" y1="558.50" x2="307.30" y2="558.50" stroke="#111" stroke-width="1.2"/>
<text x="301.10" y="561.40" font-size="8" text-anchor="end" fill="#111" font-weight="normal" >100</text>
<line x1="315.50" y1="617.40" x2="315.50" y2="620.20" stroke="#111" stroke-width="1.2"/>
<text x="315.50" y="631.40" font-size="8" text-anchor="middle" fill="#111" font-weight="normal" >2.5</text>
<line x1="358.90" y1="617.40" x2="358.90" y2="620.20" stroke="#111" stroke-width="1.2"/>
<text x="358.90" y="631.40" font-size="8" text-anchor="middle" fill="#111" font-weight="normal" >5.0</text>
<line x1="402.30" y1="617.40" x2="402.30" y2="620.20" stroke="#111" stroke-width="1.2"/>
<text x="402.30" y="631.40" font-size="8" text-anchor="middle" fill="#111" font-weight="normal" >7.5</text>
<text x="340.00" y="551.50" font-size="9.8" text-anchor="middle" fill="#111" font-weight="normal" >MCL</text>
<line x1="329.75" y1="552.70" x2="350.25" y2="552.70" stroke="#1a1a1a" stroke-width="0.8"/>
<path d="M315.50,586.77 L358.90,609.15 L402.30,613.28" fill="none" stroke="#9c1436" stroke-width="1.8" stroke-linejoin="round"/>
<path d="M315.50,584.17 L318.10,586.77 L315.50,589.37 L312.90,586.77 Z" fill="#9c1436"/>
<path d="M358.90,606.55 L361.50,609.15 L358.90,611.75 L356.30,609.15 Z" fill="#9c1436"/>
<path d="M402.30,610.68 L404.90,613.28 L402.30,615.88 L399.70,613.28 Z" fill="#9c1436"/>
<path d="M315.50,593.84 L358.90,610.92 L402.30,613.28" fill="none" stroke="#9c1436" stroke-width="1.8" stroke-linejoin="round"/>
<path d="M315.50,591.04 L318.20,595.84 L312.80,595.84 Z" fill="#9c1436"/>
<path d="M358.90,608.12 L361.60,612.92 L356.20,612.92 Z" fill="#9c1436"/>
<path d="M402.30,610.48 L405.00,615.28 L399.60,615.28 Z" fill="#9c1436"/>
<path d="M315.50,596.20 L358.90,612.10 L402.30,613.28" fill="none" stroke="#9c1436" stroke-width="1.8" stroke-linejoin="round"/>
<circle cx="315.50" cy="596.20" r="2.2" fill="#9c1436"/>
<circle cx="358.90" cy="612.10" r="2.2" fill="#9c1436"/>
<circle cx="402.30" cy="613.28" r="2.2" fill="#9c1436"/>
<path d="M315.50,560.86 L358.90,580.88 L402.30,598.55" fill="none" stroke="#372865" stroke-width="1.8" stroke-linecap="round" stroke-dasharray="0.01 3.3"/>
<circle cx="315.50" cy="560.86" r="2.7" fill="#fff" fill-opacity="0.6" stroke="#372865" stroke-width="1.4"/>
<circle cx="358.90" cy="580.88" r="2.7" fill="#fff" fill-opacity="0.6" stroke="#372865" stroke-width="1.4"/>
<circle cx="402.30" cy="598.55" r="2.7" fill="#fff" fill-opacity="0.6" stroke="#372865" stroke-width="1.4"/>
<path d="M312.90,567.68 L318.10,572.88 M318.10,567.68 L312.90,572.88" stroke="#372865" stroke-width="1.6"/>
<path d="M356.30,566.50 L361.50,571.70 M361.50,566.50 L356.30,571.70" stroke="#372865" stroke-width="1.6"/>
<path d="M399.70,563.56 L404.90,568.76 M404.90,563.56 L399.70,568.76" stroke="#372865" stroke-width="1.6"/>
<path d="M229,468.7 H234.6 M229,473.9 H234.6" stroke="#5e9a3c" stroke-width="1.3"/>
<path d="M316,463.2 V467 M314,463.4 H318" stroke="#1f3d7a" stroke-width="1.2"/>
<text x="0" y="0" font-size="9" text-anchor="middle" fill="#1a1a1a" transform="translate(26.8,545.5) rotate(-90)">Cell viability (%)</text>
<text x="221.90" y="538.20" font-size="9" text-anchor="middle" fill="#111" font-weight="normal" >Bz (nM)</text>
<text x="222.00" y="644.80" font-size="9" text-anchor="middle" fill="#111" font-weight="normal" >Cfz (nM)</text>
<path d="M416.70,449.20 L422.30,454.80 M422.30,449.20 L416.70,454.80" stroke="#5e9a3c" stroke-width="1.7"/>
<text x="427.50" y="454.70" font-size="7.5" text-anchor="start" fill="#111" font-weight="normal" >Ide (μM)</text>
<line x1="414.4" y1="463.70" x2="424.6" y2="463.70" stroke="#5e9a3c" stroke-width="1.5"/>
<circle cx="419.50" cy="463.70" r="2.7" fill="#fff" stroke="#5e9a3c" stroke-width="1.6"/>
<circle cx="419.50" cy="463.70" r="0.8" fill="#5e9a3c"/>
<text x="427.50" y="466.40" font-size="7.5" text-anchor="start" fill="#111" font-weight="normal" >Bz</text>
<line x1="414.4" y1="475.30" x2="424.6" y2="475.30" stroke="#1f3d7a" stroke-width="1.7"/>
<path d="M419.50,472.50 L422.30,475.30 L419.50,478.10 L416.70,475.30 Z" fill="#1f3d7a"/>
<text x="427.50" y="478.00" font-size="7.5" text-anchor="start" fill="#111" font-weight="normal" >Bz + Ide 2.5μM</text>
<line x1="414.4" y1="486.80" x2="424.6" y2="486.80" stroke="#1f3d7a" stroke-width="1.7"/>
<path d="M419.50,483.80 L422.50,489.00 L416.50,489.00 Z" fill="#1f3d7a"/>
<text x="427.50" y="489.50" font-size="7.5" text-anchor="start" fill="#111" font-weight="normal" >Bz + Ide 5.0μM</text>
<line x1="414.4" y1="498.30" x2="424.6" y2="498.30" stroke="#1f3d7a" stroke-width="1.7"/>
<circle cx="419.50" cy="498.30" r="2.7" fill="#1f3d7a"/>
<text x="427.50" y="501.00" font-size="7.5" text-anchor="start" fill="#111" font-weight="normal" >Bz + Ide 7.5μM</text>
<path d="M416.70,549.20 L422.30,554.80 M422.30,549.20 L416.70,554.80" stroke="#372865" stroke-width="1.7"/>
<text x="427.50" y="554.70" font-size="7.5" text-anchor="start" fill="#111" font-weight="normal" >TG (μM)</text>
<line x1="414.4" y1="563.70" x2="424.6" y2="563.70" stroke="#372865" stroke-width="1.5"/>
<circle cx="419.50" cy="563.70" r="2.7" fill="#fff" stroke="#372865" stroke-width="1.6"/>
<circle cx="419.50" cy="563.70" r="0.8" fill="#372865"/>
<text x="427.50" y="566.40" font-size="7.5" text-anchor="start" fill="#111" font-weight="normal" >Cfz</text>
<line x1="414.4" y1="575.30" x2="424.6" y2="575.30" stroke="#9c1436" stroke-width="1.7"/>
<path d="M419.50,572.50 L422.30,575.30 L419.50,578.10 L416.70,575.30 Z" fill="#9c1436"/>
<text x="427.50" y="578.00" font-size="7.5" text-anchor="start" fill="#111" font-weight="normal" >TG 2.5μM + Cfz</text>
<line x1="414.4" y1="586.80" x2="424.6" y2="586.80" stroke="#9c1436" stroke-width="1.7"/>
<path d="M419.50,583.80 L422.50,589.00 L416.50,589.00 Z" fill="#9c1436"/>
<text x="427.50" y="589.50" font-size="7.5" text-anchor="start" fill="#111" font-weight="normal" >TG 5μM + Cfz</text>
<line x1="414.4" y1="598.30" x2="424.6" y2="598.30" stroke="#9c1436" stroke-width="1.7"/>
<circle cx="419.50" cy="598.30" r="2.7" fill="#9c1436"/>
<text x="427.50" y="601.00" font-size="7.5" text-anchor="start" fill="#111" font-weight="normal" >TG 7.5μM + Cfz</text>
<text x="7.50" y="660.80" font-size="12" text-anchor="start" fill="#000" font-weight="bold" >D</text>
<text x="26.40" y="663.60" font-size="10.3" text-anchor="start" fill="#111" font-weight="normal" >LY10</text>
<line x1="26.4" y1="665.2" x2="49.8" y2="665.2" stroke="#1a1a1a" stroke-width="0.9"/>
<text x="255.50" y="658.00" font-size="10.3" text-anchor="start" fill="#111" font-weight="normal" >LY7</text>
<line x1="255.5" y1="659.6" x2="273.8" y2="659.6" stroke="#1a1a1a" stroke-width="0.8"/>
<text x="49.50" y="687.80" font-size="10" text-anchor="end" fill="#111" font-weight="normal" >PARP</text>
<text x="49.50" y="710.80" font-size="10" text-anchor="end" fill="#111" font-weight="normal" >b-Actin</text>
<defs><filter id="blur" x="-20%" y="-100%" width="140%" height="300%"><feGaussianBlur stdDeviation="0.9"/></filter></defs>
<rect x="53" y="675.2" width="205" height="17.8" fill="#9d9d9d"/>
<rect x="53" y="699.8" width="205" height="14.8" fill="#a0a0a0"/>
<rect x="272.5" y="670.9" width="202.7" height="20.8" fill="#b0b0b0"/>
<rect x="272.5" y="698.2" width="202.7" height="16.5" fill="#a6a6a6"/>
<rect x="57.30" y="679.55" width="23.50" height="3.30" rx="1.65" fill="#141414" fill-opacity="1.0" filter="url(#blur)"/>
<rect x="55.30" y="706.10" width="27.50" height="5.00" rx="2.50" fill="#2e2e2e" fill-opacity="1.0" filter="url(#blur)"/>
<rect x="88.50" y="679.28" width="21.50" height="3.30" rx="1.65" fill="#141414" fill-opacity="1.0" filter="url(#blur)"/>
<rect x="86.50" y="705.77" width="25.50" height="5.00" rx="2.50" fill="#2e2e2e" fill-opacity="1.0" filter="url(#blur)"/>
<rect x="117.00" y="679.02" width="22.40" height="3.30" rx="1.65" fill="#141414" fill-opacity="1.0" filter="url(#blur)"/>
<rect x="115.00" y="705.43" width="26.40" height="5.00" rx="2.50" fill="#2e2e2e" fill-opacity="1.0" filter="url(#blur)"/>
<rect x="149.00" y="679.00" width="17.00" height="1.60" rx="0.80" fill="#555" fill-opacity="0.8" filter="url(#blur)"/>
<rect x="147.00" y="687.00" width="20.00" height="3.20" rx="1.60" fill="#141414" fill-opacity="1.0" filter="url(#blur)"/>
<rect x="145.00" y="705.10" width="24.00" height="5.00" rx="2.50" fill="#2e2e2e" fill-opacity="1.0" filter="url(#blur)"/>
<rect x="175.00" y="678.48" width="21.30" height="3.30" rx="1.65" fill="#141414" fill-opacity="1.0" filter="url(#blur)"/>
<rect x="173.00" y="704.77" width="25.30" height="5.00" rx="2.50" fill="#2e2e2e" fill-opacity="1.0" filter="url(#blur)"/>
<rect x="203.80" y="678.22" width="21.20" height="3.30" rx="1.65" fill="#141414" fill-opacity="1.0" filter="url(#blur)"/>
<rect x="201.80" y="704.43" width="25.20" height="5.00" rx="2.50" fill="#2e2e2e" fill-opacity="1.0" filter="url(#blur)"/>
<rect x="232.00" y="677.95" width="24.30" height="3.30" rx="1.65" fill="#141414" fill-opacity="1.0" filter="url(#blur)"/>
<rect x="230.00" y="704.80" width="28.30" height="5.60" rx="2.80" fill="#2a2a2a" fill-opacity="1.0" filter="url(#blur)"/>
<rect x="119.00" y="688.30" width="14.00" height="1.80" rx="0.90" fill="#666" fill-opacity="0.7" filter="url(#blur)"/>
<rect x="275.00" y="674.20" width="23.80" height="5.60" rx="2.80" fill="#0e0e0e" fill-opacity="1.0" filter="url(#blur)"/>
<rect x="273.50" y="703.40" width="26.80" height="6.80" rx="3.40" fill="#181818" fill-opacity="1.0" filter="url(#blur)"/>
<rect x="303.80" y="674.20" width="23.70" height="5.60" rx="2.80" fill="#0e0e0e" fill-opacity="1.0" filter="url(#blur)"/>
<rect x="302.30" y="703.40" width="26.70" height="6.80" rx="3.40" fill="#181818" fill-opacity="1.0" filter="url(#blur)"/>
<rect x="331.30" y="674.20" width="23.70" height="5.60" rx="2.80" fill="#0e0e0e" fill-opacity="1.0" filter="url(#blur)"/>
<rect x="329.80" y="703.40" width="26.70" height="6.80" rx="3.40" fill="#181818" fill-opacity="1.0" filter="url(#blur)"/>
<rect x="359.30" y="674.20" width="24.70" height="5.60" rx="2.80" fill="#0e0e0e" fill-opacity="1.0" filter="url(#blur)"/>
<rect x="357.80" y="703.40" width="27.70" height="6.80" rx="3.40" fill="#181818" fill-opacity="1.0" filter="url(#blur)"/>
<rect x="385.80" y="674.20" width="26.00" height="5.60" rx="2.80" fill="#0e0e0e" fill-opacity="1.0" filter="url(#blur)"/>
<rect x="384.30" y="703.40" width="29.00" height="6.80" rx="3.40" fill="#181818" fill-opacity="1.0" filter="url(#blur)"/>
<rect x="416.00" y="674.20" width="22.60" height="5.60" rx="2.80" fill="#0e0e0e" fill-opacity="1.0" filter="url(#blur)"/>
<rect x="416.00" y="685.70" width="22.60" height="3.40" rx="1.70" fill="#141414" fill-opacity="1.0" filter="url(#blur)"/>
<rect x="414.50" y="703.40" width="25.60" height="6.80" rx="3.40" fill="#181818" fill-opacity="1.0" filter="url(#blur)"/>
<rect x="449.40" y="675.10" width="17.00" height="1.80" rx="0.90" fill="#555" fill-opacity="0.8" filter="url(#blur)"/>
<rect x="446.40" y="684.40" width="23.00" height="5.60" rx="2.80" fill="#0c0c0c" fill-opacity="1.0" filter="url(#blur)"/>
<rect x="444.90" y="703.40" width="26.00" height="6.80" rx="3.40" fill="#181818" fill-opacity="1.0" filter="url(#blur)"/>
<rect x="362.00" y="686.60" width="18.00" height="1.80" rx="0.90" fill="#777" fill-opacity="0.7" filter="url(#blur)"/>
<text x="0" y="3.5" font-size="10" text-anchor="middle" fill="#111" transform="translate(74,665) rotate(-40)">neg</text>
<text x="0" y="3.5" font-size="10" text-anchor="middle" fill="#111" transform="translate(102,664.2) rotate(-40)">TG</text>
<text x="0" y="3.5" font-size="10" text-anchor="middle" fill="#111" transform="translate(130.8,665.2) rotate(-40)">Cfz</text>
<text x="0" y="3.5" font-size="10" text-anchor="middle" fill="#111" transform="translate(158.8,666.2) rotate(-40)">TC</text>
<text x="0" y="3.5" font-size="10" text-anchor="middle" fill="#111" transform="translate(187.5,666) rotate(-40)">Ide</text>
<text x="0" y="3.5" font-size="10" text-anchor="middle" fill="#111" transform="translate(214.5,666) rotate(-40)">Bz</text>
<text x="0" y="3.5" font-size="10" text-anchor="middle" fill="#111" transform="translate(245,666) rotate(-40)">IB</text>
<text x="0" y="3.5" font-size="10" text-anchor="middle" fill="#111" transform="translate(291.3,660) rotate(-40)">neg</text>
<text x="0" y="3.5" font-size="10" text-anchor="middle" fill="#111" transform="translate(318.8,660) rotate(-40)">TG</text>
<text x="0" y="3.5" font-size="10" text-anchor="middle" fill="#111" transform="translate(346.3,660) rotate(-40)">Ide</text>
<text x="0" y="3.5" font-size="10" text-anchor="middle" fill="#111" transform="translate(372.5,660) rotate(-40)">Bz</text>
<text x="0" y="3.5" font-size="10" text-anchor="middle" fill="#111" transform="translate(401.7,660.8) rotate(-40)">Cfz</text>
<text x="0" y="3.5" font-size="10" text-anchor="middle" fill="#111" transform="translate(426.2,660) rotate(-40)">IB</text>
<text x="0" y="3.5" font-size="10" text-anchor="middle" fill="#111" transform="translate(455,660) rotate(-40)">TC</text>
<line x1="-6.8" y1="5.6" x2="6.8" y2="5.6" stroke="#1a1a1a" stroke-width="0.9" transform="translate(455,660) rotate(-40)"/>
</svg><div style="position:absolute;left:0;top:0;width:520px;height:723px;box-sizing:border-box;border:1px solid #000;border-bottom-width:2px"></div><div style="position:absolute;left:1px;top:1px;width:518px;height:720px;box-sizing:border-box;border:1px solid #a8a8a8;border-bottom:0"></div></body></html>
